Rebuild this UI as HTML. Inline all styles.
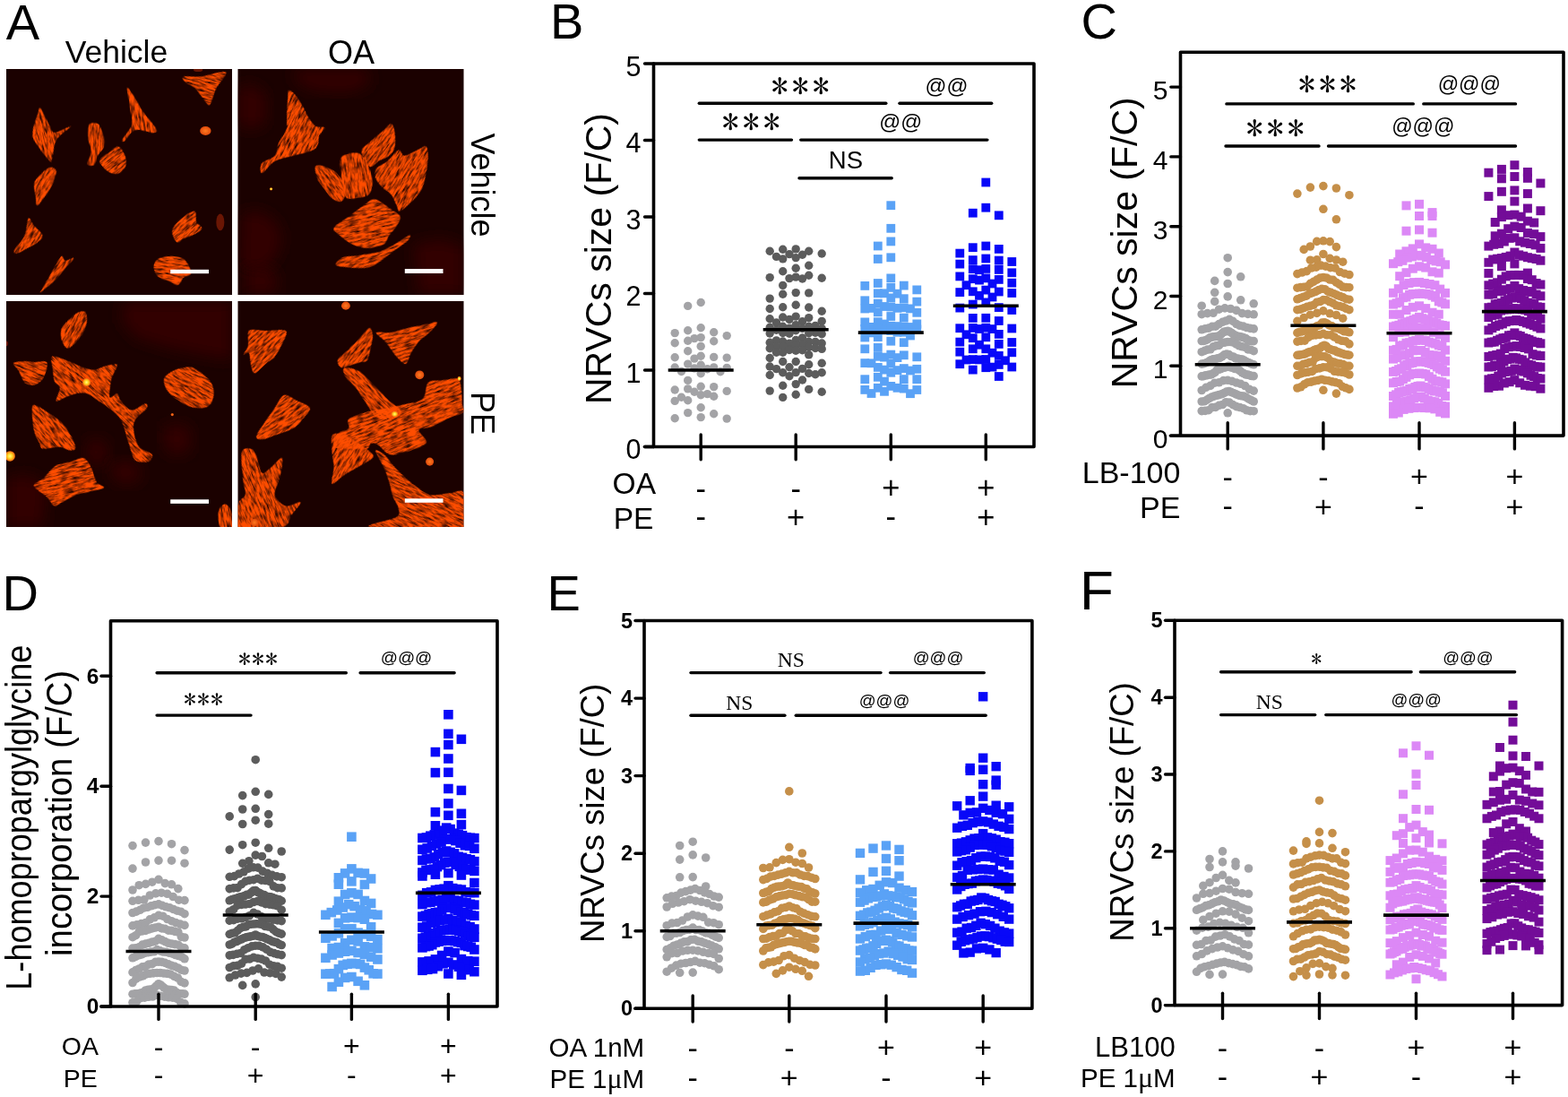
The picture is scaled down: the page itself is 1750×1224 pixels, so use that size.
<!DOCTYPE html>
<html><head><meta charset="utf-8"><title>Figure</title>
<style>html,body{margin:0;padding:0;background:#fff;} svg{display:block;}</style>
</head><body>
<svg width="1750" height="1224" viewBox="0 0 1750 1224">
<rect width="1750" height="1224" fill="#fff"/>
<defs><clipPath id="clipimg"><rect x="0" y="0" width="252" height="252"/></clipPath><filter id="cellf0" x="-10%" y="-10%" width="120%" height="120%"><feTurbulence type="fractalNoise" baseFrequency="0.018 0.1" numOctaves="3" seed="3" result="n"/><feColorMatrix in="n" type="matrix" values="0 0 0 0 0  0 0 0 0 0  0 0 0 0 0  0 0 0 2.2 -0.33" result="na"/><feComposite in="SourceGraphic" in2="na" operator="in" result="tex"/><feGaussianBlur in="tex" stdDeviation="3"/></filter><filter id="cellf1" x="-10%" y="-10%" width="120%" height="120%"><feTurbulence type="fractalNoise" baseFrequency="0.018 0.1" numOctaves="3" seed="11" result="n"/><feColorMatrix in="n" type="matrix" values="0 0 0 0 0  0 0 0 0 0  0 0 0 0 0  0 0 0 2.2 -0.33" result="na"/><feComposite in="SourceGraphic" in2="na" operator="in" result="tex"/><feGaussianBlur in="tex" stdDeviation="3"/></filter><filter id="cellf2" x="-10%" y="-10%" width="120%" height="120%"><feTurbulence type="fractalNoise" baseFrequency="0.018 0.1" numOctaves="3" seed="23" result="n"/><feColorMatrix in="n" type="matrix" values="0 0 0 0 0  0 0 0 0 0  0 0 0 0 0  0 0 0 2.2 -0.33" result="na"/><feComposite in="SourceGraphic" in2="na" operator="in" result="tex"/><feGaussianBlur in="tex" stdDeviation="3"/></filter><filter id="faintf" x="-20%" y="-20%" width="140%" height="140%"><feGaussianBlur stdDeviation="40"/></filter><radialGradient id="brightdot"><stop offset="0" stop-color="#ffff80"/><stop offset="0.5" stop-color="#ffd020"/><stop offset="1" stop-color="#f06010"/></radialGradient><radialGradient id="orangedot"><stop offset="0" stop-color="#ff7a20"/><stop offset="1" stop-color="#e04a0c"/></radialGradient></defs>
<text x="6.8" y="43.7" font-size="56" text-anchor="start" font-weight="normal" font-family="'Liberation Sans', Arial, sans-serif" >A</text>
<text x="130.0" y="69.9" font-size="35.5" text-anchor="middle" font-weight="normal" font-family="'Liberation Sans', Arial, sans-serif" >Vehicle</text>
<text x="392.0" y="71.0" font-size="36" text-anchor="middle" font-weight="normal" font-family="'Liberation Sans', Arial, sans-serif" >OA</text>
<text transform="translate(525.5,206.5) rotate(90)" x="0" y="0" font-size="36" text-anchor="middle" font-family="'Liberation Sans', Arial, sans-serif">Vehicle</text>
<text transform="translate(526.0,460.9) rotate(90)" x="0" y="0" font-size="36" text-anchor="middle" font-family="'Liberation Sans', Arial, sans-serif">PE</text>
<g transform="translate(7,77)">
<rect x="0" y="0" width="252" height="252" fill="#1b0100"/>
<g clip-path="url(#clipimg)"><g transform="scale(0.205882)">
<g transform="rotate(76.6 225 349)"><path d="M82,356C94,349 155,338 179,331C202,324 223,331 229,312C235,294 210,217 216,217C223,217 247,289 271,312C295,335 352,349 367,359C383,370 388,365 368,376C348,388 271,423 242,430C214,438 210,431 188,423C166,414 123,386 106,375C90,365 71,363 82,356Z" fill="#ff4e06" filter="url(#cellf0)"/></g>
<g transform="rotate(91.8 477 403)"><path d="M370,428C366,420 363,395 373,383C383,372 413,362 432,356C452,351 475,345 492,349C510,354 527,375 543,383C560,391 587,393 594,401C601,410 601,434 590,436C579,439 546,419 525,419C503,418 476,433 455,436C434,439 409,439 395,438C381,436 373,437 370,428Z" fill="#ff4e06" filter="url(#cellf1)"/></g>
<g transform="rotate(140.7 581 498)"><path d="M631,550C619,554 586,550 567,549C548,548 522,553 513,544C505,534 507,507 512,490C516,473 528,448 542,438C556,428 586,424 601,428C617,432 630,448 637,464C644,479 647,509 646,523C645,537 644,545 631,550Z" fill="#ff4e06" filter="url(#cellf2)"/></g>
<g transform="rotate(83.9 702 276)"><path d="M523,304C517,299 565,277 587,266C610,254 634,248 661,233C689,219 739,181 758,173C778,166 782,168 782,186C782,204 752,258 756,284C761,310 803,338 810,350C816,362 812,367 799,359C785,351 752,310 724,300C697,291 656,299 624,300C592,300 529,309 523,304Z" fill="#ff4e06" filter="url(#cellf0)"/></g>
<g transform="rotate(-165.0 1068 96)"><path d="M1186,121C1175,129 1134,131 1099,145C1065,158 987,211 971,205C954,199 992,134 997,110C1002,86 1001,73 1003,56C1005,40 1002,10 1011,8C1020,5 1045,30 1061,41C1078,52 1096,70 1113,79C1130,88 1157,88 1169,95C1181,102 1197,113 1186,121Z" fill="#ff4e06" filter="url(#cellf1)"/></g>
<g transform="rotate(119.0 204 628)"><path d="M200,680C179,677 125,662 110,650C94,639 97,617 103,608C110,599 133,595 152,593C170,590 192,588 219,590C245,591 307,597 318,603C329,610 300,621 288,632C275,642 254,662 240,669C226,677 221,683 200,680Z" fill="#ff4e06" filter="url(#cellf2)"/></g>
<g transform="rotate(124.2 114 921)"><path d="M18,979C7,977 29,949 34,931C40,913 40,877 50,866C61,855 75,857 98,864C120,871 171,900 190,910C208,921 213,924 215,930C217,935 219,943 201,945C183,947 133,939 104,945C75,950 29,981 18,979Z" fill="#ff4e06" filter="url(#cellf0)"/></g>
<g transform="rotate(128.3 271 1103)"><path d="M184,1135C176,1131 196,1113 191,1104C186,1095 146,1082 151,1078C156,1074 196,1079 223,1079C249,1080 288,1080 315,1083C342,1086 376,1096 391,1099C406,1103 416,1102 408,1105C400,1107 367,1110 339,1115C312,1119 263,1128 238,1131C213,1134 191,1140 184,1135Z" fill="#ff4e06" filter="url(#cellf1)"/></g>
<g transform="rotate(137.9 977 868)"><path d="M1035,918C1018,926 983,930 958,929C933,928 886,922 879,911C872,900 907,875 912,860C917,845 903,825 910,818C916,811 934,812 952,816C970,819 1007,835 1024,840C1041,845 1054,840 1060,845C1066,851 1065,862 1061,874C1057,885 1052,909 1035,918Z" fill="#ff4e06" filter="url(#cellf2)"/></g>
<g transform="rotate(-171.7 899 1090)"><path d="M1001,1106C998,1118 991,1135 976,1144C961,1154 929,1162 908,1164C887,1167 862,1165 847,1158C831,1152 819,1135 811,1123C803,1111 792,1095 795,1085C799,1075 822,1070 832,1059C842,1048 844,1020 856,1015C868,1010 892,1024 908,1028C925,1032 948,1034 961,1041C974,1047 984,1056 990,1067C996,1077 1003,1093 1001,1106Z" fill="#ff4e06" filter="url(#cellf0)"/></g>
<ellipse cx="1080" cy="335" rx="30" ry="24" fill="url(#orangedot)"/>
<ellipse cx="1160" cy="830" rx="22" ry="45" fill="#6a1604"/>
<ellipse cx="1040" cy="5" rx="25" ry="10" fill="#6a1604"/>
</g></g>
<rect x="183.2" y="223.8" width="42.8" height="4.4" fill="#fff"/>
</g>
<g transform="translate(265.5,77)">
<rect x="0" y="0" width="252" height="252" fill="#1b0100"/>
<g clip-path="url(#clipimg)"><g transform="scale(0.205882)">
<polygon points="20,780 120,770 200,820 240,900 220,1000 160,1080 60,1100 10,1050" fill="#300602" filter="url(#faintf)"/>
<polygon points="40,1080 140,1060 220,1120 200,1224 40,1224" fill="#300602" filter="url(#faintf)"/>
<polygon points="300,0 700,0 720,80 600,130 420,120 320,80" fill="#300602" filter="url(#faintf)"/>
<polygon points="950,950 1100,920 1224,960 1224,1224 980,1224" fill="#300602" filter="url(#faintf)"/>
<polygon points="0,100 80,80 160,150 150,300 60,330 0,300" fill="#300602" filter="url(#faintf)"/>
<g transform="rotate(115.5 302 345)"><path d="M106,468C100,464 106,442 113,426C120,409 138,382 150,364C163,345 180,328 191,311C202,293 217,270 219,253C221,236 199,211 205,205C211,198 238,215 256,214C273,212 297,194 314,197C331,199 347,214 363,229C379,244 396,270 415,292C435,315 460,352 485,370C511,388 568,396 574,405C581,414 543,432 525,429C506,425 480,388 458,383C436,377 411,394 387,395C362,396 334,384 306,389C279,394 239,417 214,427C189,438 166,447 148,453C131,460 111,472 106,468Z" fill="#ff4e06" filter="url(#cellf0)"/></g>
<g transform="rotate(125.6 770 422)"><path d="M843,492C826,498 799,486 773,480C748,475 707,464 684,458C661,453 636,455 632,446C628,438 643,418 657,404C672,390 703,366 722,357C742,349 762,348 780,353C799,357 823,377 840,384C857,391 881,390 887,399C894,408 887,426 880,441C873,456 860,486 843,492Z" fill="#ff4e06" filter="url(#cellf1)"/></g>
<g transform="rotate(83.2 644 590)"><path d="M524,661C509,645 503,590 510,569C518,547 553,535 571,525C589,516 605,514 623,511C641,509 665,505 683,509C702,512 729,521 741,536C752,550 753,578 753,597C754,617 757,645 746,657C735,669 707,668 684,670C662,672 629,672 604,670C578,669 539,677 524,661Z" fill="#ff4e06" filter="url(#cellf2)"/></g>
<g transform="rotate(53.0 502 619)"><path d="M381,631C376,621 387,607 401,596C416,585 448,567 471,561C495,556 525,556 546,562C568,568 595,588 605,600C616,612 620,628 614,638C609,648 591,657 571,662C552,666 515,666 493,666C471,665 453,665 435,659C417,654 387,641 381,631Z" fill="#ff4e06" filter="url(#cellf0)"/></g>
<g transform="rotate(119.8 900 565)"><path d="M952,707C935,705 911,684 888,675C864,666 817,663 806,653C795,643 822,624 817,612C812,600 788,588 775,578C762,569 747,561 738,554C728,546 712,541 714,533C716,524 733,510 753,499C772,488 810,472 836,463C862,454 891,443 915,441C939,438 959,439 987,446C1014,452 1074,470 1087,480C1101,491 1080,498 1071,513C1063,527 1042,549 1034,568C1027,587 1030,613 1024,632C1018,651 1010,675 998,687C987,699 970,709 952,707Z" fill="#ff4e06" filter="url(#cellf1)"/></g>
<g transform="rotate(166.2 716 849)"><path d="M909,884C897,898 846,911 817,924C787,936 750,953 725,963C699,972 681,991 658,983C636,974 602,928 584,908C566,888 546,872 545,857C544,842 563,826 576,813C589,800 612,787 627,774C642,761 647,739 668,733C689,726 734,728 760,735C786,741 812,757 833,773C854,790 877,821 889,838C901,856 920,871 909,884Z" fill="#ff4e06" filter="url(#cellf2)"/></g>
<g transform="rotate(159.8 737 1005)"><path d="M951,1024C952,1034 920,1047 900,1048C879,1049 851,1036 821,1030C791,1024 744,1012 711,1010C678,1008 643,1013 613,1017C582,1021 532,1037 520,1036C509,1035 522,1020 540,1011C559,1003 605,992 636,983C667,974 706,959 732,954C757,949 771,946 797,951C822,956 866,974 890,986C915,998 949,1014 951,1024Z" fill="#ff4e06" filter="url(#cellf0)"/></g>
<ellipse cx="180" cy="650" rx="8" ry="8" fill="url(#brightdot)"/>
</g></g>
<rect x="186.3" y="223.0" width="42.7" height="5.0" fill="#fff"/>
</g>
<g transform="translate(7,336)">
<rect x="0" y="0" width="252" height="252" fill="#1b0100"/>
<g clip-path="url(#clipimg)"><g transform="scale(0.205882)">
<polygon points="640,0 1224,0 1224,320 1100,300 900,260 700,200 620,100" fill="#300602" filter="url(#faintf)"/>
<polygon points="850,680 960,660 1010,720 990,820 900,840 850,780" fill="#300602" filter="url(#faintf)"/>
<polygon points="0,960 120,940 220,1000 200,1224 0,1224" fill="#300602" filter="url(#faintf)"/>
<polygon points="430,760 520,740 560,820 520,900 440,880" fill="#300602" filter="url(#faintf)"/>
<polygon points="560,880 700,860 740,960 650,1000 570,960" fill="#300602" filter="url(#faintf)"/>
<g transform="rotate(118.4 367 152)"><path d="M398,212C379,214 354,206 335,200C315,194 288,185 276,175C263,166 252,151 257,140C262,129 289,113 307,107C326,101 351,100 372,101C392,101 418,106 435,112C451,118 473,124 476,135C478,147 463,171 450,183C438,195 416,209 398,212Z" fill="#ff4e06" filter="url(#cellf0)"/></g>
<g transform="rotate(-157.9 134 382)"><path d="M240,389C238,399 204,414 188,421C172,429 158,429 139,435C121,442 88,468 75,462C62,455 58,412 58,393C57,374 63,357 70,345C77,332 90,321 102,316C114,311 130,308 144,315C159,322 180,347 195,359C210,371 241,379 240,389Z" fill="#ff4e06" filter="url(#cellf1)"/></g>
<g transform="rotate(-136.3 535 546)"><path d="M914,523C913,534 882,546 867,554C851,562 836,566 817,574C798,581 765,591 746,601C726,610 708,620 695,635C683,649 677,675 666,691C655,707 637,741 626,736C615,731 610,686 596,661C581,636 546,588 534,582C522,576 528,620 519,624C510,628 496,610 477,609C457,607 415,601 399,614C382,627 380,678 372,688C364,698 351,692 348,677C344,661 355,613 350,592C345,570 334,557 315,542C297,526 258,501 232,497C206,493 168,520 153,517C139,513 136,486 140,474C144,462 165,446 176,439C188,433 193,427 212,433C231,439 264,461 296,477C327,494 376,527 408,536C439,546 467,540 492,538C517,537 541,530 563,526C586,522 616,522 634,513C653,505 666,487 678,472C689,456 699,433 707,416C716,399 721,364 730,367C739,369 750,420 764,431C777,443 796,431 813,439C830,448 852,470 868,483C885,496 914,512 914,523Z" fill="#ff4e06" filter="url(#cellf2)"/></g>
<g transform="rotate(-150.3 998 465)"><path d="M1144,433C1148,449 1135,474 1125,490C1115,507 1097,526 1083,537C1069,549 1058,559 1040,562C1021,565 988,560 968,557C947,554 929,552 913,542C897,533 879,515 870,498C861,481 855,452 858,436C860,419 872,406 887,396C902,385 929,374 953,370C976,366 1010,367 1033,370C1057,373 1084,378 1102,389C1119,399 1141,417 1144,433Z" fill="#ff4e06" filter="url(#cellf0)"/></g>
<g transform="rotate(49.2 245 706)"><path d="M81,703C66,688 72,686 83,678C94,671 125,663 148,656C172,649 206,638 232,635C258,632 284,632 310,637C336,641 380,653 394,662C407,672 401,684 392,694C384,705 355,710 338,727C321,744 301,790 287,801C273,813 268,801 251,797C234,793 206,789 178,774C151,759 96,718 81,703Z" fill="#ff4e06" filter="url(#cellf1)"/></g>
<g transform="rotate(165.0 345 985)"><path d="M538,1020C537,1036 503,1034 479,1046C456,1058 421,1088 394,1095C367,1103 336,1094 311,1094C286,1094 254,1105 239,1095C223,1086 218,1060 213,1037C207,1014 211,972 204,952C198,932 167,919 174,912C180,906 222,911 246,911C271,911 302,915 329,913C356,910 395,899 416,895C437,890 449,878 460,886C471,893 474,923 486,944C498,966 539,1004 538,1020Z" fill="#ff4e06" filter="url(#cellf2)"/></g>
<g transform="rotate(80.6 1191 1165)"><path d="M1160,1201C1141,1195 1127,1175 1126,1165C1124,1155 1137,1144 1150,1139C1164,1134 1195,1134 1212,1135C1229,1135 1250,1131 1255,1142C1260,1153 1260,1196 1245,1205C1230,1215 1179,1208 1160,1201Z" fill="#ff4e06" filter="url(#cellf0)"/></g>
<ellipse cx="20" cy="840" rx="28" ry="28" fill="url(#brightdot)"/>
<ellipse cx="435" cy="440" rx="22" ry="22" fill="url(#brightdot)"/>
<ellipse cx="900" cy="615" rx="8" ry="8" fill="url(#orangedot)"/>
<ellipse cx="0" cy="230" rx="10" ry="14" fill="#6a1604"/>
</g></g>
<rect x="183.2" y="221.3" width="42.8" height="4.6" fill="#fff"/>
</g>
<g transform="translate(265.5,336)">
<rect x="0" y="0" width="252" height="252" fill="#1b0100"/>
<g clip-path="url(#clipimg)"><g transform="scale(0.205882)">
<g transform="rotate(135.8 124 263)"><path d="M98,381C79,380 57,341 34,318C11,296 -42,260 -45,242C-47,224 -4,215 18,205C41,196 73,186 96,183C118,181 137,187 159,189C182,191 228,186 237,195C246,204 226,229 217,245C208,261 183,285 182,295C181,305 214,304 211,309C207,314 176,316 158,327C140,339 118,382 98,381Z" fill="#ff4e06" filter="url(#cellf0)"/></g>
<g transform="rotate(130.6 648 272)"><path d="M755,322C739,327 698,317 671,315C643,313 611,310 586,309C561,308 521,313 512,307C502,300 513,281 525,269C537,257 565,242 585,231C605,220 635,202 651,200C667,199 671,215 685,224C699,233 725,248 739,257C753,266 770,270 772,281C775,291 771,316 755,322Z" fill="#ff4e06" filter="url(#cellf1)"/></g>
<g transform="rotate(161.4 916 206)"><path d="M1063,293C1057,300 1020,275 996,271C972,266 943,267 914,264C885,261 842,255 813,251C784,247 736,248 732,240C728,232 767,211 788,201C808,190 840,184 861,172C881,161 901,143 918,128C934,114 952,80 965,81C978,82 989,111 1000,135C1010,159 1021,204 1031,230C1041,255 1068,286 1063,293Z" fill="#ff4e06" filter="url(#cellf2)"/></g>
<g transform="rotate(143.1 241 639)"><path d="M408,651C396,662 348,675 320,685C293,694 265,703 238,711C212,719 175,743 156,737C137,730 130,693 118,671C107,648 81,612 86,597C92,581 132,578 154,573C177,567 200,561 224,563C249,565 279,578 306,587C334,596 380,607 396,617C413,627 421,640 408,651Z" fill="#ff4e06" filter="url(#cellf0)"/></g>
<g transform="rotate(-135.6 718 498)"><path d="M913,486C918,494 910,505 898,514C887,523 859,537 841,541C823,546 807,541 785,541C762,541 727,540 700,540C673,540 641,538 615,539C589,540 552,549 537,545C522,542 520,532 523,517C527,502 544,468 559,454C574,439 596,428 616,426C637,424 659,435 687,441C715,447 764,459 793,463C821,467 844,460 863,464C882,467 907,478 913,486Z" fill="#ff4e06" filter="url(#cellf1)"/></g>
<g transform="rotate(157.3 890 651)"><path d="M1152,773C1132,780 1078,774 1045,771C1012,767 977,757 945,751C913,744 877,736 845,731C812,726 768,710 741,720C714,729 699,782 679,791C658,800 635,780 610,773C585,766 536,762 523,748C510,734 523,707 528,685C533,662 549,627 554,609C560,590 547,575 561,569C575,562 611,571 641,569C672,568 723,562 753,562C782,562 815,582 825,571C835,559 796,503 815,491C834,478 912,487 945,491C978,494 1005,498 1023,512C1041,527 1048,567 1059,582C1070,597 1082,606 1092,606C1102,607 1105,585 1122,586C1139,588 1170,605 1196,617C1222,630 1277,648 1284,665C1291,682 1257,712 1239,722C1221,732 1186,718 1172,727C1158,735 1173,766 1152,773Z" fill="#ff4e06" filter="url(#cellf2)"/></g>
<g transform="rotate(119.7 593 843)"><path d="M536,971C518,972 509,953 502,933C496,912 496,873 498,843C499,813 505,764 510,744C516,724 515,717 531,720C548,724 590,752 614,765C639,779 660,794 684,806C707,819 763,831 762,842C761,854 702,865 679,878C655,892 637,912 614,927C591,941 554,970 536,971Z" fill="#ff4e06" filter="url(#cellf0)"/></g>
<g transform="rotate(-152.4 919 1020)"><path d="M1170,1125C1175,1135 1143,1134 1121,1129C1099,1124 1060,1103 1035,1094C1011,1085 991,1079 968,1073C945,1067 919,1060 892,1057C864,1053 827,1041 798,1049C768,1058 730,1094 705,1109C679,1124 663,1164 639,1143C615,1123 496,1044 554,980C612,917 945,766 1001,747C1056,728 915,834 902,860C888,885 905,894 916,908C927,923 953,932 970,948C988,964 1006,990 1025,1009C1044,1028 1065,1048 1089,1066C1112,1085 1165,1116 1170,1125Z" fill="#ff4e06" filter="url(#cellf1)"/></g>
<g transform="rotate(68.3 148 1005)"><path d="M-71,1055C-95,1039 -79,1012 -71,1002C-63,991 -46,990 -23,989C0,987 58,1002 72,994C86,986 68,958 63,936C57,915 28,867 38,862C49,858 100,891 127,909C155,926 184,968 209,973C235,978 273,958 287,940C301,921 289,860 298,858C307,857 331,908 345,931C359,953 393,954 386,1001C378,1048 329,1195 297,1224C264,1252 205,1194 182,1178C158,1161 166,1134 150,1122C134,1110 117,1116 81,1105C46,1095 -47,1072 -71,1055Z" fill="#ff4e06" filter="url(#cellf2)"/></g>
<ellipse cx="985" cy="400" rx="24" ry="24" fill="url(#orangedot)"/>
<ellipse cx="1200" cy="420" rx="10" ry="12" fill="url(#brightdot)"/>
<ellipse cx="850" cy="612" rx="18" ry="16" fill="url(#brightdot)"/>
<ellipse cx="1040" cy="870" rx="22" ry="22" fill="url(#orangedot)"/>
<ellipse cx="585" cy="25" rx="24" ry="22" fill="url(#orangedot)"/>
<ellipse cx="90" cy="1200" rx="20" ry="20" fill="url(#orangedot)"/>
</g></g>
<rect x="186.3" y="220.3" width="42.7" height="4.5" fill="#fff"/>
</g>
<text x="614.0" y="42.6" font-size="56" text-anchor="start" font-weight="normal" font-family="'Liberation Sans', Arial, sans-serif" >B</text>
<g fill="#a3a3a6"><circle cx="782.2" cy="337.5" r="4.70"/><circle cx="767.7" cy="341.4" r="4.70"/><circle cx="782.2" cy="365.8" r="4.70"/><circle cx="767.7" cy="368.7" r="4.70"/><circle cx="796.7" cy="370.8" r="4.70"/><circle cx="753.2" cy="371.6" r="4.70"/><circle cx="811.2" cy="374.6" r="4.70"/><circle cx="782.2" cy="376.6" r="4.70"/><circle cx="775.0" cy="377.6" r="4.70"/><circle cx="767.7" cy="380.3" r="4.70"/><circle cx="796.7" cy="380.8" r="4.70"/><circle cx="753.2" cy="382.7" r="4.70"/><circle cx="782.2" cy="386.4" r="4.70"/><circle cx="767.7" cy="391.8" r="4.70"/><circle cx="782.2" cy="397.3" r="4.70"/><circle cx="796.7" cy="398.4" r="4.70"/><circle cx="753.2" cy="398.8" r="4.70"/><circle cx="811.2" cy="399.1" r="4.70"/><circle cx="775.0" cy="400.1" r="4.70"/><circle cx="767.7" cy="406.1" r="4.70"/><circle cx="782.2" cy="407.3" r="4.70"/><circle cx="796.7" cy="409.9" r="4.70"/><circle cx="753.2" cy="410.0" r="4.70"/><circle cx="811.2" cy="410.4" r="4.70"/><circle cx="775.0" cy="410.9" r="4.70"/><circle cx="789.5" cy="411.7" r="4.70"/><circle cx="760.5" cy="414.5" r="4.70"/><circle cx="804.0" cy="414.7" r="4.70"/><circle cx="782.2" cy="416.8" r="4.70"/><circle cx="767.7" cy="424.4" r="4.70"/><circle cx="782.2" cy="431.3" r="4.70"/><circle cx="796.7" cy="431.6" r="4.70"/><circle cx="767.7" cy="433.9" r="4.70"/><circle cx="753.2" cy="435.0" r="4.70"/><circle cx="811.2" cy="436.4" r="4.70"/><circle cx="775.0" cy="437.2" r="4.70"/><circle cx="789.5" cy="439.6" r="4.70"/><circle cx="782.2" cy="440.7" r="4.70"/><circle cx="796.7" cy="442.3" r="4.70"/><circle cx="760.5" cy="443.2" r="4.70"/><circle cx="767.7" cy="446.8" r="4.70"/><circle cx="753.2" cy="447.4" r="4.70"/><circle cx="782.2" cy="454.7" r="4.70"/><circle cx="767.7" cy="460.6" r="4.70"/><circle cx="796.7" cy="461.8" r="4.70"/><circle cx="782.2" cy="465.6" r="4.70"/><circle cx="753.2" cy="466.8" r="4.70"/><circle cx="811.2" cy="467.1" r="4.70"/></g>
<g fill="#5c5c5c"><circle cx="888.2" cy="277.9" r="4.70"/><circle cx="873.7" cy="278.2" r="4.70"/><circle cx="902.7" cy="280.2" r="4.70"/><circle cx="859.2" cy="280.3" r="4.70"/><circle cx="917.2" cy="283.0" r="4.70"/><circle cx="881.0" cy="283.6" r="4.70"/><circle cx="895.5" cy="284.2" r="4.70"/><circle cx="866.5" cy="286.4" r="4.70"/><circle cx="888.2" cy="287.6" r="4.70"/><circle cx="873.7" cy="288.9" r="4.70"/><circle cx="902.7" cy="296.2" r="4.70"/><circle cx="888.2" cy="299.3" r="4.70"/><circle cx="873.7" cy="302.7" r="4.70"/><circle cx="902.7" cy="307.2" r="4.70"/><circle cx="888.2" cy="309.1" r="4.70"/><circle cx="859.2" cy="309.6" r="4.70"/><circle cx="917.2" cy="310.3" r="4.70"/><circle cx="881.0" cy="310.6" r="4.70"/><circle cx="895.5" cy="311.0" r="4.70"/><circle cx="873.7" cy="318.4" r="4.70"/><circle cx="888.2" cy="326.6" r="4.70"/><circle cx="902.7" cy="326.9" r="4.70"/><circle cx="873.7" cy="328.2" r="4.70"/><circle cx="859.2" cy="333.1" r="4.70"/><circle cx="888.2" cy="340.3" r="4.70"/><circle cx="873.7" cy="342.7" r="4.70"/><circle cx="902.7" cy="343.0" r="4.70"/><circle cx="859.2" cy="344.5" r="4.70"/><circle cx="917.2" cy="347.2" r="4.70"/><circle cx="888.2" cy="353.1" r="4.70"/><circle cx="873.7" cy="354.0" r="4.70"/><circle cx="902.7" cy="354.6" r="4.70"/><circle cx="859.2" cy="355.8" r="4.70"/><circle cx="881.0" cy="356.4" r="4.70"/><circle cx="917.2" cy="358.4" r="4.70"/><circle cx="895.5" cy="358.8" r="4.70"/><circle cx="866.5" cy="359.9" r="4.70"/><circle cx="888.2" cy="362.6" r="4.70"/><circle cx="910.0" cy="363.4" r="4.70"/><circle cx="873.7" cy="364.2" r="4.70"/><circle cx="902.7" cy="364.3" r="4.70"/><circle cx="859.2" cy="365.3" r="4.70"/><circle cx="881.0" cy="366.1" r="4.70"/><circle cx="917.2" cy="366.5" r="4.70"/><circle cx="895.5" cy="366.5" r="4.70"/><circle cx="866.5" cy="368.3" r="4.70"/><circle cx="888.2" cy="368.8" r="4.70"/><circle cx="910.0" cy="371.2" r="4.70"/><circle cx="873.7" cy="371.5" r="4.70"/><circle cx="902.7" cy="371.7" r="4.70"/><circle cx="859.2" cy="372.0" r="4.70"/><circle cx="881.0" cy="372.3" r="4.70"/><circle cx="917.2" cy="372.8" r="4.70"/><circle cx="895.5" cy="377.0" r="4.70"/><circle cx="888.2" cy="379.5" r="4.70"/><circle cx="866.5" cy="379.9" r="4.70"/><circle cx="873.7" cy="381.0" r="4.70"/><circle cx="902.7" cy="381.2" r="4.70"/><circle cx="910.0" cy="381.4" r="4.70"/><circle cx="859.2" cy="382.2" r="4.70"/><circle cx="917.2" cy="383.0" r="4.70"/><circle cx="881.0" cy="383.1" r="4.70"/><circle cx="895.5" cy="384.0" r="4.70"/><circle cx="888.2" cy="385.7" r="4.70"/><circle cx="866.5" cy="386.6" r="4.70"/><circle cx="873.7" cy="387.0" r="4.70"/><circle cx="902.7" cy="387.5" r="4.70"/><circle cx="910.0" cy="388.5" r="4.70"/><circle cx="859.2" cy="388.7" r="4.70"/><circle cx="917.2" cy="389.4" r="4.70"/><circle cx="881.0" cy="390.5" r="4.70"/><circle cx="895.5" cy="390.7" r="4.70"/><circle cx="888.2" cy="391.2" r="4.70"/><circle cx="866.5" cy="393.2" r="4.70"/><circle cx="873.7" cy="393.3" r="4.70"/><circle cx="902.7" cy="395.9" r="4.70"/><circle cx="859.2" cy="399.5" r="4.70"/><circle cx="888.2" cy="403.5" r="4.70"/><circle cx="873.7" cy="403.5" r="4.70"/><circle cx="917.2" cy="405.2" r="4.70"/><circle cx="902.7" cy="406.8" r="4.70"/><circle cx="859.2" cy="409.0" r="4.70"/><circle cx="881.0" cy="409.8" r="4.70"/><circle cx="895.5" cy="411.4" r="4.70"/><circle cx="866.5" cy="411.6" r="4.70"/><circle cx="888.2" cy="415.6" r="4.70"/><circle cx="873.7" cy="415.7" r="4.70"/><circle cx="917.2" cy="415.8" r="4.70"/><circle cx="902.7" cy="416.5" r="4.70"/><circle cx="910.0" cy="417.7" r="4.70"/><circle cx="859.2" cy="418.5" r="4.70"/><circle cx="881.0" cy="419.8" r="4.70"/><circle cx="895.5" cy="424.0" r="4.70"/><circle cx="888.2" cy="428.6" r="4.70"/><circle cx="873.7" cy="430.3" r="4.70"/><circle cx="902.7" cy="434.4" r="4.70"/><circle cx="859.2" cy="436.1" r="4.70"/><circle cx="917.2" cy="437.3" r="4.70"/><circle cx="888.2" cy="440.3" r="4.70"/><circle cx="873.7" cy="443.4" r="4.70"/></g>
<g fill="#5aa2f6"><rect x="989.4" y="224.3" width="9.8" height="9.8"/><rect x="989.4" y="249.9" width="9.8" height="9.8"/><rect x="989.4" y="264.5" width="9.8" height="9.8"/><rect x="974.9" y="269.6" width="9.8" height="9.8"/><rect x="989.4" y="282.4" width="9.8" height="9.8"/><rect x="974.9" y="284.1" width="9.8" height="9.8"/><rect x="989.4" y="305.5" width="9.8" height="9.8"/><rect x="974.9" y="311.1" width="9.8" height="9.8"/><rect x="1003.9" y="313.7" width="9.8" height="9.8"/><rect x="960.4" y="314.0" width="9.8" height="9.8"/><rect x="989.4" y="316.0" width="9.8" height="9.8"/><rect x="1018.4" y="318.5" width="9.8" height="9.8"/><rect x="974.9" y="322.4" width="9.8" height="9.8"/><rect x="982.1" y="322.4" width="9.8" height="9.8"/><rect x="996.6" y="322.8" width="9.8" height="9.8"/><rect x="989.4" y="327.5" width="9.8" height="9.8"/><rect x="1003.9" y="328.3" width="9.8" height="9.8"/><rect x="960.4" y="330.4" width="9.8" height="9.8"/><rect x="1018.4" y="331.7" width="9.8" height="9.8"/><rect x="974.9" y="333.7" width="9.8" height="9.8"/><rect x="982.1" y="337.1" width="9.8" height="9.8"/><rect x="989.4" y="337.6" width="9.8" height="9.8"/><rect x="1003.9" y="338.4" width="9.8" height="9.8"/><rect x="996.6" y="338.9" width="9.8" height="9.8"/><rect x="967.6" y="339.0" width="9.8" height="9.8"/><rect x="1011.1" y="339.5" width="9.8" height="9.8"/><rect x="960.4" y="339.6" width="9.8" height="9.8"/><rect x="974.9" y="343.5" width="9.8" height="9.8"/><rect x="1018.4" y="343.9" width="9.8" height="9.8"/><rect x="989.4" y="348.1" width="9.8" height="9.8"/><rect x="1003.9" y="349.7" width="9.8" height="9.8"/><rect x="974.9" y="354.3" width="9.8" height="9.8"/><rect x="960.4" y="354.5" width="9.8" height="9.8"/><rect x="1018.4" y="356.5" width="9.8" height="9.8"/><rect x="982.1" y="356.6" width="9.8" height="9.8"/><rect x="989.4" y="358.8" width="9.8" height="9.8"/><rect x="996.6" y="359.2" width="9.8" height="9.8"/><rect x="1003.9" y="359.8" width="9.8" height="9.8"/><rect x="967.6" y="360.0" width="9.8" height="9.8"/><rect x="1011.1" y="360.1" width="9.8" height="9.8"/><rect x="974.9" y="361.9" width="9.8" height="9.8"/><rect x="960.4" y="362.0" width="9.8" height="9.8"/><rect x="1018.4" y="362.6" width="9.8" height="9.8"/><rect x="982.1" y="363.6" width="9.8" height="9.8"/><rect x="989.4" y="364.1" width="9.8" height="9.8"/><rect x="996.6" y="365.8" width="9.8" height="9.8"/><rect x="1003.9" y="365.8" width="9.8" height="9.8"/><rect x="967.6" y="366.5" width="9.8" height="9.8"/><rect x="1011.1" y="369.6" width="9.8" height="9.8"/><rect x="974.9" y="371.2" width="9.8" height="9.8"/><rect x="960.4" y="371.6" width="9.8" height="9.8"/><rect x="989.4" y="375.8" width="9.8" height="9.8"/><rect x="1003.9" y="377.3" width="9.8" height="9.8"/><rect x="974.9" y="383.0" width="9.8" height="9.8"/><rect x="960.4" y="384.4" width="9.8" height="9.8"/><rect x="989.4" y="390.7" width="9.8" height="9.8"/><rect x="1003.9" y="391.4" width="9.8" height="9.8"/><rect x="974.9" y="392.9" width="9.8" height="9.8"/><rect x="1018.4" y="393.4" width="9.8" height="9.8"/><rect x="982.1" y="393.7" width="9.8" height="9.8"/><rect x="996.6" y="394.2" width="9.8" height="9.8"/><rect x="960.4" y="400.2" width="9.8" height="9.8"/><rect x="967.6" y="400.4" width="9.8" height="9.8"/><rect x="989.4" y="400.7" width="9.8" height="9.8"/><rect x="974.9" y="405.0" width="9.8" height="9.8"/><rect x="1003.9" y="406.2" width="9.8" height="9.8"/><rect x="1018.4" y="406.9" width="9.8" height="9.8"/><rect x="982.1" y="407.7" width="9.8" height="9.8"/><rect x="996.6" y="408.2" width="9.8" height="9.8"/><rect x="1011.1" y="408.6" width="9.8" height="9.8"/><rect x="989.4" y="410.9" width="9.8" height="9.8"/><rect x="974.9" y="415.9" width="9.8" height="9.8"/><rect x="1003.9" y="418.2" width="9.8" height="9.8"/><rect x="960.4" y="418.3" width="9.8" height="9.8"/><rect x="1018.4" y="418.3" width="9.8" height="9.8"/><rect x="982.1" y="420.7" width="9.8" height="9.8"/><rect x="989.4" y="426.0" width="9.8" height="9.8"/><rect x="974.9" y="427.9" width="9.8" height="9.8"/><rect x="996.6" y="427.9" width="9.8" height="9.8"/><rect x="1003.9" y="428.7" width="9.8" height="9.8"/><rect x="960.4" y="430.0" width="9.8" height="9.8"/><rect x="1018.4" y="430.1" width="9.8" height="9.8"/><rect x="982.1" y="431.9" width="9.8" height="9.8"/><rect x="967.6" y="434.1" width="9.8" height="9.8"/><rect x="1011.1" y="434.3" width="9.8" height="9.8"/></g>
<g fill="#0808f8"><rect x="1095.4" y="198.6" width="9.8" height="9.8"/><rect x="1095.4" y="226.8" width="9.8" height="9.8"/><rect x="1080.9" y="232.8" width="9.8" height="9.8"/><rect x="1109.9" y="235.4" width="9.8" height="9.8"/><rect x="1095.4" y="269.6" width="9.8" height="9.8"/><rect x="1080.9" y="271.3" width="9.8" height="9.8"/><rect x="1109.9" y="273.0" width="9.8" height="9.8"/><rect x="1066.4" y="277.7" width="9.8" height="9.8"/><rect x="1095.4" y="283.6" width="9.8" height="9.8"/><rect x="1080.9" y="285.2" width="9.8" height="9.8"/><rect x="1109.9" y="285.7" width="9.8" height="9.8"/><rect x="1124.4" y="287.1" width="9.8" height="9.8"/><rect x="1066.4" y="289.7" width="9.8" height="9.8"/><rect x="1095.4" y="295.0" width="9.8" height="9.8"/><rect x="1080.9" y="295.3" width="9.8" height="9.8"/><rect x="1109.9" y="296.0" width="9.8" height="9.8"/><rect x="1088.1" y="296.3" width="9.8" height="9.8"/><rect x="1124.4" y="299.4" width="9.8" height="9.8"/><rect x="1066.4" y="303.5" width="9.8" height="9.8"/><rect x="1095.4" y="305.5" width="9.8" height="9.8"/><rect x="1080.9" y="306.3" width="9.8" height="9.8"/><rect x="1109.9" y="307.0" width="9.8" height="9.8"/><rect x="1088.1" y="307.7" width="9.8" height="9.8"/><rect x="1124.4" y="310.8" width="9.8" height="9.8"/><rect x="1102.6" y="311.6" width="9.8" height="9.8"/><rect x="1073.6" y="313.3" width="9.8" height="9.8"/><rect x="1095.4" y="318.7" width="9.8" height="9.8"/><rect x="1080.9" y="320.4" width="9.8" height="9.8"/><rect x="1109.9" y="320.6" width="9.8" height="9.8"/><rect x="1066.4" y="321.2" width="9.8" height="9.8"/><rect x="1124.4" y="322.1" width="9.8" height="9.8"/><rect x="1088.1" y="324.9" width="9.8" height="9.8"/><rect x="1102.6" y="326.6" width="9.8" height="9.8"/><rect x="1095.4" y="332.5" width="9.8" height="9.8"/><rect x="1080.9" y="334.7" width="9.8" height="9.8"/><rect x="1109.9" y="338.2" width="9.8" height="9.8"/><rect x="1066.4" y="338.7" width="9.8" height="9.8"/><rect x="1124.4" y="341.1" width="9.8" height="9.8"/><rect x="1095.4" y="349.9" width="9.8" height="9.8"/><rect x="1080.9" y="350.0" width="9.8" height="9.8"/><rect x="1109.9" y="353.1" width="9.8" height="9.8"/><rect x="1095.4" y="360.8" width="9.8" height="9.8"/><rect x="1080.9" y="361.0" width="9.8" height="9.8"/><rect x="1066.4" y="361.3" width="9.8" height="9.8"/><rect x="1124.4" y="361.6" width="9.8" height="9.8"/><rect x="1088.1" y="362.1" width="9.8" height="9.8"/><rect x="1102.6" y="362.2" width="9.8" height="9.8"/><rect x="1109.9" y="368.0" width="9.8" height="9.8"/><rect x="1073.6" y="368.4" width="9.8" height="9.8"/><rect x="1095.4" y="371.4" width="9.8" height="9.8"/><rect x="1080.9" y="372.3" width="9.8" height="9.8"/><rect x="1066.4" y="376.7" width="9.8" height="9.8"/><rect x="1124.4" y="377.1" width="9.8" height="9.8"/><rect x="1109.9" y="379.0" width="9.8" height="9.8"/><rect x="1088.1" y="379.8" width="9.8" height="9.8"/><rect x="1095.4" y="384.4" width="9.8" height="9.8"/><rect x="1080.9" y="384.4" width="9.8" height="9.8"/><rect x="1066.4" y="387.8" width="9.8" height="9.8"/><rect x="1124.4" y="388.4" width="9.8" height="9.8"/><rect x="1102.6" y="388.8" width="9.8" height="9.8"/><rect x="1109.9" y="392.0" width="9.8" height="9.8"/><rect x="1095.4" y="396.1" width="9.8" height="9.8"/><rect x="1080.9" y="396.2" width="9.8" height="9.8"/><rect x="1088.1" y="396.5" width="9.8" height="9.8"/><rect x="1073.6" y="396.6" width="9.8" height="9.8"/><rect x="1117.1" y="397.4" width="9.8" height="9.8"/><rect x="1066.4" y="401.3" width="9.8" height="9.8"/><rect x="1109.9" y="402.0" width="9.8" height="9.8"/><rect x="1124.4" y="404.6" width="9.8" height="9.8"/><rect x="1102.6" y="404.7" width="9.8" height="9.8"/><rect x="1095.4" y="405.3" width="9.8" height="9.8"/><rect x="1080.9" y="407.7" width="9.8" height="9.8"/><rect x="1109.9" y="415.1" width="9.8" height="9.8"/></g>
<line x1="745.7" y1="413.0" x2="818.7" y2="413.0" stroke="#000" stroke-width="3.6" stroke-linecap="butt"/>
<line x1="851.7" y1="367.7" x2="924.7" y2="367.7" stroke="#000" stroke-width="3.6" stroke-linecap="butt"/>
<line x1="957.8" y1="371.1" x2="1030.8" y2="371.1" stroke="#000" stroke-width="3.6" stroke-linecap="butt"/>
<line x1="1063.8" y1="341.2" x2="1136.8" y2="341.2" stroke="#000" stroke-width="3.6" stroke-linecap="butt"/>
<path d="M729.5,71.0 H1154.0 V498.5 H729.5 Z" fill="none" stroke="#000" stroke-width="3.6" stroke-linejoin="round"/>
<line x1="719.5" y1="498.5" x2="729.5" y2="498.5" stroke="#000" stroke-width="3.4" stroke-linecap="round"/>
<line x1="719.5" y1="498.5" x2="729.5" y2="498.5" stroke="#000" stroke-width="3.4" stroke-linecap="round"/>
<text x="715.5" y="512.3" font-size="30.5" text-anchor="end" font-weight="normal" font-family="'Liberation Sans', Arial, sans-serif" >0</text>
<line x1="719.5" y1="413.0" x2="729.5" y2="413.0" stroke="#000" stroke-width="3.4" stroke-linecap="round"/>
<text x="715.5" y="426.8" font-size="30.5" text-anchor="end" font-weight="normal" font-family="'Liberation Sans', Arial, sans-serif" >1</text>
<line x1="719.5" y1="327.5" x2="729.5" y2="327.5" stroke="#000" stroke-width="3.4" stroke-linecap="round"/>
<text x="715.5" y="341.3" font-size="30.5" text-anchor="end" font-weight="normal" font-family="'Liberation Sans', Arial, sans-serif" >2</text>
<line x1="719.5" y1="242.0" x2="729.5" y2="242.0" stroke="#000" stroke-width="3.4" stroke-linecap="round"/>
<text x="715.5" y="255.8" font-size="30.5" text-anchor="end" font-weight="normal" font-family="'Liberation Sans', Arial, sans-serif" >3</text>
<line x1="719.5" y1="156.5" x2="729.5" y2="156.5" stroke="#000" stroke-width="3.4" stroke-linecap="round"/>
<text x="715.5" y="170.3" font-size="30.5" text-anchor="end" font-weight="normal" font-family="'Liberation Sans', Arial, sans-serif" >4</text>
<line x1="719.5" y1="71.0" x2="729.5" y2="71.0" stroke="#000" stroke-width="3.4" stroke-linecap="round"/>
<text x="715.5" y="84.8" font-size="30.5" text-anchor="end" font-weight="normal" font-family="'Liberation Sans', Arial, sans-serif" >5</text>
<line x1="782.2" y1="485.0" x2="782.2" y2="512.8" stroke="#000" stroke-width="3.4" stroke-linecap="round"/>
<line x1="888.2" y1="485.0" x2="888.2" y2="512.8" stroke="#000" stroke-width="3.4" stroke-linecap="round"/>
<line x1="994.3" y1="485.0" x2="994.3" y2="512.8" stroke="#000" stroke-width="3.4" stroke-linecap="round"/>
<line x1="1100.3" y1="485.0" x2="1100.3" y2="512.8" stroke="#000" stroke-width="3.4" stroke-linecap="round"/>
<line x1="780.3" y1="115.2" x2="988.8" y2="115.2" stroke="#000" stroke-width="3.4" stroke-linecap="round"/>
<line x1="1004.0" y1="115.2" x2="1106.7" y2="115.2" stroke="#000" stroke-width="3.4" stroke-linecap="round"/>
<line x1="780.3" y1="156.1" x2="883.5" y2="156.1" stroke="#000" stroke-width="3.4" stroke-linecap="round"/>
<line x1="893.7" y1="156.1" x2="1101.9" y2="156.1" stroke="#000" stroke-width="3.4" stroke-linecap="round"/>
<line x1="892.0" y1="198.8" x2="995.2" y2="198.8" stroke="#000" stroke-width="3.4" stroke-linecap="round"/>
<text x="895.2" y="110.3" font-size="38" text-anchor="middle" font-family="'IPAGothic', 'Liberation Serif', serif" letter-spacing="3.9">***</text>
<text x="840.2" y="149.7" font-size="38" text-anchor="middle" font-family="'IPAGothic', 'Liberation Serif', serif" letter-spacing="3.9">***</text>
<text x="1056.4" y="103.5" font-size="23.6" text-anchor="middle" font-weight="normal" font-family="'Liberation Sans', Arial, sans-serif" >@@</text>
<text x="1005.2" y="143.5" font-size="23.6" text-anchor="middle" font-weight="normal" font-family="'Liberation Sans', Arial, sans-serif" >@@</text>
<text x="943.9" y="187.9" font-size="27.5" text-anchor="middle" font-weight="normal" font-family="'Liberation Sans', Arial, sans-serif" >NS</text>
<text transform="translate(681.8,288.6) rotate(-90)" x="0" y="0" font-size="41" text-anchor="middle" font-family="'Liberation Sans', Arial, sans-serif" >NRVCs size (F/C)</text>
<text x="732.0" y="551.1" font-size="33.5" text-anchor="end" font-weight="normal" font-family="'Liberation Sans', Arial, sans-serif" >OA</text>
<text x="729.4" y="589.5" font-size="33.5" text-anchor="end" font-weight="normal" font-family="'Liberation Sans', Arial, sans-serif" >PE</text>
<text x="782.2" y="557.0" font-size="34.5" text-anchor="middle" font-weight="normal" font-family="'Liberation Sans', Arial, sans-serif" >-</text>
<text x="888.2" y="557.0" font-size="34.5" text-anchor="middle" font-weight="normal" font-family="'Liberation Sans', Arial, sans-serif" >-</text>
<text x="994.3" y="555.5" font-size="34.5" text-anchor="middle" font-weight="normal" font-family="'Liberation Sans', Arial, sans-serif" >+</text>
<text x="1100.3" y="555.5" font-size="34.5" text-anchor="middle" font-weight="normal" font-family="'Liberation Sans', Arial, sans-serif" >+</text>
<text x="782.2" y="588.0" font-size="34.5" text-anchor="middle" font-weight="normal" font-family="'Liberation Sans', Arial, sans-serif" >-</text>
<text x="888.2" y="588.7" font-size="34.5" text-anchor="middle" font-weight="normal" font-family="'Liberation Sans', Arial, sans-serif" >+</text>
<text x="994.3" y="588.0" font-size="34.5" text-anchor="middle" font-weight="normal" font-family="'Liberation Sans', Arial, sans-serif" >-</text>
<text x="1100.3" y="588.7" font-size="34.5" text-anchor="middle" font-weight="normal" font-family="'Liberation Sans', Arial, sans-serif" >+</text>
<text x="1206.5" y="42.6" font-size="56" text-anchor="start" font-weight="normal" font-family="'Liberation Sans', Arial, sans-serif" >C</text>
<g fill="#a3a3a6"><circle cx="1370.2" cy="287.7" r="4.80"/><circle cx="1370.2" cy="303.6" r="4.80"/><circle cx="1384.7" cy="308.8" r="4.80"/><circle cx="1355.7" cy="313.4" r="4.80"/><circle cx="1370.2" cy="316.5" r="4.80"/><circle cx="1355.7" cy="326.3" r="4.80"/><circle cx="1370.2" cy="330.9" r="4.80"/><circle cx="1384.7" cy="334.8" r="4.80"/><circle cx="1355.7" cy="336.4" r="4.80"/><circle cx="1399.2" cy="338.8" r="4.80"/><circle cx="1341.2" cy="341.2" r="4.80"/><circle cx="1367.0" cy="343.9" r="4.80"/><circle cx="1373.4" cy="344.5" r="4.80"/><circle cx="1360.5" cy="345.2" r="4.80"/><circle cx="1379.9" cy="346.4" r="4.80"/><circle cx="1354.1" cy="349.3" r="4.80"/><circle cx="1386.3" cy="349.6" r="4.80"/><circle cx="1347.6" cy="349.6" r="4.80"/><circle cx="1392.8" cy="350.4" r="4.80"/><circle cx="1341.2" cy="350.7" r="4.80"/><circle cx="1399.2" cy="350.8" r="4.80"/><circle cx="1372.1" cy="356.4" r="4.80"/><circle cx="1368.3" cy="358.0" r="4.80"/><circle cx="1376.0" cy="358.4" r="4.80"/><circle cx="1364.4" cy="359.3" r="4.80"/><circle cx="1379.9" cy="361.5" r="4.80"/><circle cx="1360.5" cy="361.6" r="4.80"/><circle cx="1383.7" cy="363.3" r="4.80"/><circle cx="1356.7" cy="364.1" r="4.80"/><circle cx="1387.6" cy="364.1" r="4.80"/><circle cx="1352.8" cy="364.3" r="4.80"/><circle cx="1391.5" cy="365.5" r="4.80"/><circle cx="1348.9" cy="366.1" r="4.80"/><circle cx="1395.3" cy="366.4" r="4.80"/><circle cx="1345.1" cy="366.7" r="4.80"/><circle cx="1399.2" cy="366.9" r="4.80"/><circle cx="1341.2" cy="367.8" r="4.80"/><circle cx="1370.2" cy="369.4" r="4.80"/><circle cx="1368.0" cy="369.9" r="4.80"/><circle cx="1372.4" cy="370.1" r="4.80"/><circle cx="1365.7" cy="370.4" r="4.80"/><circle cx="1374.7" cy="371.5" r="4.80"/><circle cx="1363.5" cy="372.3" r="4.80"/><circle cx="1376.9" cy="373.3" r="4.80"/><circle cx="1361.3" cy="374.4" r="4.80"/><circle cx="1379.1" cy="374.4" r="4.80"/><circle cx="1359.0" cy="375.4" r="4.80"/><circle cx="1381.4" cy="375.4" r="4.80"/><circle cx="1356.8" cy="375.5" r="4.80"/><circle cx="1383.6" cy="375.6" r="4.80"/><circle cx="1354.6" cy="375.8" r="4.80"/><circle cx="1385.8" cy="376.0" r="4.80"/><circle cx="1352.4" cy="376.1" r="4.80"/><circle cx="1388.0" cy="376.8" r="4.80"/><circle cx="1350.1" cy="376.8" r="4.80"/><circle cx="1390.3" cy="377.5" r="4.80"/><circle cx="1347.9" cy="378.6" r="4.80"/><circle cx="1392.5" cy="379.2" r="4.80"/><circle cx="1345.7" cy="379.6" r="4.80"/><circle cx="1394.7" cy="380.4" r="4.80"/><circle cx="1343.4" cy="380.4" r="4.80"/><circle cx="1397.0" cy="380.5" r="4.80"/><circle cx="1341.2" cy="380.5" r="4.80"/><circle cx="1399.2" cy="380.6" r="4.80"/><circle cx="1370.2" cy="381.5" r="4.80"/><circle cx="1373.4" cy="381.5" r="4.80"/><circle cx="1367.0" cy="382.1" r="4.80"/><circle cx="1376.6" cy="382.2" r="4.80"/><circle cx="1363.8" cy="382.7" r="4.80"/><circle cx="1379.9" cy="384.0" r="4.80"/><circle cx="1360.5" cy="385.4" r="4.80"/><circle cx="1383.1" cy="385.8" r="4.80"/><circle cx="1357.3" cy="385.8" r="4.80"/><circle cx="1386.3" cy="386.8" r="4.80"/><circle cx="1354.1" cy="386.8" r="4.80"/><circle cx="1389.5" cy="387.4" r="4.80"/><circle cx="1350.9" cy="389.8" r="4.80"/><circle cx="1392.8" cy="389.9" r="4.80"/><circle cx="1347.6" cy="390.1" r="4.80"/><circle cx="1396.0" cy="390.2" r="4.80"/><circle cx="1344.4" cy="391.4" r="4.80"/><circle cx="1399.2" cy="391.7" r="4.80"/><circle cx="1341.2" cy="392.7" r="4.80"/><circle cx="1368.9" cy="395.1" r="4.80"/><circle cx="1371.5" cy="395.5" r="4.80"/><circle cx="1366.4" cy="395.9" r="4.80"/><circle cx="1374.0" cy="397.5" r="4.80"/><circle cx="1363.9" cy="397.9" r="4.80"/><circle cx="1376.5" cy="398.0" r="4.80"/><circle cx="1361.4" cy="399.4" r="4.80"/><circle cx="1379.0" cy="399.9" r="4.80"/><circle cx="1358.9" cy="399.9" r="4.80"/><circle cx="1381.5" cy="400.0" r="4.80"/><circle cx="1356.3" cy="400.5" r="4.80"/><circle cx="1384.1" cy="400.7" r="4.80"/><circle cx="1353.8" cy="400.8" r="4.80"/><circle cx="1386.6" cy="401.1" r="4.80"/><circle cx="1351.3" cy="401.7" r="4.80"/><circle cx="1389.1" cy="402.4" r="4.80"/><circle cx="1348.8" cy="403.5" r="4.80"/><circle cx="1391.6" cy="403.9" r="4.80"/><circle cx="1346.2" cy="404.7" r="4.80"/><circle cx="1394.2" cy="404.9" r="4.80"/><circle cx="1343.7" cy="405.7" r="4.80"/><circle cx="1396.7" cy="406.1" r="4.80"/><circle cx="1341.2" cy="406.1" r="4.80"/><circle cx="1399.2" cy="406.8" r="4.80"/><circle cx="1371.3" cy="408.2" r="4.80"/><circle cx="1369.1" cy="409.4" r="4.80"/><circle cx="1373.4" cy="409.9" r="4.80"/><circle cx="1367.0" cy="410.1" r="4.80"/><circle cx="1375.6" cy="410.2" r="4.80"/><circle cx="1364.8" cy="410.3" r="4.80"/><circle cx="1377.7" cy="411.4" r="4.80"/><circle cx="1362.7" cy="411.5" r="4.80"/><circle cx="1379.9" cy="411.7" r="4.80"/><circle cx="1360.5" cy="412.3" r="4.80"/><circle cx="1382.0" cy="412.4" r="4.80"/><circle cx="1358.4" cy="412.6" r="4.80"/><circle cx="1384.2" cy="413.8" r="4.80"/><circle cx="1356.2" cy="415.3" r="4.80"/><circle cx="1386.3" cy="415.8" r="4.80"/><circle cx="1354.1" cy="416.5" r="4.80"/><circle cx="1388.5" cy="416.8" r="4.80"/><circle cx="1351.9" cy="417.9" r="4.80"/><circle cx="1390.6" cy="418.0" r="4.80"/><circle cx="1349.8" cy="418.0" r="4.80"/><circle cx="1392.8" cy="418.1" r="4.80"/><circle cx="1347.6" cy="418.6" r="4.80"/><circle cx="1394.9" cy="418.9" r="4.80"/><circle cx="1345.5" cy="418.9" r="4.80"/><circle cx="1397.1" cy="419.5" r="4.80"/><circle cx="1343.3" cy="419.6" r="4.80"/><circle cx="1399.2" cy="419.6" r="4.80"/><circle cx="1341.2" cy="419.9" r="4.80"/><circle cx="1370.2" cy="424.3" r="4.80"/><circle cx="1365.4" cy="424.6" r="4.80"/><circle cx="1375.0" cy="425.3" r="4.80"/><circle cx="1360.5" cy="426.8" r="4.80"/><circle cx="1379.9" cy="427.0" r="4.80"/><circle cx="1355.7" cy="427.2" r="4.80"/><circle cx="1384.7" cy="428.3" r="4.80"/><circle cx="1350.9" cy="430.4" r="4.80"/><circle cx="1389.5" cy="430.5" r="4.80"/><circle cx="1346.0" cy="432.3" r="4.80"/><circle cx="1394.4" cy="434.4" r="4.80"/><circle cx="1341.2" cy="435.5" r="4.80"/><circle cx="1399.2" cy="436.1" r="4.80"/><circle cx="1371.6" cy="436.5" r="4.80"/><circle cx="1368.8" cy="437.1" r="4.80"/><circle cx="1374.3" cy="437.6" r="4.80"/><circle cx="1366.1" cy="438.5" r="4.80"/><circle cx="1377.1" cy="438.7" r="4.80"/><circle cx="1363.3" cy="439.8" r="4.80"/><circle cx="1379.9" cy="440.0" r="4.80"/><circle cx="1360.5" cy="440.6" r="4.80"/><circle cx="1382.6" cy="441.2" r="4.80"/><circle cx="1357.8" cy="441.3" r="4.80"/><circle cx="1385.4" cy="441.8" r="4.80"/><circle cx="1355.0" cy="442.1" r="4.80"/><circle cx="1388.2" cy="442.1" r="4.80"/><circle cx="1352.2" cy="443.1" r="4.80"/><circle cx="1390.9" cy="443.3" r="4.80"/><circle cx="1349.5" cy="444.5" r="4.80"/><circle cx="1393.7" cy="445.2" r="4.80"/><circle cx="1346.7" cy="446.4" r="4.80"/><circle cx="1396.4" cy="446.5" r="4.80"/><circle cx="1344.0" cy="447.8" r="4.80"/><circle cx="1399.2" cy="448.0" r="4.80"/><circle cx="1341.2" cy="448.0" r="4.80"/><circle cx="1368.3" cy="448.7" r="4.80"/><circle cx="1372.1" cy="449.1" r="4.80"/><circle cx="1364.4" cy="451.5" r="4.80"/><circle cx="1376.0" cy="451.6" r="4.80"/><circle cx="1360.5" cy="452.3" r="4.80"/><circle cx="1379.9" cy="453.6" r="4.80"/><circle cx="1356.7" cy="454.4" r="4.80"/><circle cx="1383.7" cy="454.5" r="4.80"/><circle cx="1352.8" cy="454.6" r="4.80"/><circle cx="1387.6" cy="455.7" r="4.80"/><circle cx="1348.9" cy="457.7" r="4.80"/><circle cx="1391.5" cy="457.8" r="4.80"/><circle cx="1345.1" cy="458.4" r="4.80"/><circle cx="1395.3" cy="458.6" r="4.80"/><circle cx="1341.2" cy="458.6" r="4.80"/><circle cx="1399.2" cy="458.7" r="4.80"/><circle cx="1370.2" cy="460.8" r="4.80"/></g>
<g fill="#c58f49"><circle cx="1476.9" cy="207.6" r="4.80"/><circle cx="1462.4" cy="209.1" r="4.80"/><circle cx="1491.4" cy="210.0" r="4.80"/><circle cx="1447.9" cy="216.1" r="4.80"/><circle cx="1505.9" cy="217.7" r="4.80"/><circle cx="1476.9" cy="233.3" r="4.80"/><circle cx="1491.4" cy="244.8" r="4.80"/><circle cx="1476.9" cy="268.8" r="4.80"/><circle cx="1469.7" cy="269.4" r="4.80"/><circle cx="1484.2" cy="269.6" r="4.80"/><circle cx="1462.4" cy="275.0" r="4.80"/><circle cx="1491.4" cy="275.6" r="4.80"/><circle cx="1455.2" cy="278.4" r="4.80"/><circle cx="1476.9" cy="283.5" r="4.80"/><circle cx="1484.2" cy="288.4" r="4.80"/><circle cx="1469.7" cy="289.8" r="4.80"/><circle cx="1491.4" cy="290.0" r="4.80"/><circle cx="1462.4" cy="290.2" r="4.80"/><circle cx="1498.7" cy="292.2" r="4.80"/><circle cx="1474.3" cy="296.1" r="4.80"/><circle cx="1479.5" cy="297.1" r="4.80"/><circle cx="1469.0" cy="298.1" r="4.80"/><circle cx="1484.8" cy="298.7" r="4.80"/><circle cx="1463.7" cy="299.0" r="4.80"/><circle cx="1490.1" cy="299.0" r="4.80"/><circle cx="1458.4" cy="302.6" r="4.80"/><circle cx="1495.4" cy="303.5" r="4.80"/><circle cx="1453.2" cy="304.0" r="4.80"/><circle cx="1500.6" cy="305.2" r="4.80"/><circle cx="1447.9" cy="305.6" r="4.80"/><circle cx="1505.9" cy="306.5" r="4.80"/><circle cx="1476.9" cy="309.5" r="4.80"/><circle cx="1480.5" cy="310.0" r="4.80"/><circle cx="1473.3" cy="310.1" r="4.80"/><circle cx="1484.2" cy="312.0" r="4.80"/><circle cx="1469.7" cy="312.1" r="4.80"/><circle cx="1487.8" cy="312.4" r="4.80"/><circle cx="1466.0" cy="314.3" r="4.80"/><circle cx="1491.4" cy="315.2" r="4.80"/><circle cx="1462.4" cy="316.4" r="4.80"/><circle cx="1495.0" cy="317.4" r="4.80"/><circle cx="1458.8" cy="319.9" r="4.80"/><circle cx="1498.7" cy="320.0" r="4.80"/><circle cx="1455.2" cy="320.2" r="4.80"/><circle cx="1502.3" cy="320.6" r="4.80"/><circle cx="1451.5" cy="320.6" r="4.80"/><circle cx="1505.9" cy="320.7" r="4.80"/><circle cx="1447.9" cy="321.2" r="4.80"/><circle cx="1475.2" cy="322.3" r="4.80"/><circle cx="1478.6" cy="322.7" r="4.80"/><circle cx="1471.8" cy="323.6" r="4.80"/><circle cx="1482.0" cy="325.2" r="4.80"/><circle cx="1468.4" cy="325.4" r="4.80"/><circle cx="1485.4" cy="326.4" r="4.80"/><circle cx="1465.0" cy="326.7" r="4.80"/><circle cx="1488.8" cy="327.7" r="4.80"/><circle cx="1461.5" cy="327.8" r="4.80"/><circle cx="1492.3" cy="329.4" r="4.80"/><circle cx="1458.1" cy="330.1" r="4.80"/><circle cx="1495.7" cy="330.5" r="4.80"/><circle cx="1454.7" cy="331.2" r="4.80"/><circle cx="1499.1" cy="331.8" r="4.80"/><circle cx="1451.3" cy="332.5" r="4.80"/><circle cx="1502.5" cy="333.7" r="4.80"/><circle cx="1447.9" cy="333.8" r="4.80"/><circle cx="1505.9" cy="334.2" r="4.80"/><circle cx="1476.9" cy="334.6" r="4.80"/><circle cx="1480.5" cy="334.9" r="4.80"/><circle cx="1473.3" cy="336.5" r="4.80"/><circle cx="1484.2" cy="336.8" r="4.80"/><circle cx="1469.7" cy="337.2" r="4.80"/><circle cx="1487.8" cy="338.3" r="4.80"/><circle cx="1466.0" cy="340.3" r="4.80"/><circle cx="1491.4" cy="340.8" r="4.80"/><circle cx="1462.4" cy="341.3" r="4.80"/><circle cx="1495.0" cy="341.5" r="4.80"/><circle cx="1458.8" cy="342.2" r="4.80"/><circle cx="1498.7" cy="342.5" r="4.80"/><circle cx="1455.2" cy="343.7" r="4.80"/><circle cx="1502.3" cy="344.3" r="4.80"/><circle cx="1451.5" cy="345.1" r="4.80"/><circle cx="1505.9" cy="345.7" r="4.80"/><circle cx="1447.9" cy="345.7" r="4.80"/><circle cx="1476.9" cy="346.9" r="4.80"/><circle cx="1469.7" cy="349.4" r="4.80"/><circle cx="1484.2" cy="349.8" r="4.80"/><circle cx="1462.4" cy="351.2" r="4.80"/><circle cx="1491.4" cy="351.5" r="4.80"/><circle cx="1455.2" cy="354.5" r="4.80"/><circle cx="1498.7" cy="355.2" r="4.80"/><circle cx="1447.9" cy="358.4" r="4.80"/><circle cx="1478.3" cy="359.7" r="4.80"/><circle cx="1475.5" cy="360.1" r="4.80"/><circle cx="1481.0" cy="361.0" r="4.80"/><circle cx="1472.8" cy="362.9" r="4.80"/><circle cx="1483.8" cy="363.0" r="4.80"/><circle cx="1470.0" cy="363.7" r="4.80"/><circle cx="1486.6" cy="363.8" r="4.80"/><circle cx="1467.2" cy="365.6" r="4.80"/><circle cx="1489.3" cy="365.9" r="4.80"/><circle cx="1464.5" cy="365.9" r="4.80"/><circle cx="1492.1" cy="366.0" r="4.80"/><circle cx="1461.7" cy="366.6" r="4.80"/><circle cx="1494.9" cy="367.2" r="4.80"/><circle cx="1458.9" cy="368.3" r="4.80"/><circle cx="1497.6" cy="368.3" r="4.80"/><circle cx="1456.2" cy="368.8" r="4.80"/><circle cx="1500.4" cy="369.8" r="4.80"/><circle cx="1453.4" cy="369.9" r="4.80"/><circle cx="1503.1" cy="369.9" r="4.80"/><circle cx="1450.7" cy="370.2" r="4.80"/><circle cx="1505.9" cy="370.8" r="4.80"/><circle cx="1447.9" cy="371.4" r="4.80"/><circle cx="1476.9" cy="372.4" r="4.80"/><circle cx="1472.8" cy="373.5" r="4.80"/><circle cx="1481.0" cy="373.8" r="4.80"/><circle cx="1468.6" cy="373.9" r="4.80"/><circle cx="1485.2" cy="373.9" r="4.80"/><circle cx="1464.5" cy="374.3" r="4.80"/><circle cx="1489.3" cy="376.0" r="4.80"/><circle cx="1460.3" cy="376.4" r="4.80"/><circle cx="1493.5" cy="378.8" r="4.80"/><circle cx="1456.2" cy="380.1" r="4.80"/><circle cx="1497.6" cy="380.3" r="4.80"/><circle cx="1452.0" cy="380.4" r="4.80"/><circle cx="1501.8" cy="380.8" r="4.80"/><circle cx="1447.9" cy="381.1" r="4.80"/><circle cx="1505.9" cy="383.9" r="4.80"/><circle cx="1478.1" cy="385.2" r="4.80"/><circle cx="1475.7" cy="386.2" r="4.80"/><circle cx="1480.4" cy="386.3" r="4.80"/><circle cx="1473.4" cy="388.4" r="4.80"/><circle cx="1482.7" cy="389.1" r="4.80"/><circle cx="1471.1" cy="389.3" r="4.80"/><circle cx="1485.0" cy="389.7" r="4.80"/><circle cx="1468.8" cy="389.7" r="4.80"/><circle cx="1487.3" cy="390.7" r="4.80"/><circle cx="1466.5" cy="390.7" r="4.80"/><circle cx="1489.7" cy="391.0" r="4.80"/><circle cx="1464.1" cy="392.6" r="4.80"/><circle cx="1492.0" cy="392.6" r="4.80"/><circle cx="1461.8" cy="392.6" r="4.80"/><circle cx="1494.3" cy="393.1" r="4.80"/><circle cx="1459.5" cy="393.3" r="4.80"/><circle cx="1496.6" cy="394.0" r="4.80"/><circle cx="1457.2" cy="394.6" r="4.80"/><circle cx="1498.9" cy="394.7" r="4.80"/><circle cx="1454.9" cy="395.3" r="4.80"/><circle cx="1501.3" cy="395.5" r="4.80"/><circle cx="1452.5" cy="395.7" r="4.80"/><circle cx="1503.6" cy="395.9" r="4.80"/><circle cx="1450.2" cy="396.1" r="4.80"/><circle cx="1505.9" cy="396.2" r="4.80"/><circle cx="1447.9" cy="396.3" r="4.80"/><circle cx="1475.2" cy="397.6" r="4.80"/><circle cx="1478.6" cy="397.8" r="4.80"/><circle cx="1471.8" cy="397.9" r="4.80"/><circle cx="1482.0" cy="399.3" r="4.80"/><circle cx="1468.4" cy="399.4" r="4.80"/><circle cx="1485.4" cy="403.1" r="4.80"/><circle cx="1465.0" cy="403.9" r="4.80"/><circle cx="1488.8" cy="404.0" r="4.80"/><circle cx="1461.5" cy="404.2" r="4.80"/><circle cx="1492.3" cy="405.3" r="4.80"/><circle cx="1458.1" cy="405.5" r="4.80"/><circle cx="1495.7" cy="405.7" r="4.80"/><circle cx="1454.7" cy="406.2" r="4.80"/><circle cx="1499.1" cy="406.6" r="4.80"/><circle cx="1451.3" cy="408.2" r="4.80"/><circle cx="1502.5" cy="408.2" r="4.80"/><circle cx="1447.9" cy="408.3" r="4.80"/><circle cx="1505.9" cy="408.3" r="4.80"/><circle cx="1476.9" cy="409.7" r="4.80"/><circle cx="1481.0" cy="409.8" r="4.80"/><circle cx="1472.8" cy="410.9" r="4.80"/><circle cx="1485.2" cy="411.3" r="4.80"/><circle cx="1468.6" cy="411.5" r="4.80"/><circle cx="1489.3" cy="414.3" r="4.80"/><circle cx="1464.5" cy="414.4" r="4.80"/><circle cx="1493.5" cy="414.9" r="4.80"/><circle cx="1460.3" cy="415.1" r="4.80"/><circle cx="1497.6" cy="415.3" r="4.80"/><circle cx="1456.2" cy="415.8" r="4.80"/><circle cx="1501.8" cy="416.2" r="4.80"/><circle cx="1452.0" cy="416.9" r="4.80"/><circle cx="1505.9" cy="418.0" r="4.80"/><circle cx="1447.9" cy="418.5" r="4.80"/><circle cx="1475.0" cy="423.2" r="4.80"/><circle cx="1478.8" cy="424.3" r="4.80"/><circle cx="1471.1" cy="424.4" r="4.80"/><circle cx="1482.7" cy="424.7" r="4.80"/><circle cx="1467.2" cy="425.0" r="4.80"/><circle cx="1486.6" cy="425.9" r="4.80"/><circle cx="1463.4" cy="426.1" r="4.80"/><circle cx="1490.4" cy="426.6" r="4.80"/><circle cx="1459.5" cy="426.7" r="4.80"/><circle cx="1494.3" cy="427.7" r="4.80"/><circle cx="1455.6" cy="428.9" r="4.80"/><circle cx="1498.2" cy="431.3" r="4.80"/><circle cx="1451.8" cy="431.8" r="4.80"/><circle cx="1502.0" cy="432.8" r="4.80"/><circle cx="1447.9" cy="433.0" r="4.80"/><circle cx="1505.9" cy="434.4" r="4.80"/><circle cx="1476.9" cy="435.3" r="4.80"/><circle cx="1491.4" cy="439.1" r="4.80"/></g>
<g fill="#dc88f6"><rect x="1579.0" y="222.8" width="10.0" height="10.0"/><rect x="1564.5" y="224.4" width="10.0" height="10.0"/><rect x="1593.5" y="232.1" width="10.0" height="10.0"/><rect x="1579.0" y="236.0" width="10.0" height="10.0"/><rect x="1593.5" y="236.0" width="10.0" height="10.0"/><rect x="1579.0" y="251.4" width="10.0" height="10.0"/><rect x="1564.5" y="252.7" width="10.0" height="10.0"/><rect x="1593.5" y="254.7" width="10.0" height="10.0"/><rect x="1579.0" y="267.4" width="10.0" height="10.0"/><rect x="1586.2" y="271.4" width="10.0" height="10.0"/><rect x="1571.8" y="272.4" width="10.0" height="10.0"/><rect x="1593.5" y="272.8" width="10.0" height="10.0"/><rect x="1564.5" y="275.3" width="10.0" height="10.0"/><rect x="1600.8" y="277.5" width="10.0" height="10.0"/><rect x="1557.2" y="278.5" width="10.0" height="10.0"/><rect x="1576.4" y="279.8" width="10.0" height="10.0"/><rect x="1581.6" y="280.6" width="10.0" height="10.0"/><rect x="1571.1" y="281.4" width="10.0" height="10.0"/><rect x="1586.9" y="282.0" width="10.0" height="10.0"/><rect x="1565.8" y="282.6" width="10.0" height="10.0"/><rect x="1592.2" y="285.0" width="10.0" height="10.0"/><rect x="1560.5" y="285.8" width="10.0" height="10.0"/><rect x="1597.5" y="286.4" width="10.0" height="10.0"/><rect x="1555.3" y="287.2" width="10.0" height="10.0"/><rect x="1602.7" y="287.3" width="10.0" height="10.0"/><rect x="1550.0" y="289.2" width="10.0" height="10.0"/><rect x="1608.0" y="290.3" width="10.0" height="10.0"/><rect x="1579.0" y="292.3" width="10.0" height="10.0"/><rect x="1586.2" y="293.6" width="10.0" height="10.0"/><rect x="1571.8" y="294.7" width="10.0" height="10.0"/><rect x="1593.5" y="298.3" width="10.0" height="10.0"/><rect x="1564.5" y="299.2" width="10.0" height="10.0"/><rect x="1600.8" y="299.6" width="10.0" height="10.0"/><rect x="1557.2" y="303.2" width="10.0" height="10.0"/><rect x="1579.0" y="309.9" width="10.0" height="10.0"/><rect x="1573.2" y="310.1" width="10.0" height="10.0"/><rect x="1584.8" y="311.0" width="10.0" height="10.0"/><rect x="1567.4" y="311.0" width="10.0" height="10.0"/><rect x="1590.6" y="312.0" width="10.0" height="10.0"/><rect x="1561.6" y="313.1" width="10.0" height="10.0"/><rect x="1596.4" y="313.2" width="10.0" height="10.0"/><rect x="1555.8" y="317.2" width="10.0" height="10.0"/><rect x="1602.2" y="317.6" width="10.0" height="10.0"/><rect x="1550.0" y="321.8" width="10.0" height="10.0"/><rect x="1608.0" y="321.9" width="10.0" height="10.0"/><rect x="1579.0" y="322.6" width="10.0" height="10.0"/><rect x="1582.6" y="322.6" width="10.0" height="10.0"/><rect x="1575.4" y="322.9" width="10.0" height="10.0"/><rect x="1586.2" y="322.9" width="10.0" height="10.0"/><rect x="1571.8" y="323.1" width="10.0" height="10.0"/><rect x="1589.9" y="323.5" width="10.0" height="10.0"/><rect x="1568.1" y="323.8" width="10.0" height="10.0"/><rect x="1593.5" y="324.8" width="10.0" height="10.0"/><rect x="1564.5" y="326.5" width="10.0" height="10.0"/><rect x="1597.1" y="326.7" width="10.0" height="10.0"/><rect x="1560.9" y="327.2" width="10.0" height="10.0"/><rect x="1600.8" y="331.3" width="10.0" height="10.0"/><rect x="1557.2" y="332.1" width="10.0" height="10.0"/><rect x="1604.4" y="332.5" width="10.0" height="10.0"/><rect x="1553.6" y="333.3" width="10.0" height="10.0"/><rect x="1608.0" y="334.3" width="10.0" height="10.0"/><rect x="1550.0" y="334.6" width="10.0" height="10.0"/><rect x="1579.0" y="336.3" width="10.0" height="10.0"/><rect x="1571.8" y="337.8" width="10.0" height="10.0"/><rect x="1586.2" y="339.1" width="10.0" height="10.0"/><rect x="1564.5" y="341.0" width="10.0" height="10.0"/><rect x="1593.5" y="343.7" width="10.0" height="10.0"/><rect x="1557.2" y="345.7" width="10.0" height="10.0"/><rect x="1600.8" y="345.7" width="10.0" height="10.0"/><rect x="1550.0" y="345.8" width="10.0" height="10.0"/><rect x="1579.0" y="348.8" width="10.0" height="10.0"/><rect x="1582.2" y="350.2" width="10.0" height="10.0"/><rect x="1575.8" y="350.6" width="10.0" height="10.0"/><rect x="1585.4" y="351.3" width="10.0" height="10.0"/><rect x="1572.6" y="351.8" width="10.0" height="10.0"/><rect x="1588.7" y="352.0" width="10.0" height="10.0"/><rect x="1569.3" y="353.2" width="10.0" height="10.0"/><rect x="1591.9" y="354.1" width="10.0" height="10.0"/><rect x="1566.1" y="354.2" width="10.0" height="10.0"/><rect x="1595.1" y="354.6" width="10.0" height="10.0"/><rect x="1562.9" y="355.4" width="10.0" height="10.0"/><rect x="1598.3" y="355.9" width="10.0" height="10.0"/><rect x="1559.7" y="356.2" width="10.0" height="10.0"/><rect x="1601.6" y="357.4" width="10.0" height="10.0"/><rect x="1556.4" y="357.8" width="10.0" height="10.0"/><rect x="1604.8" y="358.0" width="10.0" height="10.0"/><rect x="1553.2" y="358.6" width="10.0" height="10.0"/><rect x="1608.0" y="358.6" width="10.0" height="10.0"/><rect x="1550.0" y="359.5" width="10.0" height="10.0"/><rect x="1575.8" y="361.0" width="10.0" height="10.0"/><rect x="1582.2" y="361.1" width="10.0" height="10.0"/><rect x="1569.3" y="362.0" width="10.0" height="10.0"/><rect x="1588.7" y="362.5" width="10.0" height="10.0"/><rect x="1562.9" y="365.5" width="10.0" height="10.0"/><rect x="1595.1" y="365.9" width="10.0" height="10.0"/><rect x="1556.4" y="366.0" width="10.0" height="10.0"/><rect x="1601.6" y="368.3" width="10.0" height="10.0"/><rect x="1550.0" y="371.2" width="10.0" height="10.0"/><rect x="1608.0" y="371.9" width="10.0" height="10.0"/><rect x="1579.0" y="373.9" width="10.0" height="10.0"/><rect x="1582.6" y="374.6" width="10.0" height="10.0"/><rect x="1575.4" y="374.9" width="10.0" height="10.0"/><rect x="1586.2" y="374.9" width="10.0" height="10.0"/><rect x="1571.8" y="375.7" width="10.0" height="10.0"/><rect x="1589.9" y="376.7" width="10.0" height="10.0"/><rect x="1568.1" y="377.2" width="10.0" height="10.0"/><rect x="1593.5" y="377.7" width="10.0" height="10.0"/><rect x="1564.5" y="377.7" width="10.0" height="10.0"/><rect x="1597.1" y="378.5" width="10.0" height="10.0"/><rect x="1560.9" y="380.3" width="10.0" height="10.0"/><rect x="1600.8" y="380.3" width="10.0" height="10.0"/><rect x="1557.2" y="380.8" width="10.0" height="10.0"/><rect x="1604.4" y="381.2" width="10.0" height="10.0"/><rect x="1553.6" y="384.9" width="10.0" height="10.0"/><rect x="1608.0" y="385.6" width="10.0" height="10.0"/><rect x="1550.0" y="385.8" width="10.0" height="10.0"/><rect x="1576.8" y="386.0" width="10.0" height="10.0"/><rect x="1581.2" y="386.0" width="10.0" height="10.0"/><rect x="1572.3" y="386.3" width="10.0" height="10.0"/><rect x="1585.7" y="388.1" width="10.0" height="10.0"/><rect x="1567.8" y="389.2" width="10.0" height="10.0"/><rect x="1590.2" y="391.1" width="10.0" height="10.0"/><rect x="1563.4" y="391.2" width="10.0" height="10.0"/><rect x="1594.6" y="391.4" width="10.0" height="10.0"/><rect x="1558.9" y="391.5" width="10.0" height="10.0"/><rect x="1599.1" y="392.1" width="10.0" height="10.0"/><rect x="1554.5" y="394.2" width="10.0" height="10.0"/><rect x="1603.5" y="394.7" width="10.0" height="10.0"/><rect x="1550.0" y="395.6" width="10.0" height="10.0"/><rect x="1608.0" y="397.8" width="10.0" height="10.0"/><rect x="1580.5" y="398.2" width="10.0" height="10.0"/><rect x="1577.5" y="398.4" width="10.0" height="10.0"/><rect x="1583.6" y="398.5" width="10.0" height="10.0"/><rect x="1574.4" y="398.6" width="10.0" height="10.0"/><rect x="1586.6" y="399.1" width="10.0" height="10.0"/><rect x="1571.4" y="399.9" width="10.0" height="10.0"/><rect x="1589.7" y="399.9" width="10.0" height="10.0"/><rect x="1568.3" y="400.5" width="10.0" height="10.0"/><rect x="1592.7" y="400.8" width="10.0" height="10.0"/><rect x="1565.3" y="402.0" width="10.0" height="10.0"/><rect x="1595.8" y="402.1" width="10.0" height="10.0"/><rect x="1562.2" y="403.2" width="10.0" height="10.0"/><rect x="1598.8" y="404.5" width="10.0" height="10.0"/><rect x="1559.2" y="406.2" width="10.0" height="10.0"/><rect x="1601.9" y="406.6" width="10.0" height="10.0"/><rect x="1556.1" y="407.2" width="10.0" height="10.0"/><rect x="1604.9" y="407.7" width="10.0" height="10.0"/><rect x="1553.1" y="409.0" width="10.0" height="10.0"/><rect x="1608.0" y="409.7" width="10.0" height="10.0"/><rect x="1550.0" y="409.9" width="10.0" height="10.0"/><rect x="1579.0" y="411.5" width="10.0" height="10.0"/><rect x="1575.4" y="411.9" width="10.0" height="10.0"/><rect x="1582.6" y="411.9" width="10.0" height="10.0"/><rect x="1571.8" y="411.9" width="10.0" height="10.0"/><rect x="1586.2" y="412.5" width="10.0" height="10.0"/><rect x="1568.1" y="413.3" width="10.0" height="10.0"/><rect x="1589.9" y="415.2" width="10.0" height="10.0"/><rect x="1564.5" y="415.9" width="10.0" height="10.0"/><rect x="1593.5" y="417.7" width="10.0" height="10.0"/><rect x="1560.9" y="418.2" width="10.0" height="10.0"/><rect x="1597.1" y="420.2" width="10.0" height="10.0"/><rect x="1557.2" y="420.6" width="10.0" height="10.0"/><rect x="1600.8" y="420.6" width="10.0" height="10.0"/><rect x="1553.6" y="421.0" width="10.0" height="10.0"/><rect x="1604.4" y="421.3" width="10.0" height="10.0"/><rect x="1550.0" y="422.3" width="10.0" height="10.0"/><rect x="1608.0" y="423.3" width="10.0" height="10.0"/><rect x="1580.5" y="425.5" width="10.0" height="10.0"/><rect x="1577.5" y="425.9" width="10.0" height="10.0"/><rect x="1583.6" y="426.9" width="10.0" height="10.0"/><rect x="1574.4" y="426.9" width="10.0" height="10.0"/><rect x="1586.6" y="427.5" width="10.0" height="10.0"/><rect x="1571.4" y="428.4" width="10.0" height="10.0"/><rect x="1589.7" y="428.9" width="10.0" height="10.0"/><rect x="1568.3" y="429.0" width="10.0" height="10.0"/><rect x="1592.7" y="430.3" width="10.0" height="10.0"/><rect x="1565.3" y="431.1" width="10.0" height="10.0"/><rect x="1595.8" y="431.3" width="10.0" height="10.0"/><rect x="1562.2" y="431.4" width="10.0" height="10.0"/><rect x="1598.8" y="431.4" width="10.0" height="10.0"/><rect x="1559.2" y="432.1" width="10.0" height="10.0"/><rect x="1601.9" y="432.7" width="10.0" height="10.0"/><rect x="1556.1" y="433.0" width="10.0" height="10.0"/><rect x="1604.9" y="433.2" width="10.0" height="10.0"/><rect x="1553.1" y="435.3" width="10.0" height="10.0"/><rect x="1608.0" y="436.9" width="10.0" height="10.0"/><rect x="1550.0" y="437.0" width="10.0" height="10.0"/><rect x="1577.1" y="437.6" width="10.0" height="10.0"/><rect x="1580.9" y="437.9" width="10.0" height="10.0"/><rect x="1573.2" y="439.3" width="10.0" height="10.0"/><rect x="1584.8" y="439.4" width="10.0" height="10.0"/><rect x="1569.3" y="441.2" width="10.0" height="10.0"/><rect x="1588.7" y="441.6" width="10.0" height="10.0"/><rect x="1565.5" y="442.3" width="10.0" height="10.0"/><rect x="1592.5" y="442.7" width="10.0" height="10.0"/><rect x="1561.6" y="443.2" width="10.0" height="10.0"/><rect x="1596.4" y="443.3" width="10.0" height="10.0"/><rect x="1557.7" y="443.8" width="10.0" height="10.0"/><rect x="1600.3" y="444.9" width="10.0" height="10.0"/><rect x="1553.9" y="446.5" width="10.0" height="10.0"/><rect x="1604.1" y="448.0" width="10.0" height="10.0"/><rect x="1550.0" y="448.4" width="10.0" height="10.0"/><rect x="1608.0" y="448.5" width="10.0" height="10.0"/><rect x="1579.0" y="449.8" width="10.0" height="10.0"/><rect x="1584.8" y="450.1" width="10.0" height="10.0"/><rect x="1573.2" y="450.1" width="10.0" height="10.0"/><rect x="1590.6" y="450.3" width="10.0" height="10.0"/><rect x="1567.4" y="450.8" width="10.0" height="10.0"/><rect x="1596.4" y="451.4" width="10.0" height="10.0"/><rect x="1561.6" y="451.9" width="10.0" height="10.0"/><rect x="1602.2" y="454.8" width="10.0" height="10.0"/><rect x="1555.8" y="455.5" width="10.0" height="10.0"/><rect x="1608.0" y="456.4" width="10.0" height="10.0"/><rect x="1550.0" y="456.8" width="10.0" height="10.0"/></g>
<g fill="#730c98"><rect x="1685.4" y="179.2" width="10.0" height="10.0"/><rect x="1670.9" y="183.9" width="10.0" height="10.0"/><rect x="1699.9" y="187.0" width="10.0" height="10.0"/><rect x="1656.4" y="187.7" width="10.0" height="10.0"/><rect x="1685.4" y="192.0" width="10.0" height="10.0"/><rect x="1699.9" y="193.8" width="10.0" height="10.0"/><rect x="1670.9" y="194.3" width="10.0" height="10.0"/><rect x="1714.4" y="199.5" width="10.0" height="10.0"/><rect x="1685.4" y="207.4" width="10.0" height="10.0"/><rect x="1670.9" y="208.8" width="10.0" height="10.0"/><rect x="1699.9" y="211.1" width="10.0" height="10.0"/><rect x="1656.4" y="214.1" width="10.0" height="10.0"/><rect x="1685.4" y="219.6" width="10.0" height="10.0"/><rect x="1699.9" y="227.5" width="10.0" height="10.0"/><rect x="1670.9" y="229.3" width="10.0" height="10.0"/><rect x="1714.4" y="230.2" width="10.0" height="10.0"/><rect x="1685.4" y="234.6" width="10.0" height="10.0"/><rect x="1678.2" y="235.2" width="10.0" height="10.0"/><rect x="1692.7" y="236.7" width="10.0" height="10.0"/><rect x="1670.9" y="237.1" width="10.0" height="10.0"/><rect x="1699.9" y="241.7" width="10.0" height="10.0"/><rect x="1663.7" y="243.0" width="10.0" height="10.0"/><rect x="1707.2" y="243.5" width="10.0" height="10.0"/><rect x="1685.4" y="247.6" width="10.0" height="10.0"/><rect x="1692.7" y="249.0" width="10.0" height="10.0"/><rect x="1678.2" y="250.2" width="10.0" height="10.0"/><rect x="1699.9" y="254.9" width="10.0" height="10.0"/><rect x="1670.9" y="255.7" width="10.0" height="10.0"/><rect x="1707.2" y="256.2" width="10.0" height="10.0"/><rect x="1663.7" y="258.3" width="10.0" height="10.0"/><rect x="1714.4" y="259.1" width="10.0" height="10.0"/><rect x="1685.4" y="260.3" width="10.0" height="10.0"/><rect x="1679.6" y="260.8" width="10.0" height="10.0"/><rect x="1691.2" y="264.3" width="10.0" height="10.0"/><rect x="1673.8" y="264.5" width="10.0" height="10.0"/><rect x="1697.0" y="265.7" width="10.0" height="10.0"/><rect x="1668.0" y="266.9" width="10.0" height="10.0"/><rect x="1702.8" y="267.0" width="10.0" height="10.0"/><rect x="1662.2" y="267.8" width="10.0" height="10.0"/><rect x="1708.6" y="268.4" width="10.0" height="10.0"/><rect x="1656.4" y="269.6" width="10.0" height="10.0"/><rect x="1714.4" y="271.9" width="10.0" height="10.0"/><rect x="1685.4" y="276.5" width="10.0" height="10.0"/><rect x="1690.2" y="279.4" width="10.0" height="10.0"/><rect x="1680.6" y="280.6" width="10.0" height="10.0"/><rect x="1695.1" y="280.7" width="10.0" height="10.0"/><rect x="1675.7" y="281.9" width="10.0" height="10.0"/><rect x="1699.9" y="282.2" width="10.0" height="10.0"/><rect x="1670.9" y="283.1" width="10.0" height="10.0"/><rect x="1704.7" y="283.2" width="10.0" height="10.0"/><rect x="1666.1" y="283.7" width="10.0" height="10.0"/><rect x="1709.6" y="284.0" width="10.0" height="10.0"/><rect x="1661.2" y="284.5" width="10.0" height="10.0"/><rect x="1714.4" y="285.7" width="10.0" height="10.0"/><rect x="1656.4" y="287.8" width="10.0" height="10.0"/><rect x="1685.4" y="289.4" width="10.0" height="10.0"/><rect x="1670.9" y="292.2" width="10.0" height="10.0"/><rect x="1699.9" y="299.6" width="10.0" height="10.0"/><rect x="1656.4" y="299.9" width="10.0" height="10.0"/><rect x="1685.4" y="301.9" width="10.0" height="10.0"/><rect x="1690.2" y="301.9" width="10.0" height="10.0"/><rect x="1680.6" y="302.1" width="10.0" height="10.0"/><rect x="1695.1" y="302.2" width="10.0" height="10.0"/><rect x="1675.7" y="303.4" width="10.0" height="10.0"/><rect x="1699.9" y="306.1" width="10.0" height="10.0"/><rect x="1670.9" y="306.7" width="10.0" height="10.0"/><rect x="1704.7" y="307.2" width="10.0" height="10.0"/><rect x="1666.1" y="310.3" width="10.0" height="10.0"/><rect x="1709.6" y="311.0" width="10.0" height="10.0"/><rect x="1661.2" y="311.6" width="10.0" height="10.0"/><rect x="1714.4" y="312.5" width="10.0" height="10.0"/><rect x="1656.4" y="313.3" width="10.0" height="10.0"/><rect x="1685.4" y="314.0" width="10.0" height="10.0"/><rect x="1680.6" y="316.9" width="10.0" height="10.0"/><rect x="1690.2" y="317.1" width="10.0" height="10.0"/><rect x="1675.7" y="318.2" width="10.0" height="10.0"/><rect x="1695.1" y="318.9" width="10.0" height="10.0"/><rect x="1670.9" y="319.9" width="10.0" height="10.0"/><rect x="1699.9" y="320.0" width="10.0" height="10.0"/><rect x="1666.1" y="320.2" width="10.0" height="10.0"/><rect x="1704.7" y="320.9" width="10.0" height="10.0"/><rect x="1661.2" y="323.2" width="10.0" height="10.0"/><rect x="1709.6" y="323.6" width="10.0" height="10.0"/><rect x="1656.4" y="323.7" width="10.0" height="10.0"/><rect x="1714.4" y="325.3" width="10.0" height="10.0"/><rect x="1685.4" y="326.8" width="10.0" height="10.0"/><rect x="1689.0" y="326.9" width="10.0" height="10.0"/><rect x="1681.8" y="327.6" width="10.0" height="10.0"/><rect x="1692.7" y="328.1" width="10.0" height="10.0"/><rect x="1678.2" y="329.2" width="10.0" height="10.0"/><rect x="1696.3" y="330.2" width="10.0" height="10.0"/><rect x="1674.5" y="330.5" width="10.0" height="10.0"/><rect x="1699.9" y="332.7" width="10.0" height="10.0"/><rect x="1670.9" y="333.0" width="10.0" height="10.0"/><rect x="1703.5" y="333.9" width="10.0" height="10.0"/><rect x="1667.3" y="333.9" width="10.0" height="10.0"/><rect x="1707.2" y="334.2" width="10.0" height="10.0"/><rect x="1663.7" y="334.4" width="10.0" height="10.0"/><rect x="1710.8" y="337.4" width="10.0" height="10.0"/><rect x="1660.0" y="337.7" width="10.0" height="10.0"/><rect x="1714.4" y="337.8" width="10.0" height="10.0"/><rect x="1656.4" y="338.2" width="10.0" height="10.0"/><rect x="1683.7" y="339.1" width="10.0" height="10.0"/><rect x="1687.1" y="339.2" width="10.0" height="10.0"/><rect x="1680.3" y="340.1" width="10.0" height="10.0"/><rect x="1690.5" y="340.1" width="10.0" height="10.0"/><rect x="1676.9" y="340.3" width="10.0" height="10.0"/><rect x="1693.9" y="340.3" width="10.0" height="10.0"/><rect x="1673.5" y="340.4" width="10.0" height="10.0"/><rect x="1697.3" y="340.6" width="10.0" height="10.0"/><rect x="1670.0" y="341.5" width="10.0" height="10.0"/><rect x="1700.8" y="342.2" width="10.0" height="10.0"/><rect x="1666.6" y="345.8" width="10.0" height="10.0"/><rect x="1704.2" y="345.9" width="10.0" height="10.0"/><rect x="1663.2" y="346.3" width="10.0" height="10.0"/><rect x="1707.6" y="346.9" width="10.0" height="10.0"/><rect x="1659.8" y="347.0" width="10.0" height="10.0"/><rect x="1711.0" y="347.2" width="10.0" height="10.0"/><rect x="1656.4" y="349.1" width="10.0" height="10.0"/><rect x="1714.4" y="350.7" width="10.0" height="10.0"/><rect x="1687.3" y="352.0" width="10.0" height="10.0"/><rect x="1683.5" y="353.0" width="10.0" height="10.0"/><rect x="1691.2" y="353.1" width="10.0" height="10.0"/><rect x="1679.6" y="353.2" width="10.0" height="10.0"/><rect x="1695.1" y="353.9" width="10.0" height="10.0"/><rect x="1675.7" y="354.2" width="10.0" height="10.0"/><rect x="1698.9" y="355.4" width="10.0" height="10.0"/><rect x="1671.9" y="356.4" width="10.0" height="10.0"/><rect x="1702.8" y="356.7" width="10.0" height="10.0"/><rect x="1668.0" y="357.5" width="10.0" height="10.0"/><rect x="1706.7" y="358.1" width="10.0" height="10.0"/><rect x="1664.1" y="359.0" width="10.0" height="10.0"/><rect x="1710.5" y="359.7" width="10.0" height="10.0"/><rect x="1660.3" y="361.1" width="10.0" height="10.0"/><rect x="1714.4" y="361.5" width="10.0" height="10.0"/><rect x="1656.4" y="363.4" width="10.0" height="10.0"/><rect x="1685.4" y="366.4" width="10.0" height="10.0"/><rect x="1682.2" y="368.9" width="10.0" height="10.0"/><rect x="1688.6" y="369.2" width="10.0" height="10.0"/><rect x="1679.0" y="369.3" width="10.0" height="10.0"/><rect x="1691.8" y="370.0" width="10.0" height="10.0"/><rect x="1675.7" y="371.8" width="10.0" height="10.0"/><rect x="1695.1" y="372.1" width="10.0" height="10.0"/><rect x="1672.5" y="372.2" width="10.0" height="10.0"/><rect x="1698.3" y="373.0" width="10.0" height="10.0"/><rect x="1669.3" y="373.4" width="10.0" height="10.0"/><rect x="1701.5" y="374.1" width="10.0" height="10.0"/><rect x="1666.1" y="374.8" width="10.0" height="10.0"/><rect x="1704.7" y="375.6" width="10.0" height="10.0"/><rect x="1662.8" y="376.5" width="10.0" height="10.0"/><rect x="1708.0" y="376.7" width="10.0" height="10.0"/><rect x="1659.6" y="376.7" width="10.0" height="10.0"/><rect x="1711.2" y="377.1" width="10.0" height="10.0"/><rect x="1656.4" y="377.5" width="10.0" height="10.0"/><rect x="1714.4" y="378.3" width="10.0" height="10.0"/><rect x="1687.6" y="381.1" width="10.0" height="10.0"/><rect x="1683.2" y="381.7" width="10.0" height="10.0"/><rect x="1692.1" y="382.0" width="10.0" height="10.0"/><rect x="1678.7" y="382.2" width="10.0" height="10.0"/><rect x="1696.6" y="383.0" width="10.0" height="10.0"/><rect x="1674.2" y="384.0" width="10.0" height="10.0"/><rect x="1701.0" y="384.4" width="10.0" height="10.0"/><rect x="1669.8" y="389.6" width="10.0" height="10.0"/><rect x="1705.5" y="390.2" width="10.0" height="10.0"/><rect x="1665.3" y="391.0" width="10.0" height="10.0"/><rect x="1709.9" y="391.4" width="10.0" height="10.0"/><rect x="1660.9" y="391.8" width="10.0" height="10.0"/><rect x="1714.4" y="392.0" width="10.0" height="10.0"/><rect x="1656.4" y="392.9" width="10.0" height="10.0"/><rect x="1683.7" y="393.8" width="10.0" height="10.0"/><rect x="1687.1" y="394.4" width="10.0" height="10.0"/><rect x="1680.3" y="395.6" width="10.0" height="10.0"/><rect x="1690.5" y="395.8" width="10.0" height="10.0"/><rect x="1676.9" y="396.0" width="10.0" height="10.0"/><rect x="1693.9" y="396.5" width="10.0" height="10.0"/><rect x="1673.5" y="398.5" width="10.0" height="10.0"/><rect x="1697.3" y="399.4" width="10.0" height="10.0"/><rect x="1670.0" y="400.1" width="10.0" height="10.0"/><rect x="1700.8" y="401.8" width="10.0" height="10.0"/><rect x="1666.6" y="402.5" width="10.0" height="10.0"/><rect x="1704.2" y="402.6" width="10.0" height="10.0"/><rect x="1663.2" y="403.0" width="10.0" height="10.0"/><rect x="1707.6" y="403.9" width="10.0" height="10.0"/><rect x="1659.8" y="404.1" width="10.0" height="10.0"/><rect x="1711.0" y="404.4" width="10.0" height="10.0"/><rect x="1656.4" y="404.5" width="10.0" height="10.0"/><rect x="1714.4" y="404.6" width="10.0" height="10.0"/><rect x="1685.4" y="406.5" width="10.0" height="10.0"/><rect x="1689.0" y="407.5" width="10.0" height="10.0"/><rect x="1681.8" y="408.9" width="10.0" height="10.0"/><rect x="1692.7" y="408.9" width="10.0" height="10.0"/><rect x="1678.2" y="409.4" width="10.0" height="10.0"/><rect x="1696.3" y="409.6" width="10.0" height="10.0"/><rect x="1674.5" y="410.0" width="10.0" height="10.0"/><rect x="1699.9" y="411.4" width="10.0" height="10.0"/><rect x="1670.9" y="411.5" width="10.0" height="10.0"/><rect x="1703.5" y="413.8" width="10.0" height="10.0"/><rect x="1667.3" y="414.6" width="10.0" height="10.0"/><rect x="1707.2" y="415.1" width="10.0" height="10.0"/><rect x="1663.7" y="417.0" width="10.0" height="10.0"/><rect x="1710.8" y="417.0" width="10.0" height="10.0"/><rect x="1660.0" y="417.4" width="10.0" height="10.0"/><rect x="1714.4" y="417.5" width="10.0" height="10.0"/><rect x="1656.4" y="418.4" width="10.0" height="10.0"/><rect x="1685.4" y="419.1" width="10.0" height="10.0"/><rect x="1679.6" y="421.2" width="10.0" height="10.0"/><rect x="1691.2" y="422.3" width="10.0" height="10.0"/><rect x="1673.8" y="422.5" width="10.0" height="10.0"/><rect x="1697.0" y="424.8" width="10.0" height="10.0"/><rect x="1668.0" y="425.7" width="10.0" height="10.0"/><rect x="1702.8" y="425.7" width="10.0" height="10.0"/><rect x="1662.2" y="426.0" width="10.0" height="10.0"/><rect x="1708.6" y="426.2" width="10.0" height="10.0"/><rect x="1656.4" y="427.8" width="10.0" height="10.0"/><rect x="1714.4" y="428.7" width="10.0" height="10.0"/></g>
<line x1="1333.7" y1="406.7" x2="1406.7" y2="406.7" stroke="#000" stroke-width="3.6" stroke-linecap="butt"/>
<line x1="1440.4" y1="363.2" x2="1513.4" y2="363.2" stroke="#000" stroke-width="3.6" stroke-linecap="butt"/>
<line x1="1547.5" y1="371.7" x2="1620.5" y2="371.7" stroke="#000" stroke-width="3.6" stroke-linecap="butt"/>
<line x1="1653.9" y1="347.6" x2="1726.9" y2="347.6" stroke="#000" stroke-width="3.6" stroke-linecap="butt"/>
<path d="M1317.5,58.2 H1745.0 V486.1 H1317.5 Z" fill="none" stroke="#000" stroke-width="3.6" stroke-linejoin="round"/>
<line x1="1306.3" y1="486.1" x2="1317.5" y2="486.1" stroke="#000" stroke-width="3.4" stroke-linecap="round"/>
<line x1="1306.8" y1="486.1" x2="1317.5" y2="486.1" stroke="#000" stroke-width="3.4" stroke-linecap="round"/>
<text x="1303.5" y="500.1" font-size="30" text-anchor="end" font-weight="normal" font-family="'Liberation Sans', Arial, sans-serif" >0</text>
<line x1="1306.8" y1="408.3" x2="1317.5" y2="408.3" stroke="#000" stroke-width="3.4" stroke-linecap="round"/>
<text x="1303.5" y="422.3" font-size="30" text-anchor="end" font-weight="normal" font-family="'Liberation Sans', Arial, sans-serif" >1</text>
<line x1="1306.8" y1="330.5" x2="1317.5" y2="330.5" stroke="#000" stroke-width="3.4" stroke-linecap="round"/>
<text x="1303.5" y="344.5" font-size="30" text-anchor="end" font-weight="normal" font-family="'Liberation Sans', Arial, sans-serif" >2</text>
<line x1="1306.8" y1="252.7" x2="1317.5" y2="252.7" stroke="#000" stroke-width="3.4" stroke-linecap="round"/>
<text x="1303.5" y="266.7" font-size="30" text-anchor="end" font-weight="normal" font-family="'Liberation Sans', Arial, sans-serif" >3</text>
<line x1="1306.8" y1="174.9" x2="1317.5" y2="174.9" stroke="#000" stroke-width="3.4" stroke-linecap="round"/>
<text x="1303.5" y="188.9" font-size="30" text-anchor="end" font-weight="normal" font-family="'Liberation Sans', Arial, sans-serif" >4</text>
<line x1="1306.8" y1="97.1" x2="1317.5" y2="97.1" stroke="#000" stroke-width="3.4" stroke-linecap="round"/>
<text x="1303.5" y="111.1" font-size="30" text-anchor="end" font-weight="normal" font-family="'Liberation Sans', Arial, sans-serif" >5</text>
<line x1="1370.2" y1="471.7" x2="1370.2" y2="500.9" stroke="#000" stroke-width="3.4" stroke-linecap="round"/>
<line x1="1476.9" y1="471.7" x2="1476.9" y2="500.9" stroke="#000" stroke-width="3.4" stroke-linecap="round"/>
<line x1="1584.0" y1="471.7" x2="1584.0" y2="500.9" stroke="#000" stroke-width="3.4" stroke-linecap="round"/>
<line x1="1690.4" y1="471.7" x2="1690.4" y2="500.9" stroke="#000" stroke-width="3.4" stroke-linecap="round"/>
<line x1="1368.9" y1="115.9" x2="1577.3" y2="115.9" stroke="#000" stroke-width="3.4" stroke-linecap="round"/>
<line x1="1588.8" y1="115.9" x2="1691.5" y2="115.9" stroke="#000" stroke-width="3.4" stroke-linecap="round"/>
<line x1="1368.0" y1="163.0" x2="1472.0" y2="163.0" stroke="#000" stroke-width="3.4" stroke-linecap="round"/>
<line x1="1482.5" y1="163.0" x2="1691.5" y2="163.0" stroke="#000" stroke-width="3.4" stroke-linecap="round"/>
<text x="1483.6" y="107.5" font-size="38" text-anchor="middle" font-family="'IPAGothic', 'Liberation Serif', serif" letter-spacing="4.0">***</text>
<text x="1425.2" y="156.5" font-size="38" text-anchor="middle" font-family="'IPAGothic', 'Liberation Serif', serif" letter-spacing="4.0">***</text>
<text x="1639.8" y="102.1" font-size="23.1" text-anchor="middle" font-weight="normal" font-family="'Liberation Sans', Arial, sans-serif" >@@@</text>
<text x="1588.3" y="149.2" font-size="23.1" text-anchor="middle" font-weight="normal" font-family="'Liberation Sans', Arial, sans-serif" >@@@</text>
<text transform="translate(1269.0,270.8) rotate(-90)" x="0" y="0" font-size="41" text-anchor="middle" font-family="'Liberation Sans', Arial, sans-serif" >NRVCs size (F/C)</text>
<text x="1317.4" y="539.1" font-size="34" text-anchor="end" font-weight="normal" font-family="'Liberation Sans', Arial, sans-serif" >LB-100</text>
<text x="1317.4" y="578.0" font-size="34" text-anchor="end" font-weight="normal" font-family="'Liberation Sans', Arial, sans-serif" >PE</text>
<text x="1370.2" y="544.1" font-size="34" text-anchor="middle" font-weight="normal" font-family="'Liberation Sans', Arial, sans-serif" >-</text>
<text x="1476.9" y="544.1" font-size="34" text-anchor="middle" font-weight="normal" font-family="'Liberation Sans', Arial, sans-serif" >-</text>
<text x="1584.0" y="543.3" font-size="34" text-anchor="middle" font-weight="normal" font-family="'Liberation Sans', Arial, sans-serif" >+</text>
<text x="1690.4" y="543.3" font-size="34" text-anchor="middle" font-weight="normal" font-family="'Liberation Sans', Arial, sans-serif" >+</text>
<text x="1370.2" y="575.6" font-size="34" text-anchor="middle" font-weight="normal" font-family="'Liberation Sans', Arial, sans-serif" >-</text>
<text x="1476.9" y="576.9" font-size="34" text-anchor="middle" font-weight="normal" font-family="'Liberation Sans', Arial, sans-serif" >+</text>
<text x="1584.0" y="575.6" font-size="34" text-anchor="middle" font-weight="normal" font-family="'Liberation Sans', Arial, sans-serif" >-</text>
<text x="1690.4" y="576.9" font-size="34" text-anchor="middle" font-weight="normal" font-family="'Liberation Sans', Arial, sans-serif" >+</text>
<text x="2.4" y="680.5" font-size="56" text-anchor="start" font-weight="normal" font-family="'Liberation Sans', Arial, sans-serif" >D</text>
<g fill="#a3a3a6"><circle cx="177.0" cy="938.6" r="4.80"/><circle cx="162.5" cy="940.1" r="4.80"/><circle cx="191.5" cy="941.7" r="4.80"/><circle cx="148.0" cy="943.6" r="4.80"/><circle cx="206.0" cy="948.6" r="4.80"/><circle cx="177.0" cy="960.1" r="4.80"/><circle cx="191.5" cy="960.2" r="4.80"/><circle cx="162.5" cy="962.0" r="4.80"/><circle cx="206.0" cy="963.2" r="4.80"/><circle cx="148.0" cy="969.1" r="4.80"/><circle cx="177.0" cy="981.3" r="4.80"/><circle cx="169.8" cy="984.2" r="4.80"/><circle cx="184.2" cy="985.6" r="4.80"/><circle cx="162.5" cy="986.4" r="4.80"/><circle cx="191.5" cy="986.8" r="4.80"/><circle cx="155.2" cy="987.7" r="4.80"/><circle cx="198.8" cy="991.6" r="4.80"/><circle cx="148.0" cy="993.0" r="4.80"/><circle cx="180.2" cy="996.2" r="4.80"/><circle cx="173.8" cy="996.9" r="4.80"/><circle cx="186.7" cy="997.3" r="4.80"/><circle cx="167.3" cy="999.0" r="4.80"/><circle cx="193.1" cy="1000.5" r="4.80"/><circle cx="160.9" cy="1003.8" r="4.80"/><circle cx="199.6" cy="1004.2" r="4.80"/><circle cx="154.4" cy="1004.3" r="4.80"/><circle cx="206.0" cy="1004.6" r="4.80"/><circle cx="148.0" cy="1005.3" r="4.80"/><circle cx="177.0" cy="1008.9" r="4.80"/><circle cx="172.9" cy="1009.7" r="4.80"/><circle cx="181.1" cy="1010.4" r="4.80"/><circle cx="168.7" cy="1010.8" r="4.80"/><circle cx="185.3" cy="1011.8" r="4.80"/><circle cx="164.6" cy="1012.3" r="4.80"/><circle cx="189.4" cy="1012.8" r="4.80"/><circle cx="160.4" cy="1013.0" r="4.80"/><circle cx="193.6" cy="1014.5" r="4.80"/><circle cx="156.3" cy="1015.3" r="4.80"/><circle cx="197.7" cy="1016.2" r="4.80"/><circle cx="152.1" cy="1017.1" r="4.80"/><circle cx="201.9" cy="1017.2" r="4.80"/><circle cx="148.0" cy="1018.5" r="4.80"/><circle cx="206.0" cy="1019.7" r="4.80"/><circle cx="177.0" cy="1021.3" r="4.80"/><circle cx="181.8" cy="1022.2" r="4.80"/><circle cx="172.2" cy="1023.8" r="4.80"/><circle cx="186.7" cy="1025.5" r="4.80"/><circle cx="167.3" cy="1025.9" r="4.80"/><circle cx="191.5" cy="1027.7" r="4.80"/><circle cx="162.5" cy="1029.5" r="4.80"/><circle cx="196.3" cy="1029.6" r="4.80"/><circle cx="157.7" cy="1030.6" r="4.80"/><circle cx="201.2" cy="1031.1" r="4.80"/><circle cx="152.8" cy="1031.7" r="4.80"/><circle cx="206.0" cy="1032.4" r="4.80"/><circle cx="148.0" cy="1032.9" r="4.80"/><circle cx="177.0" cy="1034.2" r="4.80"/><circle cx="173.4" cy="1035.0" r="4.80"/><circle cx="180.6" cy="1035.9" r="4.80"/><circle cx="169.8" cy="1035.9" r="4.80"/><circle cx="184.2" cy="1036.3" r="4.80"/><circle cx="166.1" cy="1037.0" r="4.80"/><circle cx="187.9" cy="1038.1" r="4.80"/><circle cx="162.5" cy="1038.4" r="4.80"/><circle cx="191.5" cy="1038.4" r="4.80"/><circle cx="158.9" cy="1038.9" r="4.80"/><circle cx="195.1" cy="1039.4" r="4.80"/><circle cx="155.2" cy="1039.6" r="4.80"/><circle cx="198.8" cy="1040.0" r="4.80"/><circle cx="151.6" cy="1043.7" r="4.80"/><circle cx="202.4" cy="1045.4" r="4.80"/><circle cx="148.0" cy="1045.7" r="4.80"/><circle cx="206.0" cy="1046.0" r="4.80"/><circle cx="177.0" cy="1047.4" r="4.80"/><circle cx="180.6" cy="1048.9" r="4.80"/><circle cx="173.4" cy="1050.2" r="4.80"/><circle cx="184.2" cy="1050.6" r="4.80"/><circle cx="169.8" cy="1051.0" r="4.80"/><circle cx="187.9" cy="1052.3" r="4.80"/><circle cx="166.1" cy="1052.3" r="4.80"/><circle cx="191.5" cy="1053.0" r="4.80"/><circle cx="162.5" cy="1053.1" r="4.80"/><circle cx="195.1" cy="1053.6" r="4.80"/><circle cx="158.9" cy="1054.1" r="4.80"/><circle cx="198.8" cy="1054.2" r="4.80"/><circle cx="155.2" cy="1056.7" r="4.80"/><circle cx="202.4" cy="1057.1" r="4.80"/><circle cx="151.6" cy="1057.8" r="4.80"/><circle cx="206.0" cy="1057.8" r="4.80"/><circle cx="148.0" cy="1058.1" r="4.80"/><circle cx="175.3" cy="1059.6" r="4.80"/><circle cx="178.7" cy="1060.9" r="4.80"/><circle cx="171.9" cy="1061.8" r="4.80"/><circle cx="182.1" cy="1062.0" r="4.80"/><circle cx="168.5" cy="1062.1" r="4.80"/><circle cx="185.5" cy="1062.3" r="4.80"/><circle cx="165.1" cy="1062.8" r="4.80"/><circle cx="188.9" cy="1063.3" r="4.80"/><circle cx="161.6" cy="1063.4" r="4.80"/><circle cx="192.4" cy="1064.2" r="4.80"/><circle cx="158.2" cy="1064.9" r="4.80"/><circle cx="195.8" cy="1065.5" r="4.80"/><circle cx="154.8" cy="1065.8" r="4.80"/><circle cx="199.2" cy="1066.5" r="4.80"/><circle cx="151.4" cy="1067.4" r="4.80"/><circle cx="202.6" cy="1067.7" r="4.80"/><circle cx="148.0" cy="1068.8" r="4.80"/><circle cx="206.0" cy="1069.8" r="4.80"/><circle cx="177.0" cy="1073.1" r="4.80"/><circle cx="180.6" cy="1073.4" r="4.80"/><circle cx="173.4" cy="1073.4" r="4.80"/><circle cx="184.2" cy="1074.4" r="4.80"/><circle cx="169.8" cy="1075.6" r="4.80"/><circle cx="187.9" cy="1075.9" r="4.80"/><circle cx="166.1" cy="1076.0" r="4.80"/><circle cx="191.5" cy="1077.3" r="4.80"/><circle cx="162.5" cy="1078.2" r="4.80"/><circle cx="195.1" cy="1078.4" r="4.80"/><circle cx="158.9" cy="1078.8" r="4.80"/><circle cx="198.8" cy="1080.0" r="4.80"/><circle cx="155.2" cy="1081.0" r="4.80"/><circle cx="202.4" cy="1082.2" r="4.80"/><circle cx="151.6" cy="1082.5" r="4.80"/><circle cx="206.0" cy="1083.0" r="4.80"/><circle cx="148.0" cy="1084.9" r="4.80"/><circle cx="175.1" cy="1085.5" r="4.80"/><circle cx="178.9" cy="1085.5" r="4.80"/><circle cx="171.2" cy="1085.9" r="4.80"/><circle cx="182.8" cy="1086.0" r="4.80"/><circle cx="167.3" cy="1086.3" r="4.80"/><circle cx="186.7" cy="1086.4" r="4.80"/><circle cx="163.5" cy="1086.9" r="4.80"/><circle cx="190.5" cy="1087.1" r="4.80"/><circle cx="159.6" cy="1088.9" r="4.80"/><circle cx="194.4" cy="1089.4" r="4.80"/><circle cx="155.7" cy="1090.0" r="4.80"/><circle cx="198.3" cy="1091.0" r="4.80"/><circle cx="151.9" cy="1092.1" r="4.80"/><circle cx="202.1" cy="1095.4" r="4.80"/><circle cx="148.0" cy="1096.5" r="4.80"/><circle cx="206.0" cy="1096.9" r="4.80"/><circle cx="177.0" cy="1097.7" r="4.80"/><circle cx="179.9" cy="1099.3" r="4.80"/><circle cx="174.1" cy="1100.4" r="4.80"/><circle cx="182.8" cy="1101.9" r="4.80"/><circle cx="171.2" cy="1103.1" r="4.80"/><circle cx="185.7" cy="1104.1" r="4.80"/><circle cx="168.3" cy="1104.1" r="4.80"/><circle cx="188.6" cy="1104.2" r="4.80"/><circle cx="165.4" cy="1104.4" r="4.80"/><circle cx="191.5" cy="1104.6" r="4.80"/><circle cx="162.5" cy="1105.0" r="4.80"/><circle cx="194.4" cy="1105.1" r="4.80"/><circle cx="159.6" cy="1107.3" r="4.80"/><circle cx="197.3" cy="1107.5" r="4.80"/><circle cx="156.7" cy="1108.1" r="4.80"/><circle cx="200.2" cy="1108.7" r="4.80"/><circle cx="153.8" cy="1108.7" r="4.80"/><circle cx="203.1" cy="1108.7" r="4.80"/><circle cx="150.9" cy="1108.9" r="4.80"/><circle cx="206.0" cy="1109.1" r="4.80"/><circle cx="148.0" cy="1109.2" r="4.80"/><circle cx="174.8" cy="1110.1" r="4.80"/><circle cx="179.2" cy="1111.2" r="4.80"/><circle cx="170.3" cy="1112.0" r="4.80"/><circle cx="183.7" cy="1112.1" r="4.80"/><circle cx="165.8" cy="1112.3" r="4.80"/><circle cx="188.2" cy="1112.8" r="4.80"/><circle cx="161.4" cy="1113.2" r="4.80"/><circle cx="192.6" cy="1113.2" r="4.80"/><circle cx="156.9" cy="1113.7" r="4.80"/><circle cx="197.1" cy="1114.2" r="4.80"/><circle cx="152.5" cy="1117.6" r="4.80"/><circle cx="201.5" cy="1118.2" r="4.80"/><circle cx="148.0" cy="1118.7" r="4.80"/><circle cx="206.0" cy="1119.9" r="4.80"/></g>
<g fill="#5c5c5c"><circle cx="285.2" cy="847.7" r="4.80"/><circle cx="285.2" cy="883.3" r="4.80"/><circle cx="299.7" cy="886.4" r="4.80"/><circle cx="270.7" cy="887.6" r="4.80"/><circle cx="285.2" cy="902.3" r="4.80"/><circle cx="270.7" cy="903.0" r="4.80"/><circle cx="299.7" cy="908.6" r="4.80"/><circle cx="256.2" cy="910.9" r="4.80"/><circle cx="285.2" cy="915.2" r="4.80"/><circle cx="299.7" cy="919.2" r="4.80"/><circle cx="270.7" cy="919.5" r="4.80"/><circle cx="285.2" cy="940.2" r="4.80"/><circle cx="270.7" cy="942.7" r="4.80"/><circle cx="299.7" cy="946.3" r="4.80"/><circle cx="256.2" cy="948.1" r="4.80"/><circle cx="314.2" cy="950.0" r="4.80"/><circle cx="285.2" cy="954.1" r="4.80"/><circle cx="292.4" cy="955.5" r="4.80"/><circle cx="277.9" cy="960.7" r="4.80"/><circle cx="299.7" cy="962.8" r="4.80"/><circle cx="270.7" cy="963.3" r="4.80"/><circle cx="306.9" cy="964.2" r="4.80"/><circle cx="282.6" cy="967.8" r="4.80"/><circle cx="287.8" cy="968.1" r="4.80"/><circle cx="277.3" cy="969.2" r="4.80"/><circle cx="293.1" cy="972.1" r="4.80"/><circle cx="272.0" cy="972.8" r="4.80"/><circle cx="298.4" cy="974.4" r="4.80"/><circle cx="266.7" cy="975.0" r="4.80"/><circle cx="303.7" cy="976.3" r="4.80"/><circle cx="261.5" cy="977.6" r="4.80"/><circle cx="308.9" cy="977.9" r="4.80"/><circle cx="256.2" cy="978.3" r="4.80"/><circle cx="314.2" cy="978.7" r="4.80"/><circle cx="287.4" cy="980.2" r="4.80"/><circle cx="283.0" cy="981.7" r="4.80"/><circle cx="291.9" cy="982.2" r="4.80"/><circle cx="278.5" cy="982.2" r="4.80"/><circle cx="296.4" cy="982.5" r="4.80"/><circle cx="274.0" cy="983.4" r="4.80"/><circle cx="300.8" cy="983.4" r="4.80"/><circle cx="269.6" cy="986.6" r="4.80"/><circle cx="305.3" cy="988.9" r="4.80"/><circle cx="265.1" cy="990.6" r="4.80"/><circle cx="309.7" cy="990.7" r="4.80"/><circle cx="260.7" cy="990.9" r="4.80"/><circle cx="314.2" cy="990.9" r="4.80"/><circle cx="256.2" cy="991.6" r="4.80"/><circle cx="285.2" cy="993.5" r="4.80"/><circle cx="282.8" cy="993.9" r="4.80"/><circle cx="287.6" cy="995.5" r="4.80"/><circle cx="280.4" cy="995.8" r="4.80"/><circle cx="290.0" cy="996.5" r="4.80"/><circle cx="277.9" cy="998.1" r="4.80"/><circle cx="292.4" cy="998.1" r="4.80"/><circle cx="275.5" cy="998.2" r="4.80"/><circle cx="294.9" cy="998.5" r="4.80"/><circle cx="273.1" cy="999.5" r="4.80"/><circle cx="297.3" cy="1000.4" r="4.80"/><circle cx="270.7" cy="1000.4" r="4.80"/><circle cx="299.7" cy="1000.5" r="4.80"/><circle cx="268.3" cy="1000.8" r="4.80"/><circle cx="302.1" cy="1000.9" r="4.80"/><circle cx="265.9" cy="1001.5" r="4.80"/><circle cx="304.5" cy="1001.6" r="4.80"/><circle cx="263.4" cy="1002.6" r="4.80"/><circle cx="306.9" cy="1002.6" r="4.80"/><circle cx="261.0" cy="1003.0" r="4.80"/><circle cx="309.4" cy="1003.4" r="4.80"/><circle cx="258.6" cy="1003.7" r="4.80"/><circle cx="311.8" cy="1003.8" r="4.80"/><circle cx="256.2" cy="1004.8" r="4.80"/><circle cx="314.2" cy="1005.2" r="4.80"/><circle cx="287.4" cy="1005.5" r="4.80"/><circle cx="283.0" cy="1006.5" r="4.80"/><circle cx="291.9" cy="1006.9" r="4.80"/><circle cx="278.5" cy="1008.5" r="4.80"/><circle cx="296.4" cy="1008.7" r="4.80"/><circle cx="274.0" cy="1009.0" r="4.80"/><circle cx="300.8" cy="1009.2" r="4.80"/><circle cx="269.6" cy="1009.4" r="4.80"/><circle cx="305.3" cy="1009.8" r="4.80"/><circle cx="265.1" cy="1010.2" r="4.80"/><circle cx="309.7" cy="1010.8" r="4.80"/><circle cx="260.7" cy="1014.7" r="4.80"/><circle cx="314.2" cy="1015.2" r="4.80"/><circle cx="256.2" cy="1017.1" r="4.80"/><circle cx="283.0" cy="1018.3" r="4.80"/><circle cx="287.4" cy="1020.0" r="4.80"/><circle cx="278.5" cy="1021.7" r="4.80"/><circle cx="291.9" cy="1022.8" r="4.80"/><circle cx="274.0" cy="1023.5" r="4.80"/><circle cx="296.4" cy="1024.7" r="4.80"/><circle cx="269.6" cy="1024.8" r="4.80"/><circle cx="300.8" cy="1024.9" r="4.80"/><circle cx="265.1" cy="1025.2" r="4.80"/><circle cx="305.3" cy="1026.2" r="4.80"/><circle cx="260.7" cy="1026.7" r="4.80"/><circle cx="309.7" cy="1026.9" r="4.80"/><circle cx="256.2" cy="1027.2" r="4.80"/><circle cx="314.2" cy="1027.6" r="4.80"/><circle cx="286.7" cy="1030.7" r="4.80"/><circle cx="283.7" cy="1031.0" r="4.80"/><circle cx="289.8" cy="1031.0" r="4.80"/><circle cx="280.6" cy="1031.2" r="4.80"/><circle cx="292.8" cy="1031.6" r="4.80"/><circle cx="277.6" cy="1031.7" r="4.80"/><circle cx="295.9" cy="1033.5" r="4.80"/><circle cx="274.5" cy="1033.9" r="4.80"/><circle cx="298.9" cy="1033.9" r="4.80"/><circle cx="271.5" cy="1034.3" r="4.80"/><circle cx="302.0" cy="1034.4" r="4.80"/><circle cx="268.4" cy="1035.5" r="4.80"/><circle cx="305.0" cy="1037.1" r="4.80"/><circle cx="265.4" cy="1038.2" r="4.80"/><circle cx="308.1" cy="1039.7" r="4.80"/><circle cx="262.3" cy="1040.8" r="4.80"/><circle cx="311.1" cy="1041.1" r="4.80"/><circle cx="259.3" cy="1041.2" r="4.80"/><circle cx="314.2" cy="1042.1" r="4.80"/><circle cx="256.2" cy="1042.3" r="4.80"/><circle cx="285.2" cy="1043.0" r="4.80"/><circle cx="282.6" cy="1044.3" r="4.80"/><circle cx="287.8" cy="1044.5" r="4.80"/><circle cx="279.9" cy="1044.9" r="4.80"/><circle cx="290.5" cy="1045.2" r="4.80"/><circle cx="277.3" cy="1045.3" r="4.80"/><circle cx="293.1" cy="1045.5" r="4.80"/><circle cx="274.7" cy="1045.9" r="4.80"/><circle cx="295.7" cy="1046.5" r="4.80"/><circle cx="272.0" cy="1046.7" r="4.80"/><circle cx="298.4" cy="1047.8" r="4.80"/><circle cx="269.4" cy="1048.0" r="4.80"/><circle cx="301.0" cy="1048.9" r="4.80"/><circle cx="266.7" cy="1049.2" r="4.80"/><circle cx="303.7" cy="1050.4" r="4.80"/><circle cx="264.1" cy="1050.5" r="4.80"/><circle cx="306.3" cy="1051.1" r="4.80"/><circle cx="261.5" cy="1051.2" r="4.80"/><circle cx="308.9" cy="1051.6" r="4.80"/><circle cx="258.8" cy="1053.2" r="4.80"/><circle cx="311.6" cy="1053.5" r="4.80"/><circle cx="256.2" cy="1054.0" r="4.80"/><circle cx="314.2" cy="1054.5" r="4.80"/><circle cx="285.2" cy="1055.2" r="4.80"/><circle cx="289.3" cy="1055.3" r="4.80"/><circle cx="281.1" cy="1055.9" r="4.80"/><circle cx="293.5" cy="1056.9" r="4.80"/><circle cx="276.9" cy="1057.7" r="4.80"/><circle cx="297.6" cy="1059.3" r="4.80"/><circle cx="272.8" cy="1059.7" r="4.80"/><circle cx="301.8" cy="1062.4" r="4.80"/><circle cx="268.6" cy="1063.5" r="4.80"/><circle cx="305.9" cy="1063.6" r="4.80"/><circle cx="264.5" cy="1064.3" r="4.80"/><circle cx="310.1" cy="1064.8" r="4.80"/><circle cx="260.3" cy="1065.4" r="4.80"/><circle cx="314.2" cy="1065.6" r="4.80"/><circle cx="256.2" cy="1065.9" r="4.80"/><circle cx="283.0" cy="1068.3" r="4.80"/><circle cx="287.4" cy="1069.2" r="4.80"/><circle cx="278.5" cy="1070.0" r="4.80"/><circle cx="291.9" cy="1070.1" r="4.80"/><circle cx="274.0" cy="1070.4" r="4.80"/><circle cx="296.4" cy="1072.0" r="4.80"/><circle cx="269.6" cy="1075.1" r="4.80"/><circle cx="300.8" cy="1076.2" r="4.80"/><circle cx="265.1" cy="1077.4" r="4.80"/><circle cx="305.3" cy="1077.7" r="4.80"/><circle cx="260.7" cy="1077.7" r="4.80"/><circle cx="309.7" cy="1078.4" r="4.80"/><circle cx="256.2" cy="1079.5" r="4.80"/><circle cx="314.2" cy="1080.2" r="4.80"/><circle cx="288.4" cy="1080.9" r="4.80"/><circle cx="282.0" cy="1083.0" r="4.80"/><circle cx="294.9" cy="1085.0" r="4.80"/><circle cx="275.5" cy="1085.4" r="4.80"/><circle cx="301.3" cy="1085.7" r="4.80"/><circle cx="269.1" cy="1086.1" r="4.80"/><circle cx="307.8" cy="1086.4" r="4.80"/><circle cx="262.6" cy="1088.0" r="4.80"/><circle cx="314.2" cy="1090.1" r="4.80"/><circle cx="256.2" cy="1090.8" r="4.80"/><circle cx="285.2" cy="1097.9" r="4.80"/><circle cx="270.7" cy="1099.4" r="4.80"/><circle cx="285.2" cy="1112.6" r="4.80"/></g>
<g fill="#5aa2f6"><rect x="387.1" y="928.4" width="10.6" height="10.6"/><rect x="387.1" y="964.1" width="10.6" height="10.6"/><rect x="394.3" y="968.6" width="10.6" height="10.6"/><rect x="379.8" y="969.1" width="10.6" height="10.6"/><rect x="401.6" y="969.2" width="10.6" height="10.6"/><rect x="372.6" y="974.0" width="10.6" height="10.6"/><rect x="408.8" y="975.2" width="10.6" height="10.6"/><rect x="387.1" y="978.1" width="10.6" height="10.6"/><rect x="372.6" y="981.4" width="10.6" height="10.6"/><rect x="401.6" y="981.6" width="10.6" height="10.6"/><rect x="387.1" y="991.0" width="10.6" height="10.6"/><rect x="394.3" y="992.6" width="10.6" height="10.6"/><rect x="379.8" y="992.7" width="10.6" height="10.6"/><rect x="401.6" y="999.7" width="10.6" height="10.6"/><rect x="372.6" y="1000.4" width="10.6" height="10.6"/><rect x="408.8" y="1002.6" width="10.6" height="10.6"/><rect x="383.9" y="1003.9" width="10.6" height="10.6"/><rect x="390.3" y="1005.9" width="10.6" height="10.6"/><rect x="377.4" y="1007.2" width="10.6" height="10.6"/><rect x="396.8" y="1009.7" width="10.6" height="10.6"/><rect x="371.0" y="1010.2" width="10.6" height="10.6"/><rect x="403.2" y="1010.9" width="10.6" height="10.6"/><rect x="364.5" y="1012.8" width="10.6" height="10.6"/><rect x="409.7" y="1014.7" width="10.6" height="10.6"/><rect x="358.1" y="1015.5" width="10.6" height="10.6"/><rect x="416.1" y="1015.5" width="10.6" height="10.6"/><rect x="387.1" y="1018.3" width="10.6" height="10.6"/><rect x="394.3" y="1018.8" width="10.6" height="10.6"/><rect x="379.8" y="1019.0" width="10.6" height="10.6"/><rect x="401.6" y="1020.4" width="10.6" height="10.6"/><rect x="372.6" y="1024.6" width="10.6" height="10.6"/><rect x="408.8" y="1029.0" width="10.6" height="10.6"/><rect x="387.1" y="1030.9" width="10.6" height="10.6"/><rect x="379.8" y="1031.0" width="10.6" height="10.6"/><rect x="394.3" y="1035.4" width="10.6" height="10.6"/><rect x="372.6" y="1036.1" width="10.6" height="10.6"/><rect x="401.6" y="1037.1" width="10.6" height="10.6"/><rect x="365.3" y="1039.1" width="10.6" height="10.6"/><rect x="408.8" y="1039.5" width="10.6" height="10.6"/><rect x="358.1" y="1041.4" width="10.6" height="10.6"/><rect x="416.1" y="1042.8" width="10.6" height="10.6"/><rect x="387.1" y="1043.5" width="10.6" height="10.6"/><rect x="394.3" y="1045.1" width="10.6" height="10.6"/><rect x="379.8" y="1046.9" width="10.6" height="10.6"/><rect x="401.6" y="1051.0" width="10.6" height="10.6"/><rect x="372.6" y="1051.7" width="10.6" height="10.6"/><rect x="408.8" y="1051.8" width="10.6" height="10.6"/><rect x="365.3" y="1052.7" width="10.6" height="10.6"/><rect x="416.1" y="1053.0" width="10.6" height="10.6"/><rect x="387.1" y="1055.6" width="10.6" height="10.6"/><rect x="379.8" y="1056.4" width="10.6" height="10.6"/><rect x="394.3" y="1057.7" width="10.6" height="10.6"/><rect x="372.6" y="1058.2" width="10.6" height="10.6"/><rect x="401.6" y="1059.6" width="10.6" height="10.6"/><rect x="365.3" y="1060.2" width="10.6" height="10.6"/><rect x="408.8" y="1062.5" width="10.6" height="10.6"/><rect x="358.1" y="1063.5" width="10.6" height="10.6"/><rect x="416.1" y="1065.2" width="10.6" height="10.6"/><rect x="387.1" y="1069.6" width="10.6" height="10.6"/><rect x="391.9" y="1069.9" width="10.6" height="10.6"/><rect x="382.3" y="1070.4" width="10.6" height="10.6"/><rect x="396.8" y="1070.6" width="10.6" height="10.6"/><rect x="377.4" y="1071.6" width="10.6" height="10.6"/><rect x="401.6" y="1074.3" width="10.6" height="10.6"/><rect x="372.6" y="1075.9" width="10.6" height="10.6"/><rect x="406.4" y="1077.0" width="10.6" height="10.6"/><rect x="367.8" y="1080.9" width="10.6" height="10.6"/><rect x="411.3" y="1081.0" width="10.6" height="10.6"/><rect x="362.9" y="1081.2" width="10.6" height="10.6"/><rect x="416.1" y="1081.3" width="10.6" height="10.6"/><rect x="358.1" y="1081.4" width="10.6" height="10.6"/><rect x="387.1" y="1084.7" width="10.6" height="10.6"/><rect x="379.8" y="1085.6" width="10.6" height="10.6"/><rect x="394.3" y="1089.5" width="10.6" height="10.6"/><rect x="372.6" y="1090.4" width="10.6" height="10.6"/><rect x="401.6" y="1094.0" width="10.6" height="10.6"/><rect x="365.3" y="1095.7" width="10.6" height="10.6"/></g>
<g fill="#0808f8"><rect x="495.1" y="792.0" width="10.6" height="10.6"/><rect x="495.1" y="813.5" width="10.6" height="10.6"/><rect x="509.6" y="819.5" width="10.6" height="10.6"/><rect x="495.1" y="825.7" width="10.6" height="10.6"/><rect x="480.6" y="833.8" width="10.6" height="10.6"/><rect x="495.1" y="841.2" width="10.6" height="10.6"/><rect x="495.1" y="856.5" width="10.6" height="10.6"/><rect x="480.6" y="856.8" width="10.6" height="10.6"/><rect x="495.1" y="874.7" width="10.6" height="10.6"/><rect x="509.6" y="876.6" width="10.6" height="10.6"/><rect x="495.1" y="891.2" width="10.6" height="10.6"/><rect x="480.6" y="900.8" width="10.6" height="10.6"/><rect x="509.6" y="902.5" width="10.6" height="10.6"/><rect x="495.1" y="904.5" width="10.6" height="10.6"/><rect x="509.6" y="914.8" width="10.6" height="10.6"/><rect x="480.6" y="916.0" width="10.6" height="10.6"/><rect x="492.9" y="918.3" width="10.6" height="10.6"/><rect x="497.3" y="919.8" width="10.6" height="10.6"/><rect x="488.4" y="921.4" width="10.6" height="10.6"/><rect x="501.8" y="924.4" width="10.6" height="10.6"/><rect x="483.9" y="925.3" width="10.6" height="10.6"/><rect x="506.3" y="925.4" width="10.6" height="10.6"/><rect x="479.5" y="926.1" width="10.6" height="10.6"/><rect x="510.7" y="926.9" width="10.6" height="10.6"/><rect x="475.0" y="927.4" width="10.6" height="10.6"/><rect x="515.2" y="928.9" width="10.6" height="10.6"/><rect x="470.6" y="929.2" width="10.6" height="10.6"/><rect x="519.6" y="929.5" width="10.6" height="10.6"/><rect x="466.1" y="929.7" width="10.6" height="10.6"/><rect x="524.1" y="929.8" width="10.6" height="10.6"/><rect x="497.7" y="930.9" width="10.6" height="10.6"/><rect x="492.5" y="931.2" width="10.6" height="10.6"/><rect x="503.0" y="932.8" width="10.6" height="10.6"/><rect x="487.2" y="934.2" width="10.6" height="10.6"/><rect x="508.3" y="935.4" width="10.6" height="10.6"/><rect x="481.9" y="936.1" width="10.6" height="10.6"/><rect x="513.6" y="938.0" width="10.6" height="10.6"/><rect x="476.6" y="938.5" width="10.6" height="10.6"/><rect x="518.8" y="938.6" width="10.6" height="10.6"/><rect x="471.4" y="941.2" width="10.6" height="10.6"/><rect x="524.1" y="941.5" width="10.6" height="10.6"/><rect x="466.1" y="942.5" width="10.6" height="10.6"/><rect x="492.9" y="944.2" width="10.6" height="10.6"/><rect x="497.3" y="945.5" width="10.6" height="10.6"/><rect x="488.4" y="945.7" width="10.6" height="10.6"/><rect x="501.8" y="947.1" width="10.6" height="10.6"/><rect x="483.9" y="947.9" width="10.6" height="10.6"/><rect x="506.3" y="950.5" width="10.6" height="10.6"/><rect x="479.5" y="951.2" width="10.6" height="10.6"/><rect x="510.7" y="951.5" width="10.6" height="10.6"/><rect x="475.0" y="952.6" width="10.6" height="10.6"/><rect x="515.2" y="953.0" width="10.6" height="10.6"/><rect x="470.6" y="953.1" width="10.6" height="10.6"/><rect x="519.6" y="953.9" width="10.6" height="10.6"/><rect x="466.1" y="954.6" width="10.6" height="10.6"/><rect x="524.1" y="955.8" width="10.6" height="10.6"/><rect x="495.1" y="956.4" width="10.6" height="10.6"/><rect x="499.2" y="956.6" width="10.6" height="10.6"/><rect x="491.0" y="957.3" width="10.6" height="10.6"/><rect x="503.4" y="959.5" width="10.6" height="10.6"/><rect x="486.8" y="959.8" width="10.6" height="10.6"/><rect x="507.5" y="961.5" width="10.6" height="10.6"/><rect x="482.7" y="961.8" width="10.6" height="10.6"/><rect x="511.7" y="963.0" width="10.6" height="10.6"/><rect x="478.5" y="964.4" width="10.6" height="10.6"/><rect x="515.8" y="964.4" width="10.6" height="10.6"/><rect x="474.4" y="965.2" width="10.6" height="10.6"/><rect x="520.0" y="965.3" width="10.6" height="10.6"/><rect x="470.2" y="965.6" width="10.6" height="10.6"/><rect x="524.1" y="966.6" width="10.6" height="10.6"/><rect x="466.1" y="968.2" width="10.6" height="10.6"/><rect x="495.1" y="968.8" width="10.6" height="10.6"/><rect x="480.6" y="970.4" width="10.6" height="10.6"/><rect x="509.6" y="971.2" width="10.6" height="10.6"/><rect x="466.1" y="972.2" width="10.6" height="10.6"/><rect x="524.1" y="979.7" width="10.6" height="10.6"/><rect x="495.1" y="982.9" width="10.6" height="10.6"/><rect x="499.9" y="985.8" width="10.6" height="10.6"/><rect x="490.3" y="986.4" width="10.6" height="10.6"/><rect x="504.8" y="986.7" width="10.6" height="10.6"/><rect x="485.4" y="987.1" width="10.6" height="10.6"/><rect x="509.6" y="987.3" width="10.6" height="10.6"/><rect x="480.6" y="987.7" width="10.6" height="10.6"/><rect x="514.4" y="990.1" width="10.6" height="10.6"/><rect x="475.8" y="990.1" width="10.6" height="10.6"/><rect x="519.3" y="990.6" width="10.6" height="10.6"/><rect x="470.9" y="990.9" width="10.6" height="10.6"/><rect x="524.1" y="990.9" width="10.6" height="10.6"/><rect x="466.1" y="993.6" width="10.6" height="10.6"/><rect x="492.9" y="995.0" width="10.6" height="10.6"/><rect x="497.3" y="996.4" width="10.6" height="10.6"/><rect x="488.4" y="998.8" width="10.6" height="10.6"/><rect x="501.8" y="999.4" width="10.6" height="10.6"/><rect x="483.9" y="999.6" width="10.6" height="10.6"/><rect x="506.3" y="999.8" width="10.6" height="10.6"/><rect x="479.5" y="1000.2" width="10.6" height="10.6"/><rect x="510.7" y="1001.3" width="10.6" height="10.6"/><rect x="475.0" y="1001.4" width="10.6" height="10.6"/><rect x="515.2" y="1001.8" width="10.6" height="10.6"/><rect x="470.6" y="1001.9" width="10.6" height="10.6"/><rect x="519.6" y="1003.5" width="10.6" height="10.6"/><rect x="466.1" y="1003.8" width="10.6" height="10.6"/><rect x="524.1" y="1004.3" width="10.6" height="10.6"/><rect x="495.1" y="1007.1" width="10.6" height="10.6"/><rect x="498.7" y="1007.4" width="10.6" height="10.6"/><rect x="491.5" y="1007.6" width="10.6" height="10.6"/><rect x="502.3" y="1009.1" width="10.6" height="10.6"/><rect x="487.8" y="1009.9" width="10.6" height="10.6"/><rect x="506.0" y="1010.7" width="10.6" height="10.6"/><rect x="484.2" y="1012.5" width="10.6" height="10.6"/><rect x="509.6" y="1012.8" width="10.6" height="10.6"/><rect x="480.6" y="1012.9" width="10.6" height="10.6"/><rect x="513.2" y="1013.7" width="10.6" height="10.6"/><rect x="477.0" y="1014.1" width="10.6" height="10.6"/><rect x="516.9" y="1014.6" width="10.6" height="10.6"/><rect x="473.3" y="1014.8" width="10.6" height="10.6"/><rect x="520.5" y="1015.9" width="10.6" height="10.6"/><rect x="469.7" y="1016.4" width="10.6" height="10.6"/><rect x="524.1" y="1016.5" width="10.6" height="10.6"/><rect x="466.1" y="1017.3" width="10.6" height="10.6"/><rect x="495.1" y="1019.7" width="10.6" height="10.6"/><rect x="490.3" y="1021.2" width="10.6" height="10.6"/><rect x="499.9" y="1021.7" width="10.6" height="10.6"/><rect x="485.4" y="1021.9" width="10.6" height="10.6"/><rect x="504.8" y="1023.2" width="10.6" height="10.6"/><rect x="480.6" y="1023.5" width="10.6" height="10.6"/><rect x="509.6" y="1023.5" width="10.6" height="10.6"/><rect x="475.8" y="1024.5" width="10.6" height="10.6"/><rect x="514.4" y="1027.4" width="10.6" height="10.6"/><rect x="470.9" y="1028.2" width="10.6" height="10.6"/><rect x="519.3" y="1028.9" width="10.6" height="10.6"/><rect x="466.1" y="1029.4" width="10.6" height="10.6"/><rect x="524.1" y="1031.2" width="10.6" height="10.6"/><rect x="496.8" y="1031.9" width="10.6" height="10.6"/><rect x="493.4" y="1032.2" width="10.6" height="10.6"/><rect x="500.2" y="1032.5" width="10.6" height="10.6"/><rect x="490.0" y="1032.7" width="10.6" height="10.6"/><rect x="503.6" y="1032.7" width="10.6" height="10.6"/><rect x="486.6" y="1033.1" width="10.6" height="10.6"/><rect x="507.0" y="1033.3" width="10.6" height="10.6"/><rect x="483.2" y="1034.4" width="10.6" height="10.6"/><rect x="510.5" y="1034.9" width="10.6" height="10.6"/><rect x="479.7" y="1036.0" width="10.6" height="10.6"/><rect x="513.9" y="1036.3" width="10.6" height="10.6"/><rect x="476.3" y="1038.0" width="10.6" height="10.6"/><rect x="517.3" y="1039.1" width="10.6" height="10.6"/><rect x="472.9" y="1039.2" width="10.6" height="10.6"/><rect x="520.7" y="1039.5" width="10.6" height="10.6"/><rect x="469.5" y="1040.3" width="10.6" height="10.6"/><rect x="524.1" y="1040.5" width="10.6" height="10.6"/><rect x="466.1" y="1041.5" width="10.6" height="10.6"/><rect x="495.1" y="1044.0" width="10.6" height="10.6"/><rect x="491.5" y="1044.0" width="10.6" height="10.6"/><rect x="498.7" y="1044.2" width="10.6" height="10.6"/><rect x="487.8" y="1044.6" width="10.6" height="10.6"/><rect x="502.3" y="1044.8" width="10.6" height="10.6"/><rect x="484.2" y="1045.3" width="10.6" height="10.6"/><rect x="506.0" y="1045.8" width="10.6" height="10.6"/><rect x="480.6" y="1046.2" width="10.6" height="10.6"/><rect x="509.6" y="1046.5" width="10.6" height="10.6"/><rect x="477.0" y="1048.9" width="10.6" height="10.6"/><rect x="513.2" y="1049.8" width="10.6" height="10.6"/><rect x="473.3" y="1050.2" width="10.6" height="10.6"/><rect x="516.9" y="1050.7" width="10.6" height="10.6"/><rect x="469.7" y="1050.8" width="10.6" height="10.6"/><rect x="520.5" y="1051.5" width="10.6" height="10.6"/><rect x="466.1" y="1052.1" width="10.6" height="10.6"/><rect x="524.1" y="1054.2" width="10.6" height="10.6"/><rect x="495.1" y="1056.3" width="10.6" height="10.6"/><rect x="502.3" y="1057.8" width="10.6" height="10.6"/><rect x="487.8" y="1060.7" width="10.6" height="10.6"/><rect x="509.6" y="1064.8" width="10.6" height="10.6"/><rect x="480.6" y="1065.1" width="10.6" height="10.6"/><rect x="516.9" y="1066.9" width="10.6" height="10.6"/><rect x="473.3" y="1067.1" width="10.6" height="10.6"/><rect x="524.1" y="1067.4" width="10.6" height="10.6"/><rect x="466.1" y="1068.1" width="10.6" height="10.6"/><rect x="495.1" y="1068.5" width="10.6" height="10.6"/><rect x="489.3" y="1070.0" width="10.6" height="10.6"/><rect x="500.9" y="1071.2" width="10.6" height="10.6"/><rect x="483.5" y="1072.9" width="10.6" height="10.6"/><rect x="506.7" y="1073.4" width="10.6" height="10.6"/><rect x="477.7" y="1075.8" width="10.6" height="10.6"/><rect x="512.5" y="1076.0" width="10.6" height="10.6"/><rect x="471.9" y="1076.5" width="10.6" height="10.6"/><rect x="518.3" y="1076.9" width="10.6" height="10.6"/><rect x="466.1" y="1077.5" width="10.6" height="10.6"/><rect x="524.1" y="1078.9" width="10.6" height="10.6"/><rect x="495.1" y="1081.2" width="10.6" height="10.6"/><rect x="509.6" y="1082.5" width="10.6" height="10.6"/></g>
<line x1="140.5" y1="1061.5" x2="213.5" y2="1061.5" stroke="#000" stroke-width="3.6" stroke-linecap="butt"/>
<line x1="248.7" y1="1021.0" x2="321.7" y2="1021.0" stroke="#000" stroke-width="3.6" stroke-linecap="butt"/>
<line x1="355.9" y1="1040.0" x2="428.9" y2="1040.0" stroke="#000" stroke-width="3.6" stroke-linecap="butt"/>
<line x1="463.9" y1="996.4" x2="536.9" y2="996.4" stroke="#000" stroke-width="3.6" stroke-linecap="butt"/>
<path d="M123.5,692.8 H555.0 V1123.0 H123.5 Z" fill="none" stroke="#000" stroke-width="3.6" stroke-linejoin="round"/>
<line x1="112.8" y1="1123.0" x2="123.5" y2="1123.0" stroke="#000" stroke-width="3.4" stroke-linecap="round"/>
<line x1="113.0" y1="1123.0" x2="123.5" y2="1123.0" stroke="#000" stroke-width="3.4" stroke-linecap="round"/>
<text x="110.5" y="1131.2" font-size="24.5" text-anchor="end" font-weight="bold" font-family="'Liberation Sans', Arial, sans-serif" >0</text>
<line x1="113.0" y1="1000.1" x2="123.5" y2="1000.1" stroke="#000" stroke-width="3.4" stroke-linecap="round"/>
<text x="110.5" y="1008.3" font-size="24.5" text-anchor="end" font-weight="bold" font-family="'Liberation Sans', Arial, sans-serif" >2</text>
<line x1="113.0" y1="877.2" x2="123.5" y2="877.2" stroke="#000" stroke-width="3.4" stroke-linecap="round"/>
<text x="110.5" y="885.4" font-size="24.5" text-anchor="end" font-weight="bold" font-family="'Liberation Sans', Arial, sans-serif" >4</text>
<line x1="113.0" y1="754.3" x2="123.5" y2="754.3" stroke="#000" stroke-width="3.4" stroke-linecap="round"/>
<text x="110.5" y="762.5" font-size="24.5" text-anchor="end" font-weight="bold" font-family="'Liberation Sans', Arial, sans-serif" >6</text>
<line x1="177.0" y1="1109.3" x2="177.0" y2="1137.4" stroke="#000" stroke-width="3.4" stroke-linecap="round"/>
<line x1="285.2" y1="1109.3" x2="285.2" y2="1137.4" stroke="#000" stroke-width="3.4" stroke-linecap="round"/>
<line x1="392.4" y1="1109.3" x2="392.4" y2="1137.4" stroke="#000" stroke-width="3.4" stroke-linecap="round"/>
<line x1="500.4" y1="1109.3" x2="500.4" y2="1137.4" stroke="#000" stroke-width="3.4" stroke-linecap="round"/>
<line x1="175.1" y1="750.7" x2="386.3" y2="750.7" stroke="#000" stroke-width="3.4" stroke-linecap="round"/>
<line x1="402.1" y1="750.7" x2="507.1" y2="750.7" stroke="#000" stroke-width="3.4" stroke-linecap="round"/>
<line x1="175.1" y1="798.1" x2="280.0" y2="798.1" stroke="#000" stroke-width="3.4" stroke-linecap="round"/>
<text x="288.4" y="745.2" font-size="28" text-anchor="middle" font-family="'IPAGothic', 'Liberation Serif', serif" letter-spacing="1.0">***</text>
<text x="227.4" y="790.4" font-size="28" text-anchor="middle" font-family="'IPAGothic', 'Liberation Serif', serif" letter-spacing="1.0">***</text>
<text x="453.5" y="740.3" font-size="18.9" text-anchor="middle" font-weight="normal" font-family="'Liberation Sans', Arial, sans-serif" >@@@</text>
<text x="35.1" y="912.2" font-size="40" text-anchor="middle" font-weight="normal" font-family="'Liberation Sans', Arial, sans-serif" transform="rotate(-90 35.1 912.2)" textLength="385" lengthAdjust="spacingAndGlyphs">L-homopropargylglycine</text>
<text x="79.7" y="907.4" font-size="40" text-anchor="middle" font-weight="normal" font-family="'Liberation Sans', Arial, sans-serif" transform="rotate(-90 79.7 907.4)" textLength="319" lengthAdjust="spacingAndGlyphs">incorporation (F/C)</text>
<text x="110.0" y="1177.3" font-size="28.5" text-anchor="end" font-weight="normal" font-family="'Liberation Sans', Arial, sans-serif" >OA</text>
<text x="108.8" y="1213.2" font-size="28.5" text-anchor="end" font-weight="normal" font-family="'Liberation Sans', Arial, sans-serif" >PE</text>
<text x="177.0" y="1178.8" font-size="32" text-anchor="middle" font-weight="normal" font-family="'Liberation Sans', Arial, sans-serif" >-</text>
<text x="285.2" y="1178.8" font-size="32" text-anchor="middle" font-weight="normal" font-family="'Liberation Sans', Arial, sans-serif" >-</text>
<text x="392.4" y="1177.5" font-size="32" text-anchor="middle" font-weight="normal" font-family="'Liberation Sans', Arial, sans-serif" >+</text>
<text x="500.4" y="1177.5" font-size="32" text-anchor="middle" font-weight="normal" font-family="'Liberation Sans', Arial, sans-serif" >+</text>
<text x="177.0" y="1210.2" font-size="32" text-anchor="middle" font-weight="normal" font-family="'Liberation Sans', Arial, sans-serif" >-</text>
<text x="285.2" y="1210.9" font-size="32" text-anchor="middle" font-weight="normal" font-family="'Liberation Sans', Arial, sans-serif" >+</text>
<text x="392.4" y="1210.2" font-size="32" text-anchor="middle" font-weight="normal" font-family="'Liberation Sans', Arial, sans-serif" >-</text>
<text x="500.4" y="1210.9" font-size="32" text-anchor="middle" font-weight="normal" font-family="'Liberation Sans', Arial, sans-serif" >+</text>
<text x="610.5" y="681.1" font-size="56" text-anchor="start" font-weight="normal" font-family="'Liberation Sans', Arial, sans-serif" >E</text>
<g fill="#a3a3a6"><circle cx="773.2" cy="939.2" r="4.80"/><circle cx="758.7" cy="943.5" r="4.80"/><circle cx="773.2" cy="953.9" r="4.80"/><circle cx="787.7" cy="957.0" r="4.80"/><circle cx="758.7" cy="959.1" r="4.80"/><circle cx="773.2" cy="978.6" r="4.80"/><circle cx="758.7" cy="978.8" r="4.80"/><circle cx="787.7" cy="989.0" r="4.80"/><circle cx="775.8" cy="991.6" r="4.80"/><circle cx="770.6" cy="993.1" r="4.80"/><circle cx="781.1" cy="993.5" r="4.80"/><circle cx="765.3" cy="994.6" r="4.80"/><circle cx="786.4" cy="995.9" r="4.80"/><circle cx="760.0" cy="996.1" r="4.80"/><circle cx="791.7" cy="997.5" r="4.80"/><circle cx="754.7" cy="999.6" r="4.80"/><circle cx="796.9" cy="1000.0" r="4.80"/><circle cx="749.5" cy="1000.1" r="4.80"/><circle cx="802.2" cy="1001.1" r="4.80"/><circle cx="744.2" cy="1001.8" r="4.80"/><circle cx="770.0" cy="1003.7" r="4.80"/><circle cx="776.4" cy="1005.2" r="4.80"/><circle cx="763.5" cy="1005.7" r="4.80"/><circle cx="782.9" cy="1006.3" r="4.80"/><circle cx="757.1" cy="1007.0" r="4.80"/><circle cx="789.3" cy="1007.7" r="4.80"/><circle cx="750.6" cy="1008.3" r="4.80"/><circle cx="795.8" cy="1010.7" r="4.80"/><circle cx="744.2" cy="1012.0" r="4.80"/><circle cx="802.2" cy="1012.2" r="4.80"/><circle cx="773.2" cy="1020.9" r="4.80"/><circle cx="779.0" cy="1022.1" r="4.80"/><circle cx="767.4" cy="1023.0" r="4.80"/><circle cx="784.8" cy="1023.3" r="4.80"/><circle cx="761.6" cy="1027.0" r="4.80"/><circle cx="790.6" cy="1029.1" r="4.80"/><circle cx="755.8" cy="1029.5" r="4.80"/><circle cx="796.4" cy="1029.7" r="4.80"/><circle cx="750.0" cy="1030.0" r="4.80"/><circle cx="802.2" cy="1031.7" r="4.80"/><circle cx="744.2" cy="1032.7" r="4.80"/><circle cx="773.2" cy="1035.1" r="4.80"/><circle cx="769.6" cy="1037.2" r="4.80"/><circle cx="776.8" cy="1037.5" r="4.80"/><circle cx="766.0" cy="1037.5" r="4.80"/><circle cx="780.5" cy="1037.6" r="4.80"/><circle cx="762.3" cy="1038.5" r="4.80"/><circle cx="784.1" cy="1039.1" r="4.80"/><circle cx="758.7" cy="1040.5" r="4.80"/><circle cx="787.7" cy="1040.9" r="4.80"/><circle cx="755.1" cy="1041.2" r="4.80"/><circle cx="791.3" cy="1041.4" r="4.80"/><circle cx="751.5" cy="1041.4" r="4.80"/><circle cx="795.0" cy="1043.3" r="4.80"/><circle cx="747.8" cy="1044.5" r="4.80"/><circle cx="798.6" cy="1045.1" r="4.80"/><circle cx="744.2" cy="1045.4" r="4.80"/><circle cx="802.2" cy="1046.4" r="4.80"/><circle cx="775.1" cy="1048.2" r="4.80"/><circle cx="771.3" cy="1048.5" r="4.80"/><circle cx="779.0" cy="1050.1" r="4.80"/><circle cx="767.4" cy="1050.5" r="4.80"/><circle cx="782.9" cy="1050.9" r="4.80"/><circle cx="763.5" cy="1050.9" r="4.80"/><circle cx="786.7" cy="1052.3" r="4.80"/><circle cx="759.7" cy="1052.4" r="4.80"/><circle cx="790.6" cy="1053.6" r="4.80"/><circle cx="755.8" cy="1054.0" r="4.80"/><circle cx="794.5" cy="1055.1" r="4.80"/><circle cx="751.9" cy="1055.2" r="4.80"/><circle cx="798.3" cy="1056.7" r="4.80"/><circle cx="748.1" cy="1057.9" r="4.80"/><circle cx="802.2" cy="1058.8" r="4.80"/><circle cx="744.2" cy="1059.5" r="4.80"/><circle cx="773.2" cy="1060.2" r="4.80"/><circle cx="767.4" cy="1060.3" r="4.80"/><circle cx="779.0" cy="1060.9" r="4.80"/><circle cx="761.6" cy="1061.0" r="4.80"/><circle cx="784.8" cy="1062.3" r="4.80"/><circle cx="755.8" cy="1063.5" r="4.80"/><circle cx="790.6" cy="1063.5" r="4.80"/><circle cx="750.0" cy="1063.7" r="4.80"/><circle cx="796.4" cy="1064.4" r="4.80"/><circle cx="744.2" cy="1067.8" r="4.80"/><circle cx="802.2" cy="1069.5" r="4.80"/><circle cx="775.8" cy="1072.4" r="4.80"/><circle cx="770.6" cy="1073.5" r="4.80"/><circle cx="781.1" cy="1074.2" r="4.80"/><circle cx="765.3" cy="1074.5" r="4.80"/><circle cx="786.4" cy="1074.7" r="4.80"/><circle cx="760.0" cy="1075.2" r="4.80"/><circle cx="791.7" cy="1076.3" r="4.80"/><circle cx="754.7" cy="1077.1" r="4.80"/><circle cx="796.9" cy="1077.8" r="4.80"/><circle cx="749.5" cy="1080.2" r="4.80"/><circle cx="802.2" cy="1081.7" r="4.80"/><circle cx="744.2" cy="1084.2" r="4.80"/><circle cx="773.2" cy="1085.1" r="4.80"/><circle cx="758.7" cy="1085.3" r="4.80"/></g>
<g fill="#c58f49"><circle cx="880.8" cy="882.9" r="4.80"/><circle cx="880.8" cy="945.3" r="4.80"/><circle cx="895.3" cy="952.0" r="4.80"/><circle cx="880.8" cy="958.7" r="4.80"/><circle cx="873.5" cy="959.4" r="4.80"/><circle cx="888.0" cy="962.2" r="4.80"/><circle cx="866.3" cy="962.6" r="4.80"/><circle cx="895.3" cy="963.5" r="4.80"/><circle cx="859.0" cy="967.8" r="4.80"/><circle cx="902.5" cy="968.0" r="4.80"/><circle cx="851.8" cy="968.5" r="4.80"/><circle cx="880.8" cy="972.4" r="4.80"/><circle cx="884.9" cy="973.8" r="4.80"/><circle cx="876.7" cy="973.9" r="4.80"/><circle cx="889.1" cy="973.9" r="4.80"/><circle cx="872.5" cy="975.1" r="4.80"/><circle cx="893.2" cy="976.0" r="4.80"/><circle cx="868.4" cy="976.1" r="4.80"/><circle cx="897.4" cy="977.4" r="4.80"/><circle cx="864.2" cy="977.4" r="4.80"/><circle cx="901.5" cy="977.6" r="4.80"/><circle cx="860.1" cy="978.0" r="4.80"/><circle cx="905.7" cy="979.2" r="4.80"/><circle cx="855.9" cy="980.4" r="4.80"/><circle cx="909.8" cy="980.5" r="4.80"/><circle cx="851.8" cy="981.6" r="4.80"/><circle cx="879.3" cy="985.0" r="4.80"/><circle cx="882.3" cy="987.2" r="4.80"/><circle cx="876.2" cy="987.6" r="4.80"/><circle cx="885.4" cy="987.9" r="4.80"/><circle cx="873.2" cy="988.7" r="4.80"/><circle cx="888.4" cy="988.7" r="4.80"/><circle cx="870.1" cy="989.1" r="4.80"/><circle cx="891.5" cy="989.3" r="4.80"/><circle cx="867.1" cy="989.4" r="4.80"/><circle cx="894.5" cy="989.6" r="4.80"/><circle cx="864.0" cy="990.3" r="4.80"/><circle cx="897.6" cy="991.3" r="4.80"/><circle cx="861.0" cy="991.6" r="4.80"/><circle cx="900.6" cy="991.8" r="4.80"/><circle cx="857.9" cy="994.5" r="4.80"/><circle cx="903.7" cy="994.9" r="4.80"/><circle cx="854.9" cy="995.4" r="4.80"/><circle cx="906.7" cy="995.7" r="4.80"/><circle cx="851.8" cy="996.5" r="4.80"/><circle cx="909.8" cy="997.0" r="4.80"/><circle cx="880.8" cy="997.2" r="4.80"/><circle cx="884.4" cy="997.7" r="4.80"/><circle cx="877.2" cy="998.6" r="4.80"/><circle cx="888.0" cy="998.8" r="4.80"/><circle cx="873.5" cy="999.0" r="4.80"/><circle cx="891.7" cy="999.6" r="4.80"/><circle cx="869.9" cy="999.9" r="4.80"/><circle cx="895.3" cy="1000.7" r="4.80"/><circle cx="866.3" cy="1000.8" r="4.80"/><circle cx="898.9" cy="1001.2" r="4.80"/><circle cx="862.7" cy="1002.9" r="4.80"/><circle cx="902.5" cy="1003.7" r="4.80"/><circle cx="859.0" cy="1004.0" r="4.80"/><circle cx="906.2" cy="1006.1" r="4.80"/><circle cx="855.4" cy="1006.1" r="4.80"/><circle cx="909.8" cy="1006.2" r="4.80"/><circle cx="851.8" cy="1006.9" r="4.80"/><circle cx="880.8" cy="1011.0" r="4.80"/><circle cx="876.7" cy="1012.5" r="4.80"/><circle cx="884.9" cy="1012.7" r="4.80"/><circle cx="872.5" cy="1013.3" r="4.80"/><circle cx="889.1" cy="1013.8" r="4.80"/><circle cx="868.4" cy="1016.7" r="4.80"/><circle cx="893.2" cy="1017.2" r="4.80"/><circle cx="864.2" cy="1017.8" r="4.80"/><circle cx="897.4" cy="1019.1" r="4.80"/><circle cx="860.1" cy="1019.9" r="4.80"/><circle cx="901.5" cy="1020.7" r="4.80"/><circle cx="855.9" cy="1021.1" r="4.80"/><circle cx="905.7" cy="1022.4" r="4.80"/><circle cx="851.8" cy="1022.7" r="4.80"/><circle cx="909.8" cy="1022.8" r="4.80"/><circle cx="880.8" cy="1024.6" r="4.80"/><circle cx="884.0" cy="1024.8" r="4.80"/><circle cx="877.6" cy="1025.3" r="4.80"/><circle cx="887.2" cy="1025.4" r="4.80"/><circle cx="874.4" cy="1025.8" r="4.80"/><circle cx="890.5" cy="1026.5" r="4.80"/><circle cx="871.1" cy="1026.8" r="4.80"/><circle cx="893.7" cy="1029.1" r="4.80"/><circle cx="867.9" cy="1029.3" r="4.80"/><circle cx="896.9" cy="1030.0" r="4.80"/><circle cx="864.7" cy="1030.2" r="4.80"/><circle cx="900.1" cy="1031.3" r="4.80"/><circle cx="861.5" cy="1032.3" r="4.80"/><circle cx="903.4" cy="1032.4" r="4.80"/><circle cx="858.2" cy="1032.6" r="4.80"/><circle cx="906.6" cy="1033.0" r="4.80"/><circle cx="855.0" cy="1033.1" r="4.80"/><circle cx="909.8" cy="1035.7" r="4.80"/><circle cx="851.8" cy="1036.4" r="4.80"/><circle cx="880.8" cy="1037.0" r="4.80"/><circle cx="877.2" cy="1037.5" r="4.80"/><circle cx="884.4" cy="1038.8" r="4.80"/><circle cx="873.5" cy="1041.2" r="4.80"/><circle cx="888.0" cy="1041.5" r="4.80"/><circle cx="869.9" cy="1041.6" r="4.80"/><circle cx="891.7" cy="1041.7" r="4.80"/><circle cx="866.3" cy="1044.3" r="4.80"/><circle cx="895.3" cy="1044.3" r="4.80"/><circle cx="862.7" cy="1044.6" r="4.80"/><circle cx="898.9" cy="1044.9" r="4.80"/><circle cx="859.0" cy="1045.5" r="4.80"/><circle cx="902.5" cy="1046.4" r="4.80"/><circle cx="855.4" cy="1047.2" r="4.80"/><circle cx="906.2" cy="1047.3" r="4.80"/><circle cx="851.8" cy="1047.5" r="4.80"/><circle cx="909.8" cy="1047.5" r="4.80"/><circle cx="880.8" cy="1050.3" r="4.80"/><circle cx="883.7" cy="1050.4" r="4.80"/><circle cx="877.9" cy="1050.7" r="4.80"/><circle cx="886.6" cy="1051.3" r="4.80"/><circle cx="875.0" cy="1051.5" r="4.80"/><circle cx="889.5" cy="1051.9" r="4.80"/><circle cx="872.1" cy="1052.0" r="4.80"/><circle cx="892.4" cy="1052.1" r="4.80"/><circle cx="869.2" cy="1052.8" r="4.80"/><circle cx="895.3" cy="1053.2" r="4.80"/><circle cx="866.3" cy="1053.5" r="4.80"/><circle cx="898.2" cy="1054.5" r="4.80"/><circle cx="863.4" cy="1054.5" r="4.80"/><circle cx="901.1" cy="1054.8" r="4.80"/><circle cx="860.5" cy="1056.8" r="4.80"/><circle cx="904.0" cy="1057.1" r="4.80"/><circle cx="857.6" cy="1057.3" r="4.80"/><circle cx="906.9" cy="1057.4" r="4.80"/><circle cx="854.7" cy="1057.9" r="4.80"/><circle cx="909.8" cy="1058.9" r="4.80"/><circle cx="851.8" cy="1061.0" r="4.80"/><circle cx="880.8" cy="1065.6" r="4.80"/><circle cx="875.0" cy="1066.7" r="4.80"/><circle cx="886.6" cy="1069.2" r="4.80"/><circle cx="869.2" cy="1071.5" r="4.80"/><circle cx="892.4" cy="1071.7" r="4.80"/><circle cx="863.4" cy="1073.1" r="4.80"/><circle cx="898.2" cy="1073.6" r="4.80"/><circle cx="857.6" cy="1073.9" r="4.80"/><circle cx="904.0" cy="1076.3" r="4.80"/><circle cx="851.8" cy="1076.6" r="4.80"/><circle cx="909.8" cy="1077.0" r="4.80"/><circle cx="880.8" cy="1079.2" r="4.80"/><circle cx="888.0" cy="1081.3" r="4.80"/><circle cx="873.5" cy="1082.9" r="4.80"/><circle cx="895.3" cy="1083.3" r="4.80"/><circle cx="866.3" cy="1086.4" r="4.80"/><circle cx="902.5" cy="1089.3" r="4.80"/></g>
<g fill="#5aa2f6"><rect x="983.8" y="938.3" width="10.4" height="10.4"/><rect x="969.3" y="941.4" width="10.4" height="10.4"/><rect x="998.3" y="942.7" width="10.4" height="10.4"/><rect x="954.8" y="946.7" width="10.4" height="10.4"/><rect x="983.8" y="952.8" width="10.4" height="10.4"/><rect x="998.3" y="955.0" width="10.4" height="10.4"/><rect x="983.8" y="966.6" width="10.4" height="10.4"/><rect x="969.3" y="967.7" width="10.4" height="10.4"/><rect x="998.3" y="972.4" width="10.4" height="10.4"/><rect x="954.8" y="976.2" width="10.4" height="10.4"/><rect x="983.8" y="979.1" width="10.4" height="10.4"/><rect x="991.0" y="979.9" width="10.4" height="10.4"/><rect x="976.5" y="982.6" width="10.4" height="10.4"/><rect x="998.3" y="985.5" width="10.4" height="10.4"/><rect x="969.3" y="986.8" width="10.4" height="10.4"/><rect x="1005.5" y="988.0" width="10.4" height="10.4"/><rect x="962.0" y="988.1" width="10.4" height="10.4"/><rect x="1012.8" y="989.9" width="10.4" height="10.4"/><rect x="954.8" y="990.7" width="10.4" height="10.4"/><rect x="981.6" y="992.2" width="10.4" height="10.4"/><rect x="986.0" y="994.2" width="10.4" height="10.4"/><rect x="977.1" y="994.4" width="10.4" height="10.4"/><rect x="990.5" y="994.6" width="10.4" height="10.4"/><rect x="972.6" y="995.4" width="10.4" height="10.4"/><rect x="995.0" y="995.7" width="10.4" height="10.4"/><rect x="968.2" y="995.8" width="10.4" height="10.4"/><rect x="999.4" y="996.2" width="10.4" height="10.4"/><rect x="963.7" y="997.2" width="10.4" height="10.4"/><rect x="1003.9" y="998.2" width="10.4" height="10.4"/><rect x="959.3" y="999.4" width="10.4" height="10.4"/><rect x="1008.3" y="1000.8" width="10.4" height="10.4"/><rect x="954.8" y="1001.5" width="10.4" height="10.4"/><rect x="1012.8" y="1002.2" width="10.4" height="10.4"/><rect x="983.8" y="1005.0" width="10.4" height="10.4"/><rect x="987.9" y="1005.8" width="10.4" height="10.4"/><rect x="979.7" y="1006.1" width="10.4" height="10.4"/><rect x="992.1" y="1008.1" width="10.4" height="10.4"/><rect x="975.5" y="1008.3" width="10.4" height="10.4"/><rect x="996.2" y="1008.9" width="10.4" height="10.4"/><rect x="971.4" y="1010.6" width="10.4" height="10.4"/><rect x="1000.4" y="1011.2" width="10.4" height="10.4"/><rect x="967.2" y="1012.4" width="10.4" height="10.4"/><rect x="1004.5" y="1012.5" width="10.4" height="10.4"/><rect x="963.1" y="1013.2" width="10.4" height="10.4"/><rect x="1008.7" y="1013.3" width="10.4" height="10.4"/><rect x="958.9" y="1015.5" width="10.4" height="10.4"/><rect x="1012.8" y="1016.1" width="10.4" height="10.4"/><rect x="954.8" y="1016.6" width="10.4" height="10.4"/><rect x="983.8" y="1018.6" width="10.4" height="10.4"/><rect x="979.0" y="1019.7" width="10.4" height="10.4"/><rect x="988.6" y="1020.2" width="10.4" height="10.4"/><rect x="974.1" y="1021.4" width="10.4" height="10.4"/><rect x="993.5" y="1023.5" width="10.4" height="10.4"/><rect x="969.3" y="1024.0" width="10.4" height="10.4"/><rect x="998.3" y="1025.2" width="10.4" height="10.4"/><rect x="964.5" y="1025.5" width="10.4" height="10.4"/><rect x="1003.1" y="1026.0" width="10.4" height="10.4"/><rect x="959.6" y="1026.6" width="10.4" height="10.4"/><rect x="1008.0" y="1026.9" width="10.4" height="10.4"/><rect x="954.8" y="1028.2" width="10.4" height="10.4"/><rect x="1012.8" y="1029.1" width="10.4" height="10.4"/><rect x="983.8" y="1031.6" width="10.4" height="10.4"/><rect x="989.6" y="1031.7" width="10.4" height="10.4"/><rect x="978.0" y="1033.4" width="10.4" height="10.4"/><rect x="995.4" y="1035.8" width="10.4" height="10.4"/><rect x="972.2" y="1037.6" width="10.4" height="10.4"/><rect x="1001.2" y="1037.7" width="10.4" height="10.4"/><rect x="966.4" y="1037.9" width="10.4" height="10.4"/><rect x="1007.0" y="1039.2" width="10.4" height="10.4"/><rect x="960.6" y="1039.9" width="10.4" height="10.4"/><rect x="1012.8" y="1040.3" width="10.4" height="10.4"/><rect x="954.8" y="1042.3" width="10.4" height="10.4"/><rect x="983.8" y="1043.6" width="10.4" height="10.4"/><rect x="980.2" y="1044.6" width="10.4" height="10.4"/><rect x="987.4" y="1044.7" width="10.4" height="10.4"/><rect x="976.5" y="1044.7" width="10.4" height="10.4"/><rect x="991.0" y="1046.1" width="10.4" height="10.4"/><rect x="972.9" y="1047.6" width="10.4" height="10.4"/><rect x="994.7" y="1049.8" width="10.4" height="10.4"/><rect x="969.3" y="1050.1" width="10.4" height="10.4"/><rect x="998.3" y="1050.4" width="10.4" height="10.4"/><rect x="965.7" y="1052.4" width="10.4" height="10.4"/><rect x="1001.9" y="1052.8" width="10.4" height="10.4"/><rect x="962.0" y="1053.1" width="10.4" height="10.4"/><rect x="1005.5" y="1053.2" width="10.4" height="10.4"/><rect x="958.4" y="1054.3" width="10.4" height="10.4"/><rect x="1009.2" y="1055.4" width="10.4" height="10.4"/><rect x="954.8" y="1055.4" width="10.4" height="10.4"/><rect x="1012.8" y="1055.5" width="10.4" height="10.4"/><rect x="986.4" y="1056.4" width="10.4" height="10.4"/><rect x="981.2" y="1058.3" width="10.4" height="10.4"/><rect x="991.7" y="1058.9" width="10.4" height="10.4"/><rect x="975.9" y="1059.0" width="10.4" height="10.4"/><rect x="997.0" y="1060.6" width="10.4" height="10.4"/><rect x="970.6" y="1061.1" width="10.4" height="10.4"/><rect x="1002.3" y="1062.4" width="10.4" height="10.4"/><rect x="965.3" y="1063.8" width="10.4" height="10.4"/><rect x="1007.5" y="1065.0" width="10.4" height="10.4"/><rect x="960.1" y="1065.0" width="10.4" height="10.4"/><rect x="1012.8" y="1065.8" width="10.4" height="10.4"/><rect x="954.8" y="1068.3" width="10.4" height="10.4"/><rect x="983.8" y="1070.3" width="10.4" height="10.4"/><rect x="978.0" y="1071.0" width="10.4" height="10.4"/><rect x="989.6" y="1071.5" width="10.4" height="10.4"/><rect x="972.2" y="1071.6" width="10.4" height="10.4"/><rect x="995.4" y="1073.9" width="10.4" height="10.4"/><rect x="966.4" y="1074.6" width="10.4" height="10.4"/><rect x="1001.2" y="1076.8" width="10.4" height="10.4"/><rect x="960.6" y="1077.6" width="10.4" height="10.4"/><rect x="1007.0" y="1077.6" width="10.4" height="10.4"/><rect x="954.8" y="1078.4" width="10.4" height="10.4"/><rect x="1012.8" y="1080.5" width="10.4" height="10.4"/></g>
<g fill="#0808f8"><rect x="1092.0" y="772.1" width="10.4" height="10.4"/><rect x="1092.0" y="840.5" width="10.4" height="10.4"/><rect x="1106.5" y="850.0" width="10.4" height="10.4"/><rect x="1077.5" y="851.8" width="10.4" height="10.4"/><rect x="1092.0" y="853.5" width="10.4" height="10.4"/><rect x="1077.5" y="854.7" width="10.4" height="10.4"/><rect x="1106.5" y="865.4" width="10.4" height="10.4"/><rect x="1092.0" y="870.0" width="10.4" height="10.4"/><rect x="1106.5" y="870.5" width="10.4" height="10.4"/><rect x="1092.0" y="883.4" width="10.4" height="10.4"/><rect x="1077.5" y="888.1" width="10.4" height="10.4"/><rect x="1106.5" y="893.5" width="10.4" height="10.4"/><rect x="1063.0" y="894.1" width="10.4" height="10.4"/><rect x="1121.0" y="895.1" width="10.4" height="10.4"/><rect x="1092.0" y="896.6" width="10.4" height="10.4"/><rect x="1099.2" y="898.8" width="10.4" height="10.4"/><rect x="1084.8" y="901.2" width="10.4" height="10.4"/><rect x="1106.5" y="901.5" width="10.4" height="10.4"/><rect x="1077.5" y="901.7" width="10.4" height="10.4"/><rect x="1113.8" y="903.0" width="10.4" height="10.4"/><rect x="1070.2" y="904.2" width="10.4" height="10.4"/><rect x="1121.0" y="908.6" width="10.4" height="10.4"/><rect x="1092.0" y="911.2" width="10.4" height="10.4"/><rect x="1086.2" y="911.7" width="10.4" height="10.4"/><rect x="1097.8" y="912.2" width="10.4" height="10.4"/><rect x="1080.4" y="913.0" width="10.4" height="10.4"/><rect x="1103.6" y="914.4" width="10.4" height="10.4"/><rect x="1074.6" y="915.6" width="10.4" height="10.4"/><rect x="1109.4" y="916.6" width="10.4" height="10.4"/><rect x="1068.8" y="916.6" width="10.4" height="10.4"/><rect x="1115.2" y="917.7" width="10.4" height="10.4"/><rect x="1063.0" y="918.5" width="10.4" height="10.4"/><rect x="1121.0" y="919.9" width="10.4" height="10.4"/><rect x="1092.0" y="924.9" width="10.4" height="10.4"/><rect x="1096.8" y="929.2" width="10.4" height="10.4"/><rect x="1087.2" y="930.0" width="10.4" height="10.4"/><rect x="1101.7" y="930.1" width="10.4" height="10.4"/><rect x="1082.3" y="930.4" width="10.4" height="10.4"/><rect x="1106.5" y="931.5" width="10.4" height="10.4"/><rect x="1077.5" y="932.2" width="10.4" height="10.4"/><rect x="1111.3" y="934.0" width="10.4" height="10.4"/><rect x="1072.7" y="934.1" width="10.4" height="10.4"/><rect x="1116.2" y="934.6" width="10.4" height="10.4"/><rect x="1067.8" y="935.4" width="10.4" height="10.4"/><rect x="1121.0" y="936.0" width="10.4" height="10.4"/><rect x="1063.0" y="936.1" width="10.4" height="10.4"/><rect x="1092.0" y="937.2" width="10.4" height="10.4"/><rect x="1087.2" y="937.4" width="10.4" height="10.4"/><rect x="1096.8" y="937.6" width="10.4" height="10.4"/><rect x="1082.3" y="937.8" width="10.4" height="10.4"/><rect x="1101.7" y="939.1" width="10.4" height="10.4"/><rect x="1077.5" y="940.4" width="10.4" height="10.4"/><rect x="1106.5" y="940.7" width="10.4" height="10.4"/><rect x="1072.7" y="943.1" width="10.4" height="10.4"/><rect x="1111.3" y="943.3" width="10.4" height="10.4"/><rect x="1067.8" y="944.0" width="10.4" height="10.4"/><rect x="1116.2" y="944.4" width="10.4" height="10.4"/><rect x="1063.0" y="945.2" width="10.4" height="10.4"/><rect x="1121.0" y="945.6" width="10.4" height="10.4"/><rect x="1094.6" y="950.4" width="10.4" height="10.4"/><rect x="1089.4" y="950.4" width="10.4" height="10.4"/><rect x="1099.9" y="950.8" width="10.4" height="10.4"/><rect x="1084.1" y="952.0" width="10.4" height="10.4"/><rect x="1105.2" y="952.2" width="10.4" height="10.4"/><rect x="1078.8" y="954.9" width="10.4" height="10.4"/><rect x="1110.5" y="955.6" width="10.4" height="10.4"/><rect x="1073.5" y="956.0" width="10.4" height="10.4"/><rect x="1115.7" y="956.5" width="10.4" height="10.4"/><rect x="1068.3" y="957.1" width="10.4" height="10.4"/><rect x="1121.0" y="959.9" width="10.4" height="10.4"/><rect x="1063.0" y="960.5" width="10.4" height="10.4"/><rect x="1092.0" y="964.4" width="10.4" height="10.4"/><rect x="1086.2" y="964.8" width="10.4" height="10.4"/><rect x="1097.8" y="965.1" width="10.4" height="10.4"/><rect x="1080.4" y="965.1" width="10.4" height="10.4"/><rect x="1103.6" y="965.3" width="10.4" height="10.4"/><rect x="1074.6" y="965.6" width="10.4" height="10.4"/><rect x="1109.4" y="970.5" width="10.4" height="10.4"/><rect x="1068.8" y="971.8" width="10.4" height="10.4"/><rect x="1115.2" y="972.8" width="10.4" height="10.4"/><rect x="1063.0" y="973.7" width="10.4" height="10.4"/><rect x="1121.0" y="974.3" width="10.4" height="10.4"/><rect x="1092.0" y="976.4" width="10.4" height="10.4"/><rect x="1096.1" y="976.8" width="10.4" height="10.4"/><rect x="1087.9" y="977.3" width="10.4" height="10.4"/><rect x="1100.3" y="977.6" width="10.4" height="10.4"/><rect x="1083.7" y="977.9" width="10.4" height="10.4"/><rect x="1104.4" y="978.5" width="10.4" height="10.4"/><rect x="1079.6" y="980.4" width="10.4" height="10.4"/><rect x="1108.6" y="980.5" width="10.4" height="10.4"/><rect x="1075.4" y="980.9" width="10.4" height="10.4"/><rect x="1112.7" y="981.3" width="10.4" height="10.4"/><rect x="1071.3" y="981.6" width="10.4" height="10.4"/><rect x="1116.9" y="983.1" width="10.4" height="10.4"/><rect x="1067.1" y="983.8" width="10.4" height="10.4"/><rect x="1121.0" y="986.7" width="10.4" height="10.4"/><rect x="1063.0" y="987.3" width="10.4" height="10.4"/><rect x="1090.1" y="996.3" width="10.4" height="10.4"/><rect x="1093.9" y="997.0" width="10.4" height="10.4"/><rect x="1086.2" y="998.8" width="10.4" height="10.4"/><rect x="1097.8" y="998.9" width="10.4" height="10.4"/><rect x="1082.3" y="999.5" width="10.4" height="10.4"/><rect x="1101.7" y="1000.1" width="10.4" height="10.4"/><rect x="1078.5" y="1000.4" width="10.4" height="10.4"/><rect x="1105.5" y="1000.8" width="10.4" height="10.4"/><rect x="1074.6" y="1003.5" width="10.4" height="10.4"/><rect x="1109.4" y="1003.6" width="10.4" height="10.4"/><rect x="1070.7" y="1003.6" width="10.4" height="10.4"/><rect x="1113.3" y="1004.6" width="10.4" height="10.4"/><rect x="1066.9" y="1005.3" width="10.4" height="10.4"/><rect x="1117.1" y="1006.1" width="10.4" height="10.4"/><rect x="1063.0" y="1007.0" width="10.4" height="10.4"/><rect x="1121.0" y="1008.1" width="10.4" height="10.4"/><rect x="1095.2" y="1011.6" width="10.4" height="10.4"/><rect x="1088.8" y="1012.0" width="10.4" height="10.4"/><rect x="1101.7" y="1012.9" width="10.4" height="10.4"/><rect x="1082.3" y="1014.4" width="10.4" height="10.4"/><rect x="1108.1" y="1015.0" width="10.4" height="10.4"/><rect x="1075.9" y="1016.0" width="10.4" height="10.4"/><rect x="1114.6" y="1017.6" width="10.4" height="10.4"/><rect x="1069.4" y="1017.8" width="10.4" height="10.4"/><rect x="1121.0" y="1020.4" width="10.4" height="10.4"/><rect x="1063.0" y="1020.4" width="10.4" height="10.4"/><rect x="1089.4" y="1024.6" width="10.4" height="10.4"/><rect x="1094.6" y="1026.0" width="10.4" height="10.4"/><rect x="1084.1" y="1027.6" width="10.4" height="10.4"/><rect x="1099.9" y="1027.7" width="10.4" height="10.4"/><rect x="1078.8" y="1029.8" width="10.4" height="10.4"/><rect x="1105.2" y="1030.5" width="10.4" height="10.4"/><rect x="1073.5" y="1030.5" width="10.4" height="10.4"/><rect x="1110.5" y="1033.5" width="10.4" height="10.4"/><rect x="1068.3" y="1034.4" width="10.4" height="10.4"/><rect x="1115.7" y="1035.2" width="10.4" height="10.4"/><rect x="1063.0" y="1035.4" width="10.4" height="10.4"/><rect x="1121.0" y="1036.4" width="10.4" height="10.4"/><rect x="1094.2" y="1039.1" width="10.4" height="10.4"/><rect x="1089.8" y="1039.3" width="10.4" height="10.4"/><rect x="1098.7" y="1039.9" width="10.4" height="10.4"/><rect x="1085.3" y="1040.8" width="10.4" height="10.4"/><rect x="1103.2" y="1041.1" width="10.4" height="10.4"/><rect x="1080.8" y="1042.3" width="10.4" height="10.4"/><rect x="1107.6" y="1042.5" width="10.4" height="10.4"/><rect x="1076.4" y="1043.1" width="10.4" height="10.4"/><rect x="1112.1" y="1043.8" width="10.4" height="10.4"/><rect x="1071.9" y="1044.1" width="10.4" height="10.4"/><rect x="1116.5" y="1045.5" width="10.4" height="10.4"/><rect x="1067.5" y="1045.6" width="10.4" height="10.4"/><rect x="1121.0" y="1045.8" width="10.4" height="10.4"/><rect x="1063.0" y="1049.5" width="10.4" height="10.4"/><rect x="1092.0" y="1052.6" width="10.4" height="10.4"/><rect x="1084.8" y="1053.2" width="10.4" height="10.4"/><rect x="1099.2" y="1054.3" width="10.4" height="10.4"/><rect x="1077.5" y="1057.4" width="10.4" height="10.4"/><rect x="1106.5" y="1057.9" width="10.4" height="10.4"/><rect x="1070.2" y="1058.2" width="10.4" height="10.4"/></g>
<line x1="736.7" y1="1038.7" x2="809.7" y2="1038.7" stroke="#000" stroke-width="3.6" stroke-linecap="butt"/>
<line x1="844.3" y1="1031.8" x2="917.3" y2="1031.8" stroke="#000" stroke-width="3.6" stroke-linecap="butt"/>
<line x1="952.5" y1="1030.1" x2="1025.5" y2="1030.1" stroke="#000" stroke-width="3.6" stroke-linecap="butt"/>
<line x1="1060.7" y1="986.8" x2="1133.7" y2="986.8" stroke="#000" stroke-width="3.6" stroke-linecap="butt"/>
<path d="M719.0,692.5 H1151.9 V1125.3 H719.0 Z" fill="none" stroke="#000" stroke-width="3.6" stroke-linejoin="round"/>
<line x1="708.9" y1="1125.3" x2="719.0" y2="1125.3" stroke="#000" stroke-width="3.4" stroke-linecap="round"/>
<line x1="709.0" y1="1125.3" x2="719.0" y2="1125.3" stroke="#000" stroke-width="3.4" stroke-linecap="round"/>
<text x="706.2" y="1133.3" font-size="23.5" text-anchor="end" font-weight="bold" font-family="'Liberation Sans', Arial, sans-serif" >0</text>
<line x1="709.0" y1="1038.7" x2="719.0" y2="1038.7" stroke="#000" stroke-width="3.4" stroke-linecap="round"/>
<text x="706.2" y="1046.7" font-size="23.5" text-anchor="end" font-weight="bold" font-family="'Liberation Sans', Arial, sans-serif" >1</text>
<line x1="709.0" y1="952.2" x2="719.0" y2="952.2" stroke="#000" stroke-width="3.4" stroke-linecap="round"/>
<text x="706.2" y="960.2" font-size="23.5" text-anchor="end" font-weight="bold" font-family="'Liberation Sans', Arial, sans-serif" >2</text>
<line x1="709.0" y1="865.6" x2="719.0" y2="865.6" stroke="#000" stroke-width="3.4" stroke-linecap="round"/>
<text x="706.2" y="873.6" font-size="23.5" text-anchor="end" font-weight="bold" font-family="'Liberation Sans', Arial, sans-serif" >3</text>
<line x1="709.0" y1="779.1" x2="719.0" y2="779.1" stroke="#000" stroke-width="3.4" stroke-linecap="round"/>
<text x="706.2" y="787.1" font-size="23.5" text-anchor="end" font-weight="bold" font-family="'Liberation Sans', Arial, sans-serif" >4</text>
<line x1="709.0" y1="692.5" x2="719.0" y2="692.5" stroke="#000" stroke-width="3.4" stroke-linecap="round"/>
<text x="706.2" y="700.5" font-size="23.5" text-anchor="end" font-weight="bold" font-family="'Liberation Sans', Arial, sans-serif" >5</text>
<line x1="773.2" y1="1110.9" x2="773.2" y2="1140.0" stroke="#000" stroke-width="3.4" stroke-linecap="round"/>
<line x1="880.8" y1="1110.9" x2="880.8" y2="1140.0" stroke="#000" stroke-width="3.4" stroke-linecap="round"/>
<line x1="989.0" y1="1110.9" x2="989.0" y2="1140.0" stroke="#000" stroke-width="3.4" stroke-linecap="round"/>
<line x1="1097.2" y1="1110.9" x2="1097.2" y2="1140.0" stroke="#000" stroke-width="3.4" stroke-linecap="round"/>
<line x1="771.0" y1="750.6" x2="983.0" y2="750.6" stroke="#000" stroke-width="3.4" stroke-linecap="round"/>
<line x1="993.6" y1="750.6" x2="1098.3" y2="750.6" stroke="#000" stroke-width="3.4" stroke-linecap="round"/>
<line x1="771.0" y1="798.3" x2="875.9" y2="798.3" stroke="#000" stroke-width="3.4" stroke-linecap="round"/>
<line x1="888.3" y1="798.3" x2="1100.2" y2="798.3" stroke="#000" stroke-width="3.4" stroke-linecap="round"/>
<text x="882.8" y="743.6" font-size="23.5" text-anchor="middle" font-weight="normal" font-family="'Liberation Serif', 'Times New Roman', serif" >NS</text>
<text x="825.2" y="792.0" font-size="23.5" text-anchor="middle" font-weight="normal" font-family="'Liberation Serif', 'Times New Roman', serif" >NS</text>
<text x="1047.0" y="739.6" font-size="18.6" text-anchor="middle" font-weight="normal" font-family="'Liberation Sans', Arial, sans-serif" >@@@</text>
<text x="987.0" y="788.0" font-size="18.6" text-anchor="middle" font-weight="normal" font-family="'Liberation Sans', Arial, sans-serif" >@@@</text>
<text transform="translate(673.9,907.4) rotate(-90)" x="0" y="0" font-size="36.5" text-anchor="middle" font-family="'Liberation Sans', Arial, sans-serif" >NRVCs size (F/C)</text>
<text x="719.2" y="1179.1" font-size="29.5" text-anchor="end" font-weight="normal" font-family="'Liberation Sans', Arial, sans-serif" >OA 1nM</text>
<text x="719.2" y="1214.0" font-size="29.5" text-anchor="end" font-weight="normal" font-family="'Liberation Sans', Arial, sans-serif" >PE 1<tspan font-family="Liberation Serif" font-size="32">μ</tspan>M</text>
<text x="773.2" y="1181.2" font-size="34" text-anchor="middle" font-weight="normal" font-family="'Liberation Sans', Arial, sans-serif" >-</text>
<text x="880.8" y="1181.2" font-size="34" text-anchor="middle" font-weight="normal" font-family="'Liberation Sans', Arial, sans-serif" >-</text>
<text x="989.0" y="1180.1" font-size="34" text-anchor="middle" font-weight="normal" font-family="'Liberation Sans', Arial, sans-serif" >+</text>
<text x="1097.2" y="1180.1" font-size="34" text-anchor="middle" font-weight="normal" font-family="'Liberation Sans', Arial, sans-serif" >+</text>
<text x="773.2" y="1213.6" font-size="34" text-anchor="middle" font-weight="normal" font-family="'Liberation Sans', Arial, sans-serif" >-</text>
<text x="880.8" y="1214.1" font-size="34" text-anchor="middle" font-weight="normal" font-family="'Liberation Sans', Arial, sans-serif" >+</text>
<text x="989.0" y="1213.6" font-size="34" text-anchor="middle" font-weight="normal" font-family="'Liberation Sans', Arial, sans-serif" >-</text>
<text x="1097.2" y="1214.1" font-size="34" text-anchor="middle" font-weight="normal" font-family="'Liberation Sans', Arial, sans-serif" >+</text>
<text x="1204.9" y="679.8" font-size="62" text-anchor="start" font-weight="normal" font-family="'Liberation Sans', Arial, sans-serif" >F</text>
<g fill="#a3a3a6"><circle cx="1364.5" cy="949.9" r="4.80"/><circle cx="1350.0" cy="958.5" r="4.80"/><circle cx="1379.0" cy="961.8" r="4.80"/><circle cx="1364.5" cy="961.9" r="4.80"/><circle cx="1379.0" cy="966.1" r="4.80"/><circle cx="1350.0" cy="967.5" r="4.80"/><circle cx="1393.5" cy="969.0" r="4.80"/><circle cx="1364.5" cy="976.4" r="4.80"/><circle cx="1357.2" cy="979.5" r="4.80"/><circle cx="1371.8" cy="982.4" r="4.80"/><circle cx="1350.0" cy="984.7" r="4.80"/><circle cx="1379.0" cy="984.9" r="4.80"/><circle cx="1342.8" cy="988.4" r="4.80"/><circle cx="1364.5" cy="991.5" r="4.80"/><circle cx="1371.8" cy="992.2" r="4.80"/><circle cx="1357.2" cy="994.2" r="4.80"/><circle cx="1379.0" cy="995.5" r="4.80"/><circle cx="1350.0" cy="996.6" r="4.80"/><circle cx="1386.2" cy="996.7" r="4.80"/><circle cx="1342.8" cy="997.3" r="4.80"/><circle cx="1393.5" cy="997.3" r="4.80"/><circle cx="1335.5" cy="1002.0" r="4.80"/><circle cx="1362.8" cy="1004.0" r="4.80"/><circle cx="1366.2" cy="1005.0" r="4.80"/><circle cx="1359.4" cy="1005.8" r="4.80"/><circle cx="1369.6" cy="1006.7" r="4.80"/><circle cx="1356.0" cy="1006.7" r="4.80"/><circle cx="1373.0" cy="1008.4" r="4.80"/><circle cx="1352.6" cy="1008.4" r="4.80"/><circle cx="1376.4" cy="1008.8" r="4.80"/><circle cx="1349.1" cy="1009.9" r="4.80"/><circle cx="1379.9" cy="1009.9" r="4.80"/><circle cx="1345.7" cy="1010.6" r="4.80"/><circle cx="1383.3" cy="1012.0" r="4.80"/><circle cx="1342.3" cy="1012.7" r="4.80"/><circle cx="1386.7" cy="1013.2" r="4.80"/><circle cx="1338.9" cy="1013.9" r="4.80"/><circle cx="1390.1" cy="1014.9" r="4.80"/><circle cx="1335.5" cy="1015.3" r="4.80"/><circle cx="1393.5" cy="1015.4" r="4.80"/><circle cx="1364.5" cy="1016.8" r="4.80"/><circle cx="1371.8" cy="1017.1" r="4.80"/><circle cx="1357.2" cy="1019.2" r="4.80"/><circle cx="1379.0" cy="1020.1" r="4.80"/><circle cx="1350.0" cy="1022.5" r="4.80"/><circle cx="1386.2" cy="1024.2" r="4.80"/><circle cx="1342.8" cy="1026.4" r="4.80"/><circle cx="1393.5" cy="1027.7" r="4.80"/><circle cx="1361.3" cy="1029.3" r="4.80"/><circle cx="1367.7" cy="1030.3" r="4.80"/><circle cx="1354.8" cy="1030.6" r="4.80"/><circle cx="1374.2" cy="1032.4" r="4.80"/><circle cx="1348.4" cy="1034.1" r="4.80"/><circle cx="1380.6" cy="1034.3" r="4.80"/><circle cx="1341.9" cy="1035.2" r="4.80"/><circle cx="1387.1" cy="1035.3" r="4.80"/><circle cx="1335.5" cy="1038.2" r="4.80"/><circle cx="1393.5" cy="1040.8" r="4.80"/><circle cx="1367.1" cy="1042.7" r="4.80"/><circle cx="1361.9" cy="1044.0" r="4.80"/><circle cx="1372.4" cy="1044.9" r="4.80"/><circle cx="1356.6" cy="1045.1" r="4.80"/><circle cx="1377.7" cy="1047.9" r="4.80"/><circle cx="1351.3" cy="1049.0" r="4.80"/><circle cx="1383.0" cy="1049.5" r="4.80"/><circle cx="1346.0" cy="1049.5" r="4.80"/><circle cx="1388.2" cy="1053.5" r="4.80"/><circle cx="1340.8" cy="1053.5" r="4.80"/><circle cx="1393.5" cy="1054.1" r="4.80"/><circle cx="1335.5" cy="1054.3" r="4.80"/><circle cx="1364.5" cy="1055.8" r="4.80"/><circle cx="1358.7" cy="1057.0" r="4.80"/><circle cx="1370.3" cy="1057.8" r="4.80"/><circle cx="1352.9" cy="1058.6" r="4.80"/><circle cx="1376.1" cy="1059.9" r="4.80"/><circle cx="1347.1" cy="1060.9" r="4.80"/><circle cx="1381.9" cy="1061.4" r="4.80"/><circle cx="1341.3" cy="1064.5" r="4.80"/><circle cx="1387.7" cy="1064.7" r="4.80"/><circle cx="1335.5" cy="1066.8" r="4.80"/><circle cx="1393.5" cy="1066.9" r="4.80"/><circle cx="1366.7" cy="1073.4" r="4.80"/><circle cx="1362.3" cy="1074.0" r="4.80"/><circle cx="1371.2" cy="1074.6" r="4.80"/><circle cx="1357.8" cy="1075.1" r="4.80"/><circle cx="1375.7" cy="1075.6" r="4.80"/><circle cx="1353.3" cy="1076.4" r="4.80"/><circle cx="1380.1" cy="1076.6" r="4.80"/><circle cx="1348.9" cy="1077.7" r="4.80"/><circle cx="1384.6" cy="1078.4" r="4.80"/><circle cx="1344.4" cy="1078.7" r="4.80"/><circle cx="1389.0" cy="1078.8" r="4.80"/><circle cx="1340.0" cy="1080.4" r="4.80"/><circle cx="1393.5" cy="1080.9" r="4.80"/><circle cx="1335.5" cy="1084.3" r="4.80"/><circle cx="1364.5" cy="1087.1" r="4.80"/><circle cx="1350.0" cy="1087.4" r="4.80"/></g>
<g fill="#c58f49"><circle cx="1472.5" cy="893.2" r="4.80"/><circle cx="1472.5" cy="928.4" r="4.80"/><circle cx="1487.0" cy="929.6" r="4.80"/><circle cx="1458.0" cy="938.8" r="4.80"/><circle cx="1472.5" cy="940.9" r="4.80"/><circle cx="1458.0" cy="941.4" r="4.80"/><circle cx="1487.0" cy="946.3" r="4.80"/><circle cx="1443.5" cy="949.1" r="4.80"/><circle cx="1501.5" cy="950.7" r="4.80"/><circle cx="1472.5" cy="954.1" r="4.80"/><circle cx="1477.3" cy="954.4" r="4.80"/><circle cx="1467.7" cy="954.8" r="4.80"/><circle cx="1482.2" cy="956.2" r="4.80"/><circle cx="1462.8" cy="956.2" r="4.80"/><circle cx="1487.0" cy="957.9" r="4.80"/><circle cx="1458.0" cy="957.9" r="4.80"/><circle cx="1491.8" cy="957.9" r="4.80"/><circle cx="1453.2" cy="962.2" r="4.80"/><circle cx="1496.7" cy="962.3" r="4.80"/><circle cx="1448.3" cy="962.7" r="4.80"/><circle cx="1501.5" cy="963.6" r="4.80"/><circle cx="1443.5" cy="963.9" r="4.80"/><circle cx="1472.5" cy="967.2" r="4.80"/><circle cx="1468.4" cy="967.4" r="4.80"/><circle cx="1476.6" cy="967.9" r="4.80"/><circle cx="1464.2" cy="967.9" r="4.80"/><circle cx="1480.8" cy="968.4" r="4.80"/><circle cx="1460.1" cy="969.9" r="4.80"/><circle cx="1484.9" cy="971.5" r="4.80"/><circle cx="1455.9" cy="971.5" r="4.80"/><circle cx="1489.1" cy="972.4" r="4.80"/><circle cx="1451.8" cy="973.5" r="4.80"/><circle cx="1493.2" cy="974.4" r="4.80"/><circle cx="1447.6" cy="974.8" r="4.80"/><circle cx="1497.4" cy="974.9" r="4.80"/><circle cx="1443.5" cy="976.0" r="4.80"/><circle cx="1501.5" cy="976.9" r="4.80"/><circle cx="1474.7" cy="979.5" r="4.80"/><circle cx="1470.3" cy="980.9" r="4.80"/><circle cx="1479.2" cy="982.0" r="4.80"/><circle cx="1465.8" cy="982.5" r="4.80"/><circle cx="1483.7" cy="983.0" r="4.80"/><circle cx="1461.3" cy="983.7" r="4.80"/><circle cx="1488.1" cy="983.8" r="4.80"/><circle cx="1456.9" cy="984.4" r="4.80"/><circle cx="1492.6" cy="985.9" r="4.80"/><circle cx="1452.4" cy="986.5" r="4.80"/><circle cx="1497.0" cy="986.8" r="4.80"/><circle cx="1448.0" cy="986.9" r="4.80"/><circle cx="1501.5" cy="988.8" r="4.80"/><circle cx="1443.5" cy="990.1" r="4.80"/><circle cx="1472.5" cy="993.0" r="4.80"/><circle cx="1468.4" cy="993.7" r="4.80"/><circle cx="1476.6" cy="994.9" r="4.80"/><circle cx="1464.2" cy="995.3" r="4.80"/><circle cx="1480.8" cy="995.9" r="4.80"/><circle cx="1460.1" cy="996.3" r="4.80"/><circle cx="1484.9" cy="996.5" r="4.80"/><circle cx="1455.9" cy="998.4" r="4.80"/><circle cx="1489.1" cy="999.1" r="4.80"/><circle cx="1451.8" cy="1000.4" r="4.80"/><circle cx="1493.2" cy="1001.8" r="4.80"/><circle cx="1447.6" cy="1002.5" r="4.80"/><circle cx="1497.4" cy="1002.8" r="4.80"/><circle cx="1443.5" cy="1003.0" r="4.80"/><circle cx="1501.5" cy="1004.2" r="4.80"/><circle cx="1475.7" cy="1006.3" r="4.80"/><circle cx="1469.3" cy="1007.7" r="4.80"/><circle cx="1482.2" cy="1007.8" r="4.80"/><circle cx="1462.8" cy="1010.5" r="4.80"/><circle cx="1488.6" cy="1010.7" r="4.80"/><circle cx="1456.4" cy="1014.3" r="4.80"/><circle cx="1495.1" cy="1014.5" r="4.80"/><circle cx="1449.9" cy="1015.0" r="4.80"/><circle cx="1501.5" cy="1016.7" r="4.80"/><circle cx="1443.5" cy="1016.8" r="4.80"/><circle cx="1470.3" cy="1019.0" r="4.80"/><circle cx="1474.7" cy="1019.2" r="4.80"/><circle cx="1465.8" cy="1021.3" r="4.80"/><circle cx="1479.2" cy="1022.3" r="4.80"/><circle cx="1461.3" cy="1023.5" r="4.80"/><circle cx="1483.7" cy="1026.9" r="4.80"/><circle cx="1456.9" cy="1026.9" r="4.80"/><circle cx="1488.1" cy="1027.5" r="4.80"/><circle cx="1452.4" cy="1027.7" r="4.80"/><circle cx="1492.6" cy="1028.1" r="4.80"/><circle cx="1448.0" cy="1029.8" r="4.80"/><circle cx="1497.0" cy="1029.9" r="4.80"/><circle cx="1443.5" cy="1030.4" r="4.80"/><circle cx="1501.5" cy="1030.5" r="4.80"/><circle cx="1472.5" cy="1034.1" r="4.80"/><circle cx="1477.3" cy="1034.6" r="4.80"/><circle cx="1467.7" cy="1034.7" r="4.80"/><circle cx="1482.2" cy="1035.2" r="4.80"/><circle cx="1462.8" cy="1036.9" r="4.80"/><circle cx="1487.0" cy="1037.1" r="4.80"/><circle cx="1458.0" cy="1037.2" r="4.80"/><circle cx="1491.8" cy="1038.2" r="4.80"/><circle cx="1453.2" cy="1038.8" r="4.80"/><circle cx="1496.7" cy="1039.9" r="4.80"/><circle cx="1448.3" cy="1041.5" r="4.80"/><circle cx="1501.5" cy="1043.0" r="4.80"/><circle cx="1443.5" cy="1044.8" r="4.80"/><circle cx="1472.5" cy="1048.4" r="4.80"/><circle cx="1469.9" cy="1049.0" r="4.80"/><circle cx="1475.1" cy="1049.0" r="4.80"/><circle cx="1467.2" cy="1049.0" r="4.80"/><circle cx="1477.8" cy="1050.2" r="4.80"/><circle cx="1464.6" cy="1051.2" r="4.80"/><circle cx="1480.4" cy="1052.4" r="4.80"/><circle cx="1462.0" cy="1052.6" r="4.80"/><circle cx="1483.0" cy="1052.6" r="4.80"/><circle cx="1459.3" cy="1052.7" r="4.80"/><circle cx="1485.7" cy="1053.2" r="4.80"/><circle cx="1456.7" cy="1053.3" r="4.80"/><circle cx="1488.3" cy="1053.6" r="4.80"/><circle cx="1454.0" cy="1053.8" r="4.80"/><circle cx="1491.0" cy="1054.6" r="4.80"/><circle cx="1451.4" cy="1056.2" r="4.80"/><circle cx="1493.6" cy="1056.6" r="4.80"/><circle cx="1448.8" cy="1056.8" r="4.80"/><circle cx="1496.2" cy="1058.4" r="4.80"/><circle cx="1446.1" cy="1058.5" r="4.80"/><circle cx="1498.9" cy="1058.7" r="4.80"/><circle cx="1443.5" cy="1058.7" r="4.80"/><circle cx="1501.5" cy="1059.3" r="4.80"/><circle cx="1472.5" cy="1061.5" r="4.80"/><circle cx="1476.6" cy="1062.3" r="4.80"/><circle cx="1468.4" cy="1064.1" r="4.80"/><circle cx="1480.8" cy="1064.7" r="4.80"/><circle cx="1464.2" cy="1065.0" r="4.80"/><circle cx="1484.9" cy="1065.1" r="4.80"/><circle cx="1460.1" cy="1065.7" r="4.80"/><circle cx="1489.1" cy="1067.1" r="4.80"/><circle cx="1455.9" cy="1068.0" r="4.80"/><circle cx="1493.2" cy="1068.3" r="4.80"/><circle cx="1451.8" cy="1070.1" r="4.80"/><circle cx="1497.4" cy="1070.3" r="4.80"/><circle cx="1447.6" cy="1070.4" r="4.80"/><circle cx="1501.5" cy="1071.2" r="4.80"/><circle cx="1443.5" cy="1072.5" r="4.80"/><circle cx="1472.5" cy="1074.9" r="4.80"/><circle cx="1465.2" cy="1075.4" r="4.80"/><circle cx="1479.8" cy="1078.6" r="4.80"/><circle cx="1458.0" cy="1079.8" r="4.80"/><circle cx="1487.0" cy="1080.4" r="4.80"/><circle cx="1450.8" cy="1083.7" r="4.80"/><circle cx="1472.5" cy="1087.0" r="4.80"/><circle cx="1487.0" cy="1087.9" r="4.80"/><circle cx="1458.0" cy="1088.1" r="4.80"/><circle cx="1501.5" cy="1088.2" r="4.80"/><circle cx="1443.5" cy="1089.6" r="4.80"/></g>
<g fill="#dc88f6"><rect x="1575.5" y="827.3" width="10.0" height="10.0"/><rect x="1561.0" y="835.3" width="10.0" height="10.0"/><rect x="1590.0" y="837.7" width="10.0" height="10.0"/><rect x="1575.5" y="858.6" width="10.0" height="10.0"/><rect x="1575.5" y="871.0" width="10.0" height="10.0"/><rect x="1561.0" y="881.3" width="10.0" height="10.0"/><rect x="1575.5" y="898.0" width="10.0" height="10.0"/><rect x="1590.0" y="898.8" width="10.0" height="10.0"/><rect x="1561.0" y="908.2" width="10.0" height="10.0"/><rect x="1575.5" y="915.6" width="10.0" height="10.0"/><rect x="1568.2" y="918.1" width="10.0" height="10.0"/><rect x="1582.8" y="923.1" width="10.0" height="10.0"/><rect x="1561.0" y="925.2" width="10.0" height="10.0"/><rect x="1590.0" y="926.5" width="10.0" height="10.0"/><rect x="1553.8" y="927.2" width="10.0" height="10.0"/><rect x="1575.5" y="930.2" width="10.0" height="10.0"/><rect x="1590.0" y="935.5" width="10.0" height="10.0"/><rect x="1561.0" y="936.0" width="10.0" height="10.0"/><rect x="1604.5" y="936.3" width="10.0" height="10.0"/><rect x="1575.5" y="943.5" width="10.0" height="10.0"/><rect x="1568.2" y="943.7" width="10.0" height="10.0"/><rect x="1582.8" y="945.7" width="10.0" height="10.0"/><rect x="1561.0" y="947.4" width="10.0" height="10.0"/><rect x="1590.0" y="950.5" width="10.0" height="10.0"/><rect x="1553.8" y="952.5" width="10.0" height="10.0"/><rect x="1597.2" y="953.8" width="10.0" height="10.0"/><rect x="1546.5" y="955.1" width="10.0" height="10.0"/><rect x="1604.5" y="955.3" width="10.0" height="10.0"/><rect x="1575.5" y="956.7" width="10.0" height="10.0"/><rect x="1580.3" y="957.2" width="10.0" height="10.0"/><rect x="1570.7" y="958.0" width="10.0" height="10.0"/><rect x="1585.2" y="958.3" width="10.0" height="10.0"/><rect x="1565.8" y="959.0" width="10.0" height="10.0"/><rect x="1590.0" y="959.0" width="10.0" height="10.0"/><rect x="1561.0" y="962.8" width="10.0" height="10.0"/><rect x="1594.8" y="962.8" width="10.0" height="10.0"/><rect x="1556.2" y="963.0" width="10.0" height="10.0"/><rect x="1599.7" y="963.4" width="10.0" height="10.0"/><rect x="1551.3" y="963.9" width="10.0" height="10.0"/><rect x="1604.5" y="965.9" width="10.0" height="10.0"/><rect x="1546.5" y="967.8" width="10.0" height="10.0"/><rect x="1575.5" y="970.4" width="10.0" height="10.0"/><rect x="1571.9" y="970.5" width="10.0" height="10.0"/><rect x="1579.1" y="970.5" width="10.0" height="10.0"/><rect x="1568.2" y="971.3" width="10.0" height="10.0"/><rect x="1582.8" y="971.5" width="10.0" height="10.0"/><rect x="1564.6" y="971.6" width="10.0" height="10.0"/><rect x="1586.4" y="971.9" width="10.0" height="10.0"/><rect x="1561.0" y="972.1" width="10.0" height="10.0"/><rect x="1590.0" y="972.5" width="10.0" height="10.0"/><rect x="1557.4" y="975.9" width="10.0" height="10.0"/><rect x="1593.6" y="976.0" width="10.0" height="10.0"/><rect x="1553.8" y="977.1" width="10.0" height="10.0"/><rect x="1597.2" y="978.5" width="10.0" height="10.0"/><rect x="1550.1" y="978.9" width="10.0" height="10.0"/><rect x="1600.9" y="979.3" width="10.0" height="10.0"/><rect x="1546.5" y="979.7" width="10.0" height="10.0"/><rect x="1604.5" y="981.5" width="10.0" height="10.0"/><rect x="1575.5" y="983.1" width="10.0" height="10.0"/><rect x="1579.6" y="984.9" width="10.0" height="10.0"/><rect x="1571.4" y="986.0" width="10.0" height="10.0"/><rect x="1583.8" y="986.5" width="10.0" height="10.0"/><rect x="1567.2" y="986.7" width="10.0" height="10.0"/><rect x="1587.9" y="987.2" width="10.0" height="10.0"/><rect x="1563.1" y="987.4" width="10.0" height="10.0"/><rect x="1592.1" y="989.0" width="10.0" height="10.0"/><rect x="1558.9" y="989.0" width="10.0" height="10.0"/><rect x="1596.2" y="992.2" width="10.0" height="10.0"/><rect x="1554.8" y="992.5" width="10.0" height="10.0"/><rect x="1600.4" y="992.9" width="10.0" height="10.0"/><rect x="1550.6" y="993.1" width="10.0" height="10.0"/><rect x="1604.5" y="993.4" width="10.0" height="10.0"/><rect x="1546.5" y="994.3" width="10.0" height="10.0"/><rect x="1574.1" y="996.4" width="10.0" height="10.0"/><rect x="1576.9" y="996.5" width="10.0" height="10.0"/><rect x="1571.4" y="997.7" width="10.0" height="10.0"/><rect x="1579.6" y="998.1" width="10.0" height="10.0"/><rect x="1568.6" y="998.2" width="10.0" height="10.0"/><rect x="1582.4" y="998.5" width="10.0" height="10.0"/><rect x="1565.8" y="998.6" width="10.0" height="10.0"/><rect x="1585.2" y="998.8" width="10.0" height="10.0"/><rect x="1563.1" y="999.4" width="10.0" height="10.0"/><rect x="1587.9" y="999.8" width="10.0" height="10.0"/><rect x="1560.3" y="1000.5" width="10.0" height="10.0"/><rect x="1590.7" y="1000.6" width="10.0" height="10.0"/><rect x="1557.5" y="1000.6" width="10.0" height="10.0"/><rect x="1593.5" y="1001.2" width="10.0" height="10.0"/><rect x="1554.8" y="1001.5" width="10.0" height="10.0"/><rect x="1596.2" y="1001.6" width="10.0" height="10.0"/><rect x="1552.0" y="1001.7" width="10.0" height="10.0"/><rect x="1599.0" y="1001.8" width="10.0" height="10.0"/><rect x="1549.3" y="1003.4" width="10.0" height="10.0"/><rect x="1601.7" y="1004.5" width="10.0" height="10.0"/><rect x="1546.5" y="1007.7" width="10.0" height="10.0"/><rect x="1604.5" y="1008.2" width="10.0" height="10.0"/><rect x="1577.4" y="1009.4" width="10.0" height="10.0"/><rect x="1573.6" y="1010.9" width="10.0" height="10.0"/><rect x="1581.3" y="1012.6" width="10.0" height="10.0"/><rect x="1569.7" y="1013.8" width="10.0" height="10.0"/><rect x="1585.2" y="1013.9" width="10.0" height="10.0"/><rect x="1565.8" y="1014.6" width="10.0" height="10.0"/><rect x="1589.0" y="1014.6" width="10.0" height="10.0"/><rect x="1562.0" y="1015.3" width="10.0" height="10.0"/><rect x="1592.9" y="1015.4" width="10.0" height="10.0"/><rect x="1558.1" y="1017.5" width="10.0" height="10.0"/><rect x="1596.8" y="1017.5" width="10.0" height="10.0"/><rect x="1554.2" y="1017.8" width="10.0" height="10.0"/><rect x="1600.6" y="1019.1" width="10.0" height="10.0"/><rect x="1550.4" y="1019.2" width="10.0" height="10.0"/><rect x="1604.5" y="1020.9" width="10.0" height="10.0"/><rect x="1546.5" y="1021.2" width="10.0" height="10.0"/><rect x="1574.0" y="1021.9" width="10.0" height="10.0"/><rect x="1577.0" y="1022.2" width="10.0" height="10.0"/><rect x="1570.9" y="1023.1" width="10.0" height="10.0"/><rect x="1580.1" y="1023.9" width="10.0" height="10.0"/><rect x="1567.9" y="1025.9" width="10.0" height="10.0"/><rect x="1583.1" y="1026.1" width="10.0" height="10.0"/><rect x="1564.8" y="1026.6" width="10.0" height="10.0"/><rect x="1586.2" y="1026.8" width="10.0" height="10.0"/><rect x="1561.8" y="1027.0" width="10.0" height="10.0"/><rect x="1589.2" y="1027.3" width="10.0" height="10.0"/><rect x="1558.7" y="1027.8" width="10.0" height="10.0"/><rect x="1592.3" y="1028.3" width="10.0" height="10.0"/><rect x="1555.7" y="1029.5" width="10.0" height="10.0"/><rect x="1595.3" y="1030.1" width="10.0" height="10.0"/><rect x="1552.6" y="1030.2" width="10.0" height="10.0"/><rect x="1598.4" y="1030.6" width="10.0" height="10.0"/><rect x="1549.6" y="1031.9" width="10.0" height="10.0"/><rect x="1601.4" y="1032.4" width="10.0" height="10.0"/><rect x="1546.5" y="1032.5" width="10.0" height="10.0"/><rect x="1604.5" y="1032.9" width="10.0" height="10.0"/><rect x="1575.5" y="1035.6" width="10.0" height="10.0"/><rect x="1582.8" y="1038.0" width="10.0" height="10.0"/><rect x="1568.2" y="1038.9" width="10.0" height="10.0"/><rect x="1590.0" y="1039.8" width="10.0" height="10.0"/><rect x="1561.0" y="1041.1" width="10.0" height="10.0"/><rect x="1597.2" y="1044.7" width="10.0" height="10.0"/><rect x="1553.8" y="1045.1" width="10.0" height="10.0"/><rect x="1604.5" y="1046.7" width="10.0" height="10.0"/><rect x="1546.5" y="1047.1" width="10.0" height="10.0"/><rect x="1574.3" y="1047.8" width="10.0" height="10.0"/><rect x="1576.7" y="1048.0" width="10.0" height="10.0"/><rect x="1572.0" y="1048.4" width="10.0" height="10.0"/><rect x="1579.0" y="1048.9" width="10.0" height="10.0"/><rect x="1569.7" y="1049.6" width="10.0" height="10.0"/><rect x="1581.3" y="1050.1" width="10.0" height="10.0"/><rect x="1567.4" y="1050.2" width="10.0" height="10.0"/><rect x="1583.6" y="1050.2" width="10.0" height="10.0"/><rect x="1565.1" y="1050.5" width="10.0" height="10.0"/><rect x="1585.9" y="1050.6" width="10.0" height="10.0"/><rect x="1562.7" y="1051.9" width="10.0" height="10.0"/><rect x="1588.3" y="1052.6" width="10.0" height="10.0"/><rect x="1560.4" y="1053.4" width="10.0" height="10.0"/><rect x="1590.6" y="1053.5" width="10.0" height="10.0"/><rect x="1558.1" y="1053.8" width="10.0" height="10.0"/><rect x="1592.9" y="1053.9" width="10.0" height="10.0"/><rect x="1555.8" y="1054.4" width="10.0" height="10.0"/><rect x="1595.2" y="1054.8" width="10.0" height="10.0"/><rect x="1553.5" y="1056.4" width="10.0" height="10.0"/><rect x="1597.5" y="1057.1" width="10.0" height="10.0"/><rect x="1551.1" y="1057.2" width="10.0" height="10.0"/><rect x="1599.9" y="1057.6" width="10.0" height="10.0"/><rect x="1548.8" y="1058.6" width="10.0" height="10.0"/><rect x="1602.2" y="1059.1" width="10.0" height="10.0"/><rect x="1546.5" y="1059.5" width="10.0" height="10.0"/><rect x="1604.5" y="1059.7" width="10.0" height="10.0"/><rect x="1575.5" y="1060.2" width="10.0" height="10.0"/><rect x="1582.8" y="1061.9" width="10.0" height="10.0"/><rect x="1568.2" y="1063.0" width="10.0" height="10.0"/><rect x="1590.0" y="1064.5" width="10.0" height="10.0"/><rect x="1561.0" y="1068.6" width="10.0" height="10.0"/><rect x="1597.2" y="1069.5" width="10.0" height="10.0"/><rect x="1553.8" y="1071.3" width="10.0" height="10.0"/><rect x="1573.3" y="1074.0" width="10.0" height="10.0"/><rect x="1577.7" y="1075.0" width="10.0" height="10.0"/><rect x="1568.8" y="1075.4" width="10.0" height="10.0"/><rect x="1582.2" y="1075.9" width="10.0" height="10.0"/><rect x="1564.3" y="1076.1" width="10.0" height="10.0"/><rect x="1586.7" y="1077.3" width="10.0" height="10.0"/><rect x="1559.9" y="1077.5" width="10.0" height="10.0"/><rect x="1591.1" y="1078.2" width="10.0" height="10.0"/><rect x="1555.4" y="1079.4" width="10.0" height="10.0"/><rect x="1595.6" y="1080.2" width="10.0" height="10.0"/><rect x="1551.0" y="1080.4" width="10.0" height="10.0"/><rect x="1600.0" y="1082.2" width="10.0" height="10.0"/><rect x="1546.5" y="1082.5" width="10.0" height="10.0"/><rect x="1604.5" y="1084.5" width="10.0" height="10.0"/><rect x="1575.5" y="1087.3" width="10.0" height="10.0"/></g>
<g fill="#730c98"><rect x="1683.5" y="781.7" width="10.0" height="10.0"/><rect x="1683.5" y="800.6" width="10.0" height="10.0"/><rect x="1683.5" y="820.7" width="10.0" height="10.0"/><rect x="1669.0" y="829.0" width="10.0" height="10.0"/><rect x="1683.5" y="838.4" width="10.0" height="10.0"/><rect x="1698.0" y="839.0" width="10.0" height="10.0"/><rect x="1669.0" y="849.5" width="10.0" height="10.0"/><rect x="1712.5" y="849.5" width="10.0" height="10.0"/><rect x="1683.5" y="851.6" width="10.0" height="10.0"/><rect x="1676.2" y="852.2" width="10.0" height="10.0"/><rect x="1690.8" y="855.2" width="10.0" height="10.0"/><rect x="1669.0" y="855.6" width="10.0" height="10.0"/><rect x="1698.0" y="859.9" width="10.0" height="10.0"/><rect x="1661.8" y="861.3" width="10.0" height="10.0"/><rect x="1683.5" y="868.2" width="10.0" height="10.0"/><rect x="1690.8" y="868.9" width="10.0" height="10.0"/><rect x="1676.2" y="870.6" width="10.0" height="10.0"/><rect x="1698.0" y="875.5" width="10.0" height="10.0"/><rect x="1669.0" y="878.0" width="10.0" height="10.0"/><rect x="1705.2" y="878.5" width="10.0" height="10.0"/><rect x="1661.8" y="878.5" width="10.0" height="10.0"/><rect x="1712.5" y="878.8" width="10.0" height="10.0"/><rect x="1683.5" y="882.0" width="10.0" height="10.0"/><rect x="1676.2" y="886.8" width="10.0" height="10.0"/><rect x="1690.8" y="887.6" width="10.0" height="10.0"/><rect x="1669.0" y="887.8" width="10.0" height="10.0"/><rect x="1698.0" y="888.8" width="10.0" height="10.0"/><rect x="1661.8" y="890.3" width="10.0" height="10.0"/><rect x="1705.2" y="891.5" width="10.0" height="10.0"/><rect x="1654.5" y="892.8" width="10.0" height="10.0"/><rect x="1712.5" y="893.3" width="10.0" height="10.0"/><rect x="1686.1" y="898.3" width="10.0" height="10.0"/><rect x="1680.9" y="898.7" width="10.0" height="10.0"/><rect x="1691.4" y="898.9" width="10.0" height="10.0"/><rect x="1675.6" y="899.5" width="10.0" height="10.0"/><rect x="1696.7" y="901.0" width="10.0" height="10.0"/><rect x="1670.3" y="901.1" width="10.0" height="10.0"/><rect x="1702.0" y="902.7" width="10.0" height="10.0"/><rect x="1665.0" y="904.5" width="10.0" height="10.0"/><rect x="1707.2" y="905.7" width="10.0" height="10.0"/><rect x="1659.8" y="905.9" width="10.0" height="10.0"/><rect x="1712.5" y="908.3" width="10.0" height="10.0"/><rect x="1654.5" y="908.3" width="10.0" height="10.0"/><rect x="1683.5" y="912.0" width="10.0" height="10.0"/><rect x="1676.2" y="914.3" width="10.0" height="10.0"/><rect x="1690.8" y="919.2" width="10.0" height="10.0"/><rect x="1669.0" y="922.4" width="10.0" height="10.0"/><rect x="1698.0" y="922.5" width="10.0" height="10.0"/><rect x="1661.8" y="924.0" width="10.0" height="10.0"/><rect x="1683.5" y="925.6" width="10.0" height="10.0"/><rect x="1687.6" y="926.8" width="10.0" height="10.0"/><rect x="1679.4" y="927.7" width="10.0" height="10.0"/><rect x="1691.8" y="928.2" width="10.0" height="10.0"/><rect x="1675.2" y="928.7" width="10.0" height="10.0"/><rect x="1695.9" y="928.8" width="10.0" height="10.0"/><rect x="1671.1" y="929.4" width="10.0" height="10.0"/><rect x="1700.1" y="929.7" width="10.0" height="10.0"/><rect x="1666.9" y="932.2" width="10.0" height="10.0"/><rect x="1704.2" y="932.7" width="10.0" height="10.0"/><rect x="1662.8" y="934.4" width="10.0" height="10.0"/><rect x="1708.4" y="934.5" width="10.0" height="10.0"/><rect x="1658.6" y="935.8" width="10.0" height="10.0"/><rect x="1712.5" y="937.1" width="10.0" height="10.0"/><rect x="1654.5" y="937.4" width="10.0" height="10.0"/><rect x="1683.5" y="937.6" width="10.0" height="10.0"/><rect x="1679.4" y="938.0" width="10.0" height="10.0"/><rect x="1687.6" y="938.0" width="10.0" height="10.0"/><rect x="1675.2" y="938.7" width="10.0" height="10.0"/><rect x="1691.8" y="938.8" width="10.0" height="10.0"/><rect x="1671.1" y="939.1" width="10.0" height="10.0"/><rect x="1695.9" y="941.6" width="10.0" height="10.0"/><rect x="1666.9" y="941.7" width="10.0" height="10.0"/><rect x="1700.1" y="943.2" width="10.0" height="10.0"/><rect x="1662.8" y="943.6" width="10.0" height="10.0"/><rect x="1704.2" y="944.8" width="10.0" height="10.0"/><rect x="1658.6" y="946.9" width="10.0" height="10.0"/><rect x="1708.4" y="947.6" width="10.0" height="10.0"/><rect x="1654.5" y="948.7" width="10.0" height="10.0"/><rect x="1712.5" y="949.2" width="10.0" height="10.0"/><rect x="1683.5" y="950.8" width="10.0" height="10.0"/><rect x="1687.6" y="951.1" width="10.0" height="10.0"/><rect x="1679.4" y="951.4" width="10.0" height="10.0"/><rect x="1691.8" y="952.3" width="10.0" height="10.0"/><rect x="1675.2" y="954.1" width="10.0" height="10.0"/><rect x="1695.9" y="955.1" width="10.0" height="10.0"/><rect x="1671.1" y="956.5" width="10.0" height="10.0"/><rect x="1700.1" y="956.7" width="10.0" height="10.0"/><rect x="1666.9" y="957.1" width="10.0" height="10.0"/><rect x="1704.2" y="957.4" width="10.0" height="10.0"/><rect x="1662.8" y="959.2" width="10.0" height="10.0"/><rect x="1708.4" y="960.3" width="10.0" height="10.0"/><rect x="1658.6" y="960.4" width="10.0" height="10.0"/><rect x="1712.5" y="961.4" width="10.0" height="10.0"/><rect x="1654.5" y="962.5" width="10.0" height="10.0"/><rect x="1680.9" y="962.8" width="10.0" height="10.0"/><rect x="1686.1" y="963.2" width="10.0" height="10.0"/><rect x="1675.6" y="967.2" width="10.0" height="10.0"/><rect x="1691.4" y="967.5" width="10.0" height="10.0"/><rect x="1670.3" y="968.7" width="10.0" height="10.0"/><rect x="1696.7" y="969.7" width="10.0" height="10.0"/><rect x="1665.0" y="970.1" width="10.0" height="10.0"/><rect x="1702.0" y="970.1" width="10.0" height="10.0"/><rect x="1659.8" y="971.0" width="10.0" height="10.0"/><rect x="1707.2" y="972.0" width="10.0" height="10.0"/><rect x="1654.5" y="972.7" width="10.0" height="10.0"/><rect x="1712.5" y="974.7" width="10.0" height="10.0"/><rect x="1683.5" y="974.9" width="10.0" height="10.0"/><rect x="1687.1" y="974.9" width="10.0" height="10.0"/><rect x="1679.9" y="975.1" width="10.0" height="10.0"/><rect x="1690.8" y="975.7" width="10.0" height="10.0"/><rect x="1676.2" y="976.0" width="10.0" height="10.0"/><rect x="1694.4" y="976.1" width="10.0" height="10.0"/><rect x="1672.6" y="977.4" width="10.0" height="10.0"/><rect x="1698.0" y="977.5" width="10.0" height="10.0"/><rect x="1669.0" y="979.1" width="10.0" height="10.0"/><rect x="1701.6" y="980.8" width="10.0" height="10.0"/><rect x="1665.4" y="981.2" width="10.0" height="10.0"/><rect x="1705.2" y="981.6" width="10.0" height="10.0"/><rect x="1661.8" y="981.8" width="10.0" height="10.0"/><rect x="1708.9" y="983.4" width="10.0" height="10.0"/><rect x="1658.1" y="983.4" width="10.0" height="10.0"/><rect x="1712.5" y="983.6" width="10.0" height="10.0"/><rect x="1654.5" y="985.4" width="10.0" height="10.0"/><rect x="1681.3" y="987.6" width="10.0" height="10.0"/><rect x="1685.7" y="987.9" width="10.0" height="10.0"/><rect x="1676.8" y="992.7" width="10.0" height="10.0"/><rect x="1690.2" y="993.1" width="10.0" height="10.0"/><rect x="1672.3" y="993.5" width="10.0" height="10.0"/><rect x="1694.7" y="994.1" width="10.0" height="10.0"/><rect x="1667.9" y="994.4" width="10.0" height="10.0"/><rect x="1699.1" y="995.1" width="10.0" height="10.0"/><rect x="1663.4" y="996.1" width="10.0" height="10.0"/><rect x="1703.6" y="996.2" width="10.0" height="10.0"/><rect x="1659.0" y="996.8" width="10.0" height="10.0"/><rect x="1708.0" y="997.6" width="10.0" height="10.0"/><rect x="1654.5" y="998.3" width="10.0" height="10.0"/><rect x="1712.5" y="999.3" width="10.0" height="10.0"/><rect x="1683.5" y="999.7" width="10.0" height="10.0"/><rect x="1688.3" y="1001.5" width="10.0" height="10.0"/><rect x="1678.7" y="1003.8" width="10.0" height="10.0"/><rect x="1693.2" y="1004.4" width="10.0" height="10.0"/><rect x="1673.8" y="1004.9" width="10.0" height="10.0"/><rect x="1698.0" y="1005.3" width="10.0" height="10.0"/><rect x="1669.0" y="1005.6" width="10.0" height="10.0"/><rect x="1702.8" y="1005.6" width="10.0" height="10.0"/><rect x="1664.2" y="1006.7" width="10.0" height="10.0"/><rect x="1707.7" y="1007.8" width="10.0" height="10.0"/><rect x="1659.3" y="1009.1" width="10.0" height="10.0"/><rect x="1712.5" y="1010.5" width="10.0" height="10.0"/><rect x="1654.5" y="1010.9" width="10.0" height="10.0"/><rect x="1683.5" y="1012.2" width="10.0" height="10.0"/><rect x="1677.7" y="1012.8" width="10.0" height="10.0"/><rect x="1689.3" y="1014.0" width="10.0" height="10.0"/><rect x="1671.9" y="1014.7" width="10.0" height="10.0"/><rect x="1695.1" y="1015.0" width="10.0" height="10.0"/><rect x="1666.1" y="1015.6" width="10.0" height="10.0"/><rect x="1700.9" y="1017.3" width="10.0" height="10.0"/><rect x="1660.3" y="1018.3" width="10.0" height="10.0"/><rect x="1706.7" y="1018.6" width="10.0" height="10.0"/><rect x="1654.5" y="1020.1" width="10.0" height="10.0"/><rect x="1712.5" y="1023.6" width="10.0" height="10.0"/><rect x="1685.4" y="1025.3" width="10.0" height="10.0"/><rect x="1681.6" y="1025.5" width="10.0" height="10.0"/><rect x="1689.3" y="1028.2" width="10.0" height="10.0"/><rect x="1677.7" y="1030.0" width="10.0" height="10.0"/><rect x="1693.2" y="1030.4" width="10.0" height="10.0"/><rect x="1673.8" y="1030.8" width="10.0" height="10.0"/><rect x="1697.0" y="1032.2" width="10.0" height="10.0"/><rect x="1670.0" y="1032.2" width="10.0" height="10.0"/><rect x="1700.9" y="1032.3" width="10.0" height="10.0"/><rect x="1666.1" y="1033.6" width="10.0" height="10.0"/><rect x="1704.8" y="1033.8" width="10.0" height="10.0"/><rect x="1662.2" y="1034.3" width="10.0" height="10.0"/><rect x="1708.6" y="1034.6" width="10.0" height="10.0"/><rect x="1658.4" y="1035.1" width="10.0" height="10.0"/><rect x="1712.5" y="1035.9" width="10.0" height="10.0"/><rect x="1654.5" y="1036.7" width="10.0" height="10.0"/><rect x="1683.5" y="1037.5" width="10.0" height="10.0"/><rect x="1678.7" y="1037.5" width="10.0" height="10.0"/><rect x="1688.3" y="1038.5" width="10.0" height="10.0"/><rect x="1673.8" y="1038.9" width="10.0" height="10.0"/><rect x="1693.2" y="1039.5" width="10.0" height="10.0"/><rect x="1669.0" y="1040.0" width="10.0" height="10.0"/><rect x="1698.0" y="1041.9" width="10.0" height="10.0"/><rect x="1664.2" y="1042.1" width="10.0" height="10.0"/><rect x="1702.8" y="1042.5" width="10.0" height="10.0"/><rect x="1659.3" y="1045.8" width="10.0" height="10.0"/><rect x="1707.7" y="1046.8" width="10.0" height="10.0"/><rect x="1654.5" y="1048.0" width="10.0" height="10.0"/><rect x="1712.5" y="1049.1" width="10.0" height="10.0"/><rect x="1683.5" y="1050.1" width="10.0" height="10.0"/><rect x="1698.0" y="1050.4" width="10.0" height="10.0"/><rect x="1669.0" y="1054.6" width="10.0" height="10.0"/><rect x="1712.5" y="1054.8" width="10.0" height="10.0"/><rect x="1654.5" y="1055.2" width="10.0" height="10.0"/></g>
<line x1="1328.0" y1="1035.7" x2="1401.0" y2="1035.7" stroke="#000" stroke-width="3.6" stroke-linecap="butt"/>
<line x1="1436.0" y1="1028.9" x2="1509.0" y2="1028.9" stroke="#000" stroke-width="3.6" stroke-linecap="butt"/>
<line x1="1544.0" y1="1021.1" x2="1617.0" y2="1021.1" stroke="#000" stroke-width="3.6" stroke-linecap="butt"/>
<line x1="1652.0" y1="982.5" x2="1725.0" y2="982.5" stroke="#000" stroke-width="3.6" stroke-linecap="butt"/>
<path d="M1311.0,692.3 H1743.6 V1121.6 H1311.0 Z" fill="none" stroke="#000" stroke-width="3.6" stroke-linejoin="round"/>
<line x1="1300.6" y1="1121.6" x2="1311.0" y2="1121.6" stroke="#000" stroke-width="3.4" stroke-linecap="round"/>
<line x1="1300.5" y1="1121.6" x2="1311.0" y2="1121.6" stroke="#000" stroke-width="3.4" stroke-linecap="round"/>
<text x="1297.6" y="1129.6" font-size="23.5" text-anchor="end" font-weight="bold" font-family="'Liberation Sans', Arial, sans-serif" >0</text>
<line x1="1300.5" y1="1035.7" x2="1311.0" y2="1035.7" stroke="#000" stroke-width="3.4" stroke-linecap="round"/>
<text x="1297.6" y="1043.7" font-size="23.5" text-anchor="end" font-weight="bold" font-family="'Liberation Sans', Arial, sans-serif" >1</text>
<line x1="1300.5" y1="949.9" x2="1311.0" y2="949.9" stroke="#000" stroke-width="3.4" stroke-linecap="round"/>
<text x="1297.6" y="957.9" font-size="23.5" text-anchor="end" font-weight="bold" font-family="'Liberation Sans', Arial, sans-serif" >2</text>
<line x1="1300.5" y1="864.0" x2="1311.0" y2="864.0" stroke="#000" stroke-width="3.4" stroke-linecap="round"/>
<text x="1297.6" y="872.0" font-size="23.5" text-anchor="end" font-weight="bold" font-family="'Liberation Sans', Arial, sans-serif" >3</text>
<line x1="1300.5" y1="778.2" x2="1311.0" y2="778.2" stroke="#000" stroke-width="3.4" stroke-linecap="round"/>
<text x="1297.6" y="786.2" font-size="23.5" text-anchor="end" font-weight="bold" font-family="'Liberation Sans', Arial, sans-serif" >4</text>
<line x1="1300.5" y1="692.3" x2="1311.0" y2="692.3" stroke="#000" stroke-width="3.4" stroke-linecap="round"/>
<text x="1297.6" y="700.3" font-size="23.5" text-anchor="end" font-weight="bold" font-family="'Liberation Sans', Arial, sans-serif" >5</text>
<line x1="1364.5" y1="1108.3" x2="1364.5" y2="1136.6" stroke="#000" stroke-width="3.4" stroke-linecap="round"/>
<line x1="1472.5" y1="1108.3" x2="1472.5" y2="1136.6" stroke="#000" stroke-width="3.4" stroke-linecap="round"/>
<line x1="1580.5" y1="1108.3" x2="1580.5" y2="1136.6" stroke="#000" stroke-width="3.4" stroke-linecap="round"/>
<line x1="1688.5" y1="1108.3" x2="1688.5" y2="1136.6" stroke="#000" stroke-width="3.4" stroke-linecap="round"/>
<line x1="1362.6" y1="749.8" x2="1575.1" y2="749.8" stroke="#000" stroke-width="3.4" stroke-linecap="round"/>
<line x1="1585.4" y1="749.8" x2="1690.6" y2="749.8" stroke="#000" stroke-width="3.4" stroke-linecap="round"/>
<line x1="1362.6" y1="797.6" x2="1467.7" y2="797.6" stroke="#000" stroke-width="3.4" stroke-linecap="round"/>
<line x1="1479.8" y1="797.6" x2="1692.4" y2="797.6" stroke="#000" stroke-width="3.4" stroke-linecap="round"/>
<text x="1469.3" y="743.8" font-size="24" text-anchor="middle" font-family="'IPAGothic', 'Liberation Serif', serif" letter-spacing="0">*</text>
<text x="1638.4" y="739.7" font-size="18.5" text-anchor="middle" font-weight="normal" font-family="'Liberation Sans', Arial, sans-serif" >@@@</text>
<text x="1416.8" y="791.0" font-size="23.5" text-anchor="middle" font-weight="normal" font-family="'Liberation Serif', 'Times New Roman', serif" >NS</text>
<text x="1580.6" y="786.5" font-size="18.5" text-anchor="middle" font-weight="normal" font-family="'Liberation Sans', Arial, sans-serif" >@@@</text>
<text transform="translate(1265.3,906.0) rotate(-90)" x="0" y="0" font-size="36.5" text-anchor="middle" font-family="'Liberation Sans', Arial, sans-serif" >NRVCs size (F/C)</text>
<text x="1311.7" y="1179.1" font-size="31" text-anchor="end" font-weight="normal" font-family="'Liberation Sans', Arial, sans-serif" >LB100</text>
<text x="1311.7" y="1213.4" font-size="29.5" text-anchor="end" font-weight="normal" font-family="'Liberation Sans', Arial, sans-serif" >PE 1<tspan font-family="Liberation Serif" font-size="32">μ</tspan>M</text>
<text x="1364.5" y="1180.7" font-size="34" text-anchor="middle" font-weight="normal" font-family="'Liberation Sans', Arial, sans-serif" >-</text>
<text x="1472.5" y="1180.7" font-size="34" text-anchor="middle" font-weight="normal" font-family="'Liberation Sans', Arial, sans-serif" >-</text>
<text x="1580.5" y="1179.8" font-size="34" text-anchor="middle" font-weight="normal" font-family="'Liberation Sans', Arial, sans-serif" >+</text>
<text x="1688.5" y="1179.8" font-size="34" text-anchor="middle" font-weight="normal" font-family="'Liberation Sans', Arial, sans-serif" >+</text>
<text x="1364.5" y="1213.3" font-size="34" text-anchor="middle" font-weight="normal" font-family="'Liberation Sans', Arial, sans-serif" >-</text>
<text x="1472.5" y="1213.3" font-size="34" text-anchor="middle" font-weight="normal" font-family="'Liberation Sans', Arial, sans-serif" >+</text>
<text x="1580.5" y="1213.3" font-size="34" text-anchor="middle" font-weight="normal" font-family="'Liberation Sans', Arial, sans-serif" >-</text>
<text x="1688.5" y="1213.3" font-size="34" text-anchor="middle" font-weight="normal" font-family="'Liberation Sans', Arial, sans-serif" >+</text>
</svg>
</body></html>
